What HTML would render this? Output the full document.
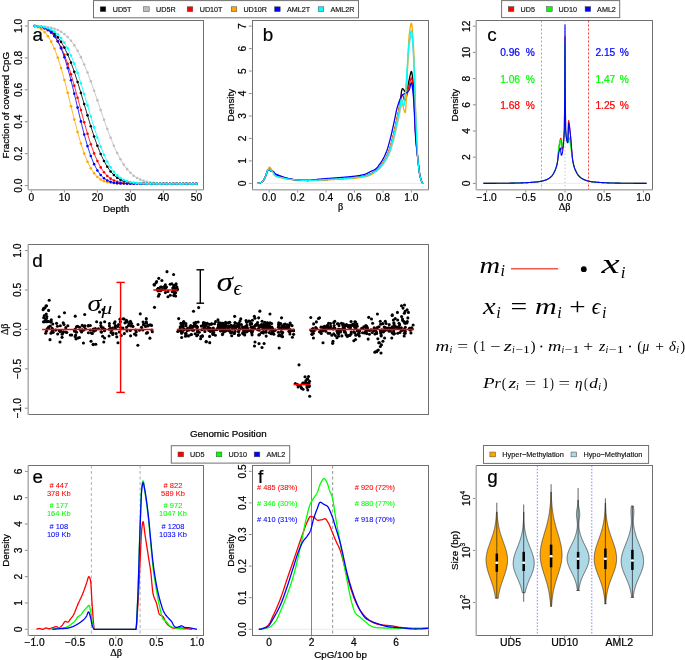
<!DOCTYPE html>
<html><head><meta charset="utf-8"><style>
html,body{margin:0;padding:0;background:#fff;width:685px;height:660px;overflow:hidden}
svg{display:block;will-change:transform}

</style></head><body>
<svg width="685" height="660" viewBox="0 0 685 660">
<rect width="685" height="660" fill="#fff"/>
<rect x="93.5" y="0.6" width="265" height="17.2" fill="#fff" stroke="#707070" stroke-width="1"/>
<rect x="100.2" y="6.8" width="5.6" height="4.8" fill="#000000" stroke="#444" stroke-width="0.5"/>
<text x="112.7" y="11.9" font-size="7.2" text-anchor="start" fill="#111" stroke="#111" stroke-width="0.16" font-family='"Liberation Sans", sans-serif'>UD5T</text>
<rect x="143.6" y="6.8" width="5.6" height="4.8" fill="#bebebe" stroke="#444" stroke-width="0.5"/>
<text x="156" y="11.9" font-size="7.2" text-anchor="start" fill="#111" stroke="#111" stroke-width="0.16" font-family='"Liberation Sans", sans-serif'>UD5R</text>
<rect x="187.2" y="6.8" width="5.6" height="4.8" fill="#ff0000" stroke="#444" stroke-width="0.5"/>
<text x="199.7" y="11.9" font-size="7.2" text-anchor="start" fill="#111" stroke="#111" stroke-width="0.16" font-family='"Liberation Sans", sans-serif'>UD10T</text>
<rect x="231.2" y="6.8" width="5.6" height="4.8" fill="#ffa500" stroke="#444" stroke-width="0.5"/>
<text x="243.4" y="11.9" font-size="7.2" text-anchor="start" fill="#111" stroke="#111" stroke-width="0.16" font-family='"Liberation Sans", sans-serif'>UD10R</text>
<rect x="274.6" y="6.8" width="5.6" height="4.8" fill="#0000ff" stroke="#444" stroke-width="0.5"/>
<text x="287" y="11.9" font-size="7.2" text-anchor="start" fill="#111" stroke="#111" stroke-width="0.16" font-family='"Liberation Sans", sans-serif'>AML2T</text>
<rect x="318.2" y="6.8" width="5.6" height="4.8" fill="#00ffff" stroke="#444" stroke-width="0.5"/>
<text x="330.5" y="11.9" font-size="7.2" text-anchor="start" fill="#111" stroke="#111" stroke-width="0.16" font-family='"Liberation Sans", sans-serif'>AML2R</text>
<rect x="28.5" y="20.5" width="175" height="169" fill="none" stroke="#707070" stroke-width="1"/>
<line x1="28" y1="190" x2="203.5" y2="190" stroke="#c4c4c4" stroke-width="1.5"/>
<line x1="31.4" y1="190.5" x2="31.4" y2="192.5" stroke="#707070" stroke-width="0.8"/>
<line x1="64.4" y1="190.5" x2="64.4" y2="192.5" stroke="#707070" stroke-width="0.8"/>
<line x1="97.4" y1="190.5" x2="97.4" y2="192.5" stroke="#707070" stroke-width="0.8"/>
<line x1="130.4" y1="190.5" x2="130.4" y2="192.5" stroke="#707070" stroke-width="0.8"/>
<line x1="163.4" y1="190.5" x2="163.4" y2="192.5" stroke="#707070" stroke-width="0.8"/>
<line x1="196.4" y1="190.5" x2="196.4" y2="192.5" stroke="#707070" stroke-width="0.8"/>
<text x="31.4" y="200.5" font-size="10.2" text-anchor="middle" fill="#000" stroke="#000" stroke-width="0.22" font-family='"Liberation Sans", sans-serif'>0</text>
<text x="64.4" y="200.5" font-size="10.2" text-anchor="middle" fill="#000" stroke="#000" stroke-width="0.22" font-family='"Liberation Sans", sans-serif'>10</text>
<text x="97.4" y="200.5" font-size="10.2" text-anchor="middle" fill="#000" stroke="#000" stroke-width="0.22" font-family='"Liberation Sans", sans-serif'>20</text>
<text x="130.4" y="200.5" font-size="10.2" text-anchor="middle" fill="#000" stroke="#000" stroke-width="0.22" font-family='"Liberation Sans", sans-serif'>30</text>
<text x="163.4" y="200.5" font-size="10.2" text-anchor="middle" fill="#000" stroke="#000" stroke-width="0.22" font-family='"Liberation Sans", sans-serif'>40</text>
<text x="196.4" y="200.5" font-size="10.2" text-anchor="middle" fill="#000" stroke="#000" stroke-width="0.22" font-family='"Liberation Sans", sans-serif'>50</text>
<line x1="28" y1="20.5" x2="28" y2="190" stroke="#c4c4c4" stroke-width="1.5"/>
<line x1="24.9" y1="185.6" x2="27.7" y2="185.6" stroke="#707070" stroke-width="0.8"/>
<line x1="24.9" y1="153.68" x2="27.7" y2="153.68" stroke="#707070" stroke-width="0.8"/>
<line x1="24.9" y1="121.76" x2="27.7" y2="121.76" stroke="#707070" stroke-width="0.8"/>
<line x1="24.9" y1="89.84" x2="27.7" y2="89.84" stroke="#707070" stroke-width="0.8"/>
<line x1="24.9" y1="57.92" x2="27.7" y2="57.92" stroke="#707070" stroke-width="0.8"/>
<line x1="24.9" y1="26" x2="27.7" y2="26" stroke="#707070" stroke-width="0.8"/>
<text x="21.7" y="185.6" font-size="10.2" text-anchor="middle" fill="#000" stroke="#000" stroke-width="0.22" font-family='"Liberation Sans", sans-serif' transform="rotate(-90 21.7 185.6)">0.0</text>
<text x="21.7" y="153.68" font-size="10.2" text-anchor="middle" fill="#000" stroke="#000" stroke-width="0.22" font-family='"Liberation Sans", sans-serif' transform="rotate(-90 21.7 153.68)">0.2</text>
<text x="21.7" y="121.76" font-size="10.2" text-anchor="middle" fill="#000" stroke="#000" stroke-width="0.22" font-family='"Liberation Sans", sans-serif' transform="rotate(-90 21.7 121.76)">0.4</text>
<text x="21.7" y="89.84" font-size="10.2" text-anchor="middle" fill="#000" stroke="#000" stroke-width="0.22" font-family='"Liberation Sans", sans-serif' transform="rotate(-90 21.7 89.84)">0.6</text>
<text x="21.7" y="57.92" font-size="10.2" text-anchor="middle" fill="#000" stroke="#000" stroke-width="0.22" font-family='"Liberation Sans", sans-serif' transform="rotate(-90 21.7 57.92)">0.8</text>
<text x="21.7" y="26" font-size="10.2" text-anchor="middle" fill="#000" stroke="#000" stroke-width="0.22" font-family='"Liberation Sans", sans-serif' transform="rotate(-90 21.7 26)">1.0</text>
<text x="116.1" y="212.4" font-size="9.8" text-anchor="middle" fill="#000" stroke="#000" stroke-width="0.22" font-family='"Liberation Sans", sans-serif'>Depth</text>
<text x="9" y="105.2" font-size="9.8" text-anchor="middle" fill="#000" stroke="#000" stroke-width="0.22" font-family='"Liberation Sans", sans-serif' transform="rotate(-90 9 105.2)">Fraction of covered CpG</text>
<text x="32.6" y="40.8" font-size="18.8" text-anchor="start" fill="#000" stroke="#000" stroke-width="0.22" font-family='"Liberation Sans", sans-serif'>a</text>
<path d="M34.7,26 L38,26.39 L41.3,26.99 L44.6,27.91 L47.9,29.26 L51.2,31.17 L54.5,33.81 L57.8,37.33 L61.1,41.88 L64.4,47.58 L67.7,54.5 L71,62.61 L74.3,71.85 L77.6,82.02 L80.9,92.88 L84.2,104.11 L87.5,115.35 L90.8,126.25 L94.1,136.49 L97.4,145.81 L100.7,154.02 L104,161.03 L107.3,166.82 L110.6,171.46 L113.9,175.06 L117.2,177.77 L120.5,179.73 L123.8,181.12 L127.1,182.07 L130.4,182.69 L133.7,183.1 L137,183.34 L140.3,183.49 L143.6,183.58 L146.9,183.63 L150.2,183.66 L153.5,183.67 L156.8,183.68 L160.1,183.68 L163.4,183.68 L166.7,183.68 L170,183.68 L173.3,183.68 L176.6,183.68 L179.9,183.68 L183.2,183.68 L186.5,183.68 L189.8,183.68 L193.1,183.68 L196.4,183.68" fill="none" stroke="#000000" stroke-width="0.8"/>
<g fill="#000000"><circle cx="34.7" cy="26" r="1.3"/><circle cx="38" cy="26.39" r="1.3"/><circle cx="41.3" cy="26.99" r="1.3"/><circle cx="44.6" cy="27.91" r="1.3"/><circle cx="47.9" cy="29.26" r="1.3"/><circle cx="51.2" cy="31.17" r="1.3"/><circle cx="54.5" cy="33.81" r="1.3"/><circle cx="57.8" cy="37.33" r="1.3"/><circle cx="61.1" cy="41.88" r="1.3"/><circle cx="64.4" cy="47.58" r="1.3"/><circle cx="67.7" cy="54.5" r="1.3"/><circle cx="71" cy="62.61" r="1.3"/><circle cx="74.3" cy="71.85" r="1.3"/><circle cx="77.6" cy="82.02" r="1.3"/><circle cx="80.9" cy="92.88" r="1.3"/><circle cx="84.2" cy="104.11" r="1.3"/><circle cx="87.5" cy="115.35" r="1.3"/><circle cx="90.8" cy="126.25" r="1.3"/><circle cx="94.1" cy="136.49" r="1.3"/><circle cx="97.4" cy="145.81" r="1.3"/><circle cx="100.7" cy="154.02" r="1.3"/><circle cx="104" cy="161.03" r="1.3"/><circle cx="107.3" cy="166.82" r="1.3"/><circle cx="110.6" cy="171.46" r="1.3"/><circle cx="113.9" cy="175.06" r="1.3"/><circle cx="117.2" cy="177.77" r="1.3"/><circle cx="120.5" cy="179.73" r="1.3"/><circle cx="123.8" cy="181.12" r="1.3"/><circle cx="127.1" cy="182.07" r="1.3"/><circle cx="130.4" cy="182.69" r="1.3"/><circle cx="133.7" cy="183.1" r="1.3"/><circle cx="137" cy="183.34" r="1.3"/><circle cx="140.3" cy="183.49" r="1.3"/><circle cx="143.6" cy="183.58" r="1.3"/><circle cx="146.9" cy="183.63" r="1.3"/><circle cx="150.2" cy="183.66" r="1.3"/><circle cx="153.5" cy="183.67" r="1.3"/><circle cx="156.8" cy="183.68" r="1.3"/><circle cx="160.1" cy="183.68" r="1.3"/><circle cx="163.4" cy="183.68" r="1.3"/><circle cx="166.7" cy="183.68" r="1.3"/><circle cx="170" cy="183.68" r="1.3"/><circle cx="173.3" cy="183.68" r="1.3"/><circle cx="176.6" cy="183.68" r="1.3"/><circle cx="179.9" cy="183.68" r="1.3"/><circle cx="183.2" cy="183.68" r="1.3"/><circle cx="186.5" cy="183.68" r="1.3"/><circle cx="189.8" cy="183.68" r="1.3"/><circle cx="193.1" cy="183.68" r="1.3"/><circle cx="196.4" cy="183.68" r="1.3"/></g>
<path d="M34.7,26 L38,26.13 L41.3,26.33 L44.6,26.64 L47.9,27.1 L51.2,27.76 L54.5,28.7 L57.8,30 L61.1,31.75 L64.4,34.06 L67.7,37.03 L71,40.76 L74.3,45.33 L77.6,50.79 L80.9,57.17 L84.2,64.45 L87.5,72.55 L90.8,81.35 L94.1,90.68 L97.4,100.35 L100.7,110.12 L104,119.76 L107.3,129.05 L110.6,137.78 L113.9,145.8 L117.2,152.99 L120.5,159.28 L123.8,164.66 L127.1,169.14 L130.4,172.78 L133.7,175.68 L137,177.93 L140.3,179.63 L143.6,180.89 L146.9,181.8 L150.2,182.44 L153.5,182.88 L156.8,183.18 L160.1,183.37 L163.4,183.5 L166.7,183.57 L170,183.62 L173.3,183.65 L176.6,183.66 L179.9,183.67 L183.2,183.68 L186.5,183.68 L189.8,183.68 L193.1,183.68 L196.4,183.68" fill="none" stroke="#bebebe" stroke-width="0.8"/>
<g fill="#bebebe"><circle cx="34.7" cy="26" r="1.3"/><circle cx="38" cy="26.13" r="1.3"/><circle cx="41.3" cy="26.33" r="1.3"/><circle cx="44.6" cy="26.64" r="1.3"/><circle cx="47.9" cy="27.1" r="1.3"/><circle cx="51.2" cy="27.76" r="1.3"/><circle cx="54.5" cy="28.7" r="1.3"/><circle cx="57.8" cy="30" r="1.3"/><circle cx="61.1" cy="31.75" r="1.3"/><circle cx="64.4" cy="34.06" r="1.3"/><circle cx="67.7" cy="37.03" r="1.3"/><circle cx="71" cy="40.76" r="1.3"/><circle cx="74.3" cy="45.33" r="1.3"/><circle cx="77.6" cy="50.79" r="1.3"/><circle cx="80.9" cy="57.17" r="1.3"/><circle cx="84.2" cy="64.45" r="1.3"/><circle cx="87.5" cy="72.55" r="1.3"/><circle cx="90.8" cy="81.35" r="1.3"/><circle cx="94.1" cy="90.68" r="1.3"/><circle cx="97.4" cy="100.35" r="1.3"/><circle cx="100.7" cy="110.12" r="1.3"/><circle cx="104" cy="119.76" r="1.3"/><circle cx="107.3" cy="129.05" r="1.3"/><circle cx="110.6" cy="137.78" r="1.3"/><circle cx="113.9" cy="145.8" r="1.3"/><circle cx="117.2" cy="152.99" r="1.3"/><circle cx="120.5" cy="159.28" r="1.3"/><circle cx="123.8" cy="164.66" r="1.3"/><circle cx="127.1" cy="169.14" r="1.3"/><circle cx="130.4" cy="172.78" r="1.3"/><circle cx="133.7" cy="175.68" r="1.3"/><circle cx="137" cy="177.93" r="1.3"/><circle cx="140.3" cy="179.63" r="1.3"/><circle cx="143.6" cy="180.89" r="1.3"/><circle cx="146.9" cy="181.8" r="1.3"/><circle cx="150.2" cy="182.44" r="1.3"/><circle cx="153.5" cy="182.88" r="1.3"/><circle cx="156.8" cy="183.18" r="1.3"/><circle cx="160.1" cy="183.37" r="1.3"/><circle cx="163.4" cy="183.5" r="1.3"/><circle cx="166.7" cy="183.57" r="1.3"/><circle cx="170" cy="183.62" r="1.3"/><circle cx="173.3" cy="183.65" r="1.3"/><circle cx="176.6" cy="183.66" r="1.3"/><circle cx="179.9" cy="183.67" r="1.3"/><circle cx="183.2" cy="183.68" r="1.3"/><circle cx="186.5" cy="183.68" r="1.3"/><circle cx="189.8" cy="183.68" r="1.3"/><circle cx="193.1" cy="183.68" r="1.3"/><circle cx="196.4" cy="183.68" r="1.3"/></g>
<path d="M34.7,26 L38,26.47 L41.3,27.24 L44.6,28.43 L47.9,30.21 L51.2,32.79 L54.5,36.36 L57.8,41.13 L61.1,47.26 L64.4,54.85 L67.7,63.87 L71,74.22 L74.3,85.63 L77.6,97.73 L80.9,110.1 L84.2,122.25 L87.5,133.74 L90.8,144.21 L94.1,153.38 L97.4,161.11 L100.7,167.38 L104,172.28 L107.3,175.96 L110.6,178.63 L113.9,180.48 L117.2,181.72 L120.5,182.53 L123.8,183.02 L127.1,183.32 L130.4,183.49 L133.7,183.59 L137,183.64 L140.3,183.66 L143.6,183.67 L146.9,183.68 L150.2,183.68 L153.5,183.68 L156.8,183.68 L160.1,183.68 L163.4,183.68 L166.7,183.68 L170,183.68 L173.3,183.68 L176.6,183.68 L179.9,183.68 L183.2,183.68 L186.5,183.68 L189.8,183.68 L193.1,183.68 L196.4,183.68" fill="none" stroke="#ff0000" stroke-width="0.8"/>
<g fill="#ff0000"><circle cx="34.7" cy="26" r="1.3"/><circle cx="38" cy="26.47" r="1.3"/><circle cx="41.3" cy="27.24" r="1.3"/><circle cx="44.6" cy="28.43" r="1.3"/><circle cx="47.9" cy="30.21" r="1.3"/><circle cx="51.2" cy="32.79" r="1.3"/><circle cx="54.5" cy="36.36" r="1.3"/><circle cx="57.8" cy="41.13" r="1.3"/><circle cx="61.1" cy="47.26" r="1.3"/><circle cx="64.4" cy="54.85" r="1.3"/><circle cx="67.7" cy="63.87" r="1.3"/><circle cx="71" cy="74.22" r="1.3"/><circle cx="74.3" cy="85.63" r="1.3"/><circle cx="77.6" cy="97.73" r="1.3"/><circle cx="80.9" cy="110.1" r="1.3"/><circle cx="84.2" cy="122.25" r="1.3"/><circle cx="87.5" cy="133.74" r="1.3"/><circle cx="90.8" cy="144.21" r="1.3"/><circle cx="94.1" cy="153.38" r="1.3"/><circle cx="97.4" cy="161.11" r="1.3"/><circle cx="100.7" cy="167.38" r="1.3"/><circle cx="104" cy="172.28" r="1.3"/><circle cx="107.3" cy="175.96" r="1.3"/><circle cx="110.6" cy="178.63" r="1.3"/><circle cx="113.9" cy="180.48" r="1.3"/><circle cx="117.2" cy="181.72" r="1.3"/><circle cx="120.5" cy="182.53" r="1.3"/><circle cx="123.8" cy="183.02" r="1.3"/><circle cx="127.1" cy="183.32" r="1.3"/><circle cx="130.4" cy="183.49" r="1.3"/><circle cx="133.7" cy="183.59" r="1.3"/><circle cx="137" cy="183.64" r="1.3"/><circle cx="140.3" cy="183.66" r="1.3"/><circle cx="143.6" cy="183.67" r="1.3"/><circle cx="146.9" cy="183.68" r="1.3"/><circle cx="150.2" cy="183.68" r="1.3"/><circle cx="153.5" cy="183.68" r="1.3"/><circle cx="156.8" cy="183.68" r="1.3"/><circle cx="160.1" cy="183.68" r="1.3"/><circle cx="163.4" cy="183.68" r="1.3"/><circle cx="166.7" cy="183.68" r="1.3"/><circle cx="170" cy="183.68" r="1.3"/><circle cx="173.3" cy="183.68" r="1.3"/><circle cx="176.6" cy="183.68" r="1.3"/><circle cx="179.9" cy="183.68" r="1.3"/><circle cx="183.2" cy="183.68" r="1.3"/><circle cx="186.5" cy="183.68" r="1.3"/><circle cx="189.8" cy="183.68" r="1.3"/><circle cx="193.1" cy="183.68" r="1.3"/><circle cx="196.4" cy="183.68" r="1.3"/></g>
<path d="M34.7,26 L38,27.26 L41.3,29.2 L44.6,32.08 L47.9,36.15 L51.2,41.66 L54.5,48.79 L57.8,57.63 L61.1,68.11 L64.4,79.99 L67.7,92.87 L71,106.23 L74.3,119.5 L77.6,132.09 L80.9,143.53 L84.2,153.47 L87.5,161.73 L90.8,168.29 L94.1,173.29 L97.4,176.93 L100.7,179.46 L104,181.14 L107.3,182.21 L110.6,182.87 L113.9,183.25 L117.2,183.46 L120.5,183.58 L123.8,183.63 L127.1,183.66 L130.4,183.67 L133.7,183.68 L137,183.68 L140.3,183.68 L143.6,183.68 L146.9,183.68 L150.2,183.68 L153.5,183.68 L156.8,183.68 L160.1,183.68 L163.4,183.68 L166.7,183.68 L170,183.68 L173.3,183.68 L176.6,183.68 L179.9,183.68 L183.2,183.68 L186.5,183.68 L189.8,183.68 L193.1,183.68 L196.4,183.68" fill="none" stroke="#ffa500" stroke-width="0.8"/>
<g fill="#ffa500"><circle cx="34.7" cy="26" r="1.3"/><circle cx="38" cy="27.26" r="1.3"/><circle cx="41.3" cy="29.2" r="1.3"/><circle cx="44.6" cy="32.08" r="1.3"/><circle cx="47.9" cy="36.15" r="1.3"/><circle cx="51.2" cy="41.66" r="1.3"/><circle cx="54.5" cy="48.79" r="1.3"/><circle cx="57.8" cy="57.63" r="1.3"/><circle cx="61.1" cy="68.11" r="1.3"/><circle cx="64.4" cy="79.99" r="1.3"/><circle cx="67.7" cy="92.87" r="1.3"/><circle cx="71" cy="106.23" r="1.3"/><circle cx="74.3" cy="119.5" r="1.3"/><circle cx="77.6" cy="132.09" r="1.3"/><circle cx="80.9" cy="143.53" r="1.3"/><circle cx="84.2" cy="153.47" r="1.3"/><circle cx="87.5" cy="161.73" r="1.3"/><circle cx="90.8" cy="168.29" r="1.3"/><circle cx="94.1" cy="173.29" r="1.3"/><circle cx="97.4" cy="176.93" r="1.3"/><circle cx="100.7" cy="179.46" r="1.3"/><circle cx="104" cy="181.14" r="1.3"/><circle cx="107.3" cy="182.21" r="1.3"/><circle cx="110.6" cy="182.87" r="1.3"/><circle cx="113.9" cy="183.25" r="1.3"/><circle cx="117.2" cy="183.46" r="1.3"/><circle cx="120.5" cy="183.58" r="1.3"/><circle cx="123.8" cy="183.63" r="1.3"/><circle cx="127.1" cy="183.66" r="1.3"/><circle cx="130.4" cy="183.67" r="1.3"/><circle cx="133.7" cy="183.68" r="1.3"/><circle cx="137" cy="183.68" r="1.3"/><circle cx="140.3" cy="183.68" r="1.3"/><circle cx="143.6" cy="183.68" r="1.3"/><circle cx="146.9" cy="183.68" r="1.3"/><circle cx="150.2" cy="183.68" r="1.3"/><circle cx="153.5" cy="183.68" r="1.3"/><circle cx="156.8" cy="183.68" r="1.3"/><circle cx="160.1" cy="183.68" r="1.3"/><circle cx="163.4" cy="183.68" r="1.3"/><circle cx="166.7" cy="183.68" r="1.3"/><circle cx="170" cy="183.68" r="1.3"/><circle cx="173.3" cy="183.68" r="1.3"/><circle cx="176.6" cy="183.68" r="1.3"/><circle cx="179.9" cy="183.68" r="1.3"/><circle cx="183.2" cy="183.68" r="1.3"/><circle cx="186.5" cy="183.68" r="1.3"/><circle cx="189.8" cy="183.68" r="1.3"/><circle cx="193.1" cy="183.68" r="1.3"/><circle cx="196.4" cy="183.68" r="1.3"/></g>
<path d="M34.7,26 L38,26.34 L41.3,26.95 L44.6,27.98 L47.9,29.66 L51.2,32.24 L54.5,36.02 L57.8,41.31 L61.1,48.33 L64.4,57.23 L67.7,67.94 L71,80.23 L74.3,93.65 L77.6,107.61 L80.9,121.42 L84.2,134.43 L87.5,146.1 L90.8,156.07 L94.1,164.17 L97.4,170.44 L100.7,175.06 L104,178.3 L107.3,180.47 L110.6,181.85 L113.9,182.68 L117.2,183.16 L120.5,183.42 L123.8,183.56 L127.1,183.63 L130.4,183.66 L133.7,183.67 L137,183.68 L140.3,183.68 L143.6,183.68 L146.9,183.68 L150.2,183.68 L153.5,183.68 L156.8,183.68 L160.1,183.68 L163.4,183.68 L166.7,183.68 L170,183.68 L173.3,183.68 L176.6,183.68 L179.9,183.68 L183.2,183.68 L186.5,183.68 L189.8,183.68 L193.1,183.68 L196.4,183.68" fill="none" stroke="#0000ff" stroke-width="0.8"/>
<g fill="#0000ff"><circle cx="34.7" cy="26" r="1.3"/><circle cx="38" cy="26.34" r="1.3"/><circle cx="41.3" cy="26.95" r="1.3"/><circle cx="44.6" cy="27.98" r="1.3"/><circle cx="47.9" cy="29.66" r="1.3"/><circle cx="51.2" cy="32.24" r="1.3"/><circle cx="54.5" cy="36.02" r="1.3"/><circle cx="57.8" cy="41.31" r="1.3"/><circle cx="61.1" cy="48.33" r="1.3"/><circle cx="64.4" cy="57.23" r="1.3"/><circle cx="67.7" cy="67.94" r="1.3"/><circle cx="71" cy="80.23" r="1.3"/><circle cx="74.3" cy="93.65" r="1.3"/><circle cx="77.6" cy="107.61" r="1.3"/><circle cx="80.9" cy="121.42" r="1.3"/><circle cx="84.2" cy="134.43" r="1.3"/><circle cx="87.5" cy="146.1" r="1.3"/><circle cx="90.8" cy="156.07" r="1.3"/><circle cx="94.1" cy="164.17" r="1.3"/><circle cx="97.4" cy="170.44" r="1.3"/><circle cx="100.7" cy="175.06" r="1.3"/><circle cx="104" cy="178.3" r="1.3"/><circle cx="107.3" cy="180.47" r="1.3"/><circle cx="110.6" cy="181.85" r="1.3"/><circle cx="113.9" cy="182.68" r="1.3"/><circle cx="117.2" cy="183.16" r="1.3"/><circle cx="120.5" cy="183.42" r="1.3"/><circle cx="123.8" cy="183.56" r="1.3"/><circle cx="127.1" cy="183.63" r="1.3"/><circle cx="130.4" cy="183.66" r="1.3"/><circle cx="133.7" cy="183.67" r="1.3"/><circle cx="137" cy="183.68" r="1.3"/><circle cx="140.3" cy="183.68" r="1.3"/><circle cx="143.6" cy="183.68" r="1.3"/><circle cx="146.9" cy="183.68" r="1.3"/><circle cx="150.2" cy="183.68" r="1.3"/><circle cx="153.5" cy="183.68" r="1.3"/><circle cx="156.8" cy="183.68" r="1.3"/><circle cx="160.1" cy="183.68" r="1.3"/><circle cx="163.4" cy="183.68" r="1.3"/><circle cx="166.7" cy="183.68" r="1.3"/><circle cx="170" cy="183.68" r="1.3"/><circle cx="173.3" cy="183.68" r="1.3"/><circle cx="176.6" cy="183.68" r="1.3"/><circle cx="179.9" cy="183.68" r="1.3"/><circle cx="183.2" cy="183.68" r="1.3"/><circle cx="186.5" cy="183.68" r="1.3"/><circle cx="189.8" cy="183.68" r="1.3"/><circle cx="193.1" cy="183.68" r="1.3"/><circle cx="196.4" cy="183.68" r="1.3"/></g>
<path d="M34.7,26 L38,26.25 L41.3,26.65 L44.6,27.29 L47.9,28.24 L51.2,29.63 L54.5,31.61 L57.8,34.33 L61.1,37.94 L64.4,42.6 L67.7,48.41 L71,55.43 L74.3,63.66 L77.6,72.98 L80.9,83.22 L84.2,94.12 L87.5,105.35 L90.8,116.55 L94.1,127.39 L97.4,137.53 L100.7,146.73 L104,154.82 L107.3,161.69 L110.6,167.36 L113.9,171.88 L117.2,175.38 L120.5,178 L123.8,179.9 L127.1,181.24 L130.4,182.15 L133.7,182.74 L137,183.13 L140.3,183.36 L143.6,183.51 L146.9,183.59 L150.2,183.63 L153.5,183.66 L156.8,183.67 L160.1,183.68 L163.4,183.68 L166.7,183.68 L170,183.68 L173.3,183.68 L176.6,183.68 L179.9,183.68 L183.2,183.68 L186.5,183.68 L189.8,183.68 L193.1,183.68 L196.4,183.68" fill="none" stroke="#00ffff" stroke-width="0.8"/>
<g fill="#00ffff"><circle cx="34.7" cy="26" r="1.3"/><circle cx="38" cy="26.25" r="1.3"/><circle cx="41.3" cy="26.65" r="1.3"/><circle cx="44.6" cy="27.29" r="1.3"/><circle cx="47.9" cy="28.24" r="1.3"/><circle cx="51.2" cy="29.63" r="1.3"/><circle cx="54.5" cy="31.61" r="1.3"/><circle cx="57.8" cy="34.33" r="1.3"/><circle cx="61.1" cy="37.94" r="1.3"/><circle cx="64.4" cy="42.6" r="1.3"/><circle cx="67.7" cy="48.41" r="1.3"/><circle cx="71" cy="55.43" r="1.3"/><circle cx="74.3" cy="63.66" r="1.3"/><circle cx="77.6" cy="72.98" r="1.3"/><circle cx="80.9" cy="83.22" r="1.3"/><circle cx="84.2" cy="94.12" r="1.3"/><circle cx="87.5" cy="105.35" r="1.3"/><circle cx="90.8" cy="116.55" r="1.3"/><circle cx="94.1" cy="127.39" r="1.3"/><circle cx="97.4" cy="137.53" r="1.3"/><circle cx="100.7" cy="146.73" r="1.3"/><circle cx="104" cy="154.82" r="1.3"/><circle cx="107.3" cy="161.69" r="1.3"/><circle cx="110.6" cy="167.36" r="1.3"/><circle cx="113.9" cy="171.88" r="1.3"/><circle cx="117.2" cy="175.38" r="1.3"/><circle cx="120.5" cy="178" r="1.3"/><circle cx="123.8" cy="179.9" r="1.3"/><circle cx="127.1" cy="181.24" r="1.3"/><circle cx="130.4" cy="182.15" r="1.3"/><circle cx="133.7" cy="182.74" r="1.3"/><circle cx="137" cy="183.13" r="1.3"/><circle cx="140.3" cy="183.36" r="1.3"/><circle cx="143.6" cy="183.51" r="1.3"/><circle cx="146.9" cy="183.59" r="1.3"/><circle cx="150.2" cy="183.63" r="1.3"/><circle cx="153.5" cy="183.66" r="1.3"/><circle cx="156.8" cy="183.67" r="1.3"/><circle cx="160.1" cy="183.68" r="1.3"/><circle cx="163.4" cy="183.68" r="1.3"/><circle cx="166.7" cy="183.68" r="1.3"/><circle cx="170" cy="183.68" r="1.3"/><circle cx="173.3" cy="183.68" r="1.3"/><circle cx="176.6" cy="183.68" r="1.3"/><circle cx="179.9" cy="183.68" r="1.3"/><circle cx="183.2" cy="183.68" r="1.3"/><circle cx="186.5" cy="183.68" r="1.3"/><circle cx="189.8" cy="183.68" r="1.3"/><circle cx="193.1" cy="183.68" r="1.3"/><circle cx="196.4" cy="183.68" r="1.3"/></g>
<rect x="252.5" y="20.5" width="176" height="169" fill="none" stroke="#707070" stroke-width="1"/>
<line x1="252" y1="190" x2="428.5" y2="190" stroke="#c4c4c4" stroke-width="1.5"/>
<line x1="269.2" y1="190.5" x2="269.2" y2="192.5" stroke="#707070" stroke-width="0.8"/>
<line x1="297.64" y1="190.5" x2="297.64" y2="192.5" stroke="#707070" stroke-width="0.8"/>
<line x1="326.08" y1="190.5" x2="326.08" y2="192.5" stroke="#707070" stroke-width="0.8"/>
<line x1="354.52" y1="190.5" x2="354.52" y2="192.5" stroke="#707070" stroke-width="0.8"/>
<line x1="382.96" y1="190.5" x2="382.96" y2="192.5" stroke="#707070" stroke-width="0.8"/>
<line x1="411.4" y1="190.5" x2="411.4" y2="192.5" stroke="#707070" stroke-width="0.8"/>
<text x="269.2" y="200.5" font-size="10.2" text-anchor="middle" fill="#000" stroke="#000" stroke-width="0.22" font-family='"Liberation Sans", sans-serif'>0.0</text>
<text x="297.64" y="200.5" font-size="10.2" text-anchor="middle" fill="#000" stroke="#000" stroke-width="0.22" font-family='"Liberation Sans", sans-serif'>0.2</text>
<text x="326.08" y="200.5" font-size="10.2" text-anchor="middle" fill="#000" stroke="#000" stroke-width="0.22" font-family='"Liberation Sans", sans-serif'>0.4</text>
<text x="354.52" y="200.5" font-size="10.2" text-anchor="middle" fill="#000" stroke="#000" stroke-width="0.22" font-family='"Liberation Sans", sans-serif'>0.6</text>
<text x="382.96" y="200.5" font-size="10.2" text-anchor="middle" fill="#000" stroke="#000" stroke-width="0.22" font-family='"Liberation Sans", sans-serif'>0.8</text>
<text x="411.4" y="200.5" font-size="10.2" text-anchor="middle" fill="#000" stroke="#000" stroke-width="0.22" font-family='"Liberation Sans", sans-serif'>1.0</text>
<line x1="248.9" y1="183.4" x2="251.7" y2="183.4" stroke="#707070" stroke-width="0.8"/>
<line x1="248.9" y1="160.93" x2="251.7" y2="160.93" stroke="#707070" stroke-width="0.8"/>
<line x1="248.9" y1="138.46" x2="251.7" y2="138.46" stroke="#707070" stroke-width="0.8"/>
<line x1="248.9" y1="115.99" x2="251.7" y2="115.99" stroke="#707070" stroke-width="0.8"/>
<line x1="248.9" y1="93.52" x2="251.7" y2="93.52" stroke="#707070" stroke-width="0.8"/>
<line x1="248.9" y1="71.05" x2="251.7" y2="71.05" stroke="#707070" stroke-width="0.8"/>
<line x1="248.9" y1="48.58" x2="251.7" y2="48.58" stroke="#707070" stroke-width="0.8"/>
<line x1="248.9" y1="26.11" x2="251.7" y2="26.11" stroke="#707070" stroke-width="0.8"/>
<text x="245.7" y="183.4" font-size="10.2" text-anchor="middle" fill="#000" stroke="#000" stroke-width="0.22" font-family='"Liberation Sans", sans-serif' transform="rotate(-90 245.7 183.4)">0</text>
<text x="245.7" y="160.93" font-size="10.2" text-anchor="middle" fill="#000" stroke="#000" stroke-width="0.22" font-family='"Liberation Sans", sans-serif' transform="rotate(-90 245.7 160.93)">1</text>
<text x="245.7" y="138.46" font-size="10.2" text-anchor="middle" fill="#000" stroke="#000" stroke-width="0.22" font-family='"Liberation Sans", sans-serif' transform="rotate(-90 245.7 138.46)">2</text>
<text x="245.7" y="115.99" font-size="10.2" text-anchor="middle" fill="#000" stroke="#000" stroke-width="0.22" font-family='"Liberation Sans", sans-serif' transform="rotate(-90 245.7 115.99)">3</text>
<text x="245.7" y="93.52" font-size="10.2" text-anchor="middle" fill="#000" stroke="#000" stroke-width="0.22" font-family='"Liberation Sans", sans-serif' transform="rotate(-90 245.7 93.52)">4</text>
<text x="245.7" y="71.05" font-size="10.2" text-anchor="middle" fill="#000" stroke="#000" stroke-width="0.22" font-family='"Liberation Sans", sans-serif' transform="rotate(-90 245.7 71.05)">5</text>
<text x="245.7" y="48.58" font-size="10.2" text-anchor="middle" fill="#000" stroke="#000" stroke-width="0.22" font-family='"Liberation Sans", sans-serif' transform="rotate(-90 245.7 48.58)">6</text>
<text x="245.7" y="26.11" font-size="10.2" text-anchor="middle" fill="#000" stroke="#000" stroke-width="0.22" font-family='"Liberation Sans", sans-serif' transform="rotate(-90 245.7 26.11)">7</text>
<text x="340.6" y="210.2" font-size="10.3" text-anchor="middle" fill="#000" stroke="#000" stroke-width="0.22" font-family='"Liberation Serif", serif'>β</text>
<text x="234" y="105.2" font-size="9.8" text-anchor="middle" fill="#000" stroke="#000" stroke-width="0.22" font-family='"Liberation Sans", sans-serif' transform="rotate(-90 234 105.2)">Density</text>
<text x="262.8" y="40.9" font-size="18.8" text-anchor="start" fill="#000" stroke="#000" stroke-width="0.22" font-family='"Liberation Sans", sans-serif'>b</text>
<line x1="256.4" y1="183.4" x2="424.2" y2="183.4" stroke="#e6e6e6" stroke-width="0.8"/>
<path d="M256.97,183.4 L257.3,183.39 L257.64,183.37 L257.97,183.33 L258.3,183.28 L258.64,183.22 L258.97,183.15 L259.3,183.08 L259.63,183 L259.81,182.95 L259.97,182.91 L260.3,182.8 L260.63,182.66 L260.96,182.5 L261.3,182.3 L261.63,182.09 L261.96,181.85 L262.3,181.59 L262.63,181.31 L262.8,181.15 L262.96,180.99 L263.29,180.59 L263.63,180.09 L263.96,179.51 L264.29,178.88 L264.63,178.2 L264.96,177.48 L265.29,176.76 L265.62,176.03 L265.64,175.98 L265.96,175.2 L266.29,174.19 L266.62,173.11 L266.96,172.07 L267.29,171.18 L267.62,170.55 L267.78,170.37 L267.95,170.22 L268.29,169.96 L268.62,169.74 L268.95,169.58 L269.29,169.48 L269.48,169.47 L269.62,169.49 L269.95,169.71 L270.28,170.09 L270.62,170.52 L270.95,170.92 L271.19,171.14 L271.28,171.2 L271.62,171.4 L271.95,171.56 L272.28,171.71 L272.61,171.88 L272.95,172.09 L273.04,172.17 L273.28,172.41 L273.61,172.89 L273.95,173.47 L274.28,174.08 L274.61,174.65 L274.94,175.1 L275.17,175.31 L275.28,175.38 L275.61,175.58 L275.94,175.76 L276.28,175.91 L276.61,176.05 L276.94,176.17 L277.27,176.28 L277.61,176.39 L277.73,176.43 L277.94,176.5 L278.27,176.61 L278.61,176.71 L278.94,176.8 L279.27,176.89 L279.6,176.98 L279.94,177.06 L280.27,177.15 L280.6,177.23 L280.94,177.31 L281.27,177.38 L281.6,177.46 L281.93,177.54 L282,177.56 L282.27,177.62 L282.6,177.71 L282.93,177.79 L283.27,177.87 L283.6,177.95 L283.93,178.04 L284.26,178.12 L284.6,178.2 L284.93,178.28 L285.26,178.36 L285.6,178.44 L285.93,178.52 L286.26,178.59 L286.59,178.67 L286.93,178.74 L287.26,178.81 L287.59,178.87 L287.93,178.94 L288.26,179 L288.59,179.05 L288.92,179.1 L289.11,179.13 L289.26,179.15 L289.59,179.2 L289.92,179.25 L290.26,179.29 L290.59,179.33 L290.92,179.38 L291.25,179.42 L291.59,179.46 L291.92,179.5 L292.25,179.54 L292.59,179.58 L292.92,179.62 L293.25,179.65 L293.58,179.69 L293.92,179.72 L294.25,179.76 L294.58,179.79 L294.92,179.82 L295.25,179.85 L295.58,179.88 L295.91,179.9 L296.25,179.93 L296.58,179.96 L296.91,179.98 L297.25,180 L297.58,180.03 L297.64,180.03 L297.91,180.05 L298.24,180.07 L298.58,180.09 L298.91,180.11 L299.24,180.13 L299.57,180.15 L299.91,180.18 L300.24,180.2 L300.57,180.22 L300.91,180.24 L301.24,180.26 L301.57,180.28 L301.9,180.3 L302.24,180.31 L302.57,180.33 L302.9,180.35 L303.24,180.36 L303.57,180.38 L303.9,180.39 L304.23,180.41 L304.57,180.42 L304.9,180.43 L305.23,180.44 L305.57,180.45 L305.9,180.46 L306.23,180.47 L306.56,180.47 L306.9,180.48 L307.23,180.48 L307.56,180.48 L307.59,180.48 L307.9,180.48 L308.23,180.48 L308.56,180.47 L308.89,180.47 L309.23,180.46 L309.56,180.46 L309.89,180.45 L310.23,180.44 L310.56,180.43 L310.89,180.42 L311.22,180.41 L311.56,180.4 L311.89,180.38 L312.22,180.37 L312.56,180.36 L312.89,180.34 L313.22,180.33 L313.55,180.31 L313.89,180.29 L314.22,180.28 L314.55,180.26 L314.89,180.24 L315.22,180.23 L315.55,180.21 L315.88,180.19 L316.22,180.17 L316.55,180.15 L316.88,180.14 L317.22,180.12 L317.55,180.1 L317.88,180.08 L318.21,180.07 L318.55,180.05 L318.88,180.03 L318.97,180.03 L319.21,180.02 L319.55,180 L319.88,179.98 L320.21,179.97 L320.54,179.95 L320.88,179.93 L321.21,179.91 L321.54,179.89 L321.88,179.87 L322.21,179.85 L322.54,179.83 L322.87,179.81 L323.21,179.79 L323.54,179.77 L323.87,179.75 L324.21,179.73 L324.54,179.71 L324.87,179.69 L325.2,179.66 L325.54,179.64 L325.87,179.62 L326.2,179.6 L326.54,179.58 L326.87,179.55 L327.2,179.53 L327.53,179.51 L327.87,179.49 L328.2,179.46 L328.53,179.44 L328.87,179.42 L329.2,179.4 L329.53,179.37 L329.86,179.35 L330.2,179.33 L330.53,179.3 L330.86,179.28 L331.2,179.26 L331.53,179.24 L331.86,179.22 L332.19,179.19 L332.53,179.17 L332.86,179.15 L333.19,179.13 L333.19,179.13 L333.53,179.11 L333.86,179.09 L334.19,179.07 L334.52,179.05 L334.86,179.03 L335.19,179.01 L335.52,178.99 L335.86,178.97 L336.19,178.95 L336.52,178.93 L336.85,178.91 L337.19,178.89 L337.52,178.87 L337.85,178.85 L338.18,178.83 L338.52,178.81 L338.85,178.79 L339.18,178.77 L339.52,178.75 L339.85,178.73 L340.18,178.71 L340.51,178.69 L340.85,178.67 L341.18,178.65 L341.51,178.63 L341.85,178.61 L342.18,178.59 L342.51,178.57 L342.84,178.55 L343.18,178.52 L343.51,178.5 L343.84,178.48 L344.18,178.46 L344.51,178.44 L344.84,178.41 L345.17,178.39 L345.51,178.37 L345.84,178.35 L346.17,178.32 L346.51,178.3 L346.84,178.27 L347.17,178.25 L347.41,178.23 L347.5,178.22 L347.84,178.2 L348.17,178.17 L348.5,178.15 L348.84,178.12 L349.17,178.1 L349.5,178.07 L349.83,178.05 L350.17,178.02 L350.5,177.99 L350.83,177.97 L351.17,177.94 L351.5,177.91 L351.83,177.88 L352.16,177.85 L352.5,177.82 L352.83,177.8 L353.16,177.77 L353.5,177.73 L353.83,177.7 L354.16,177.67 L354.49,177.64 L354.83,177.61 L355.16,177.57 L355.49,177.54 L355.83,177.5 L356.16,177.47 L356.49,177.43 L356.82,177.39 L357.16,177.36 L357.36,177.33 L357.49,177.32 L357.82,177.28 L358.16,177.24 L358.49,177.2 L358.82,177.16 L359.15,177.11 L359.49,177.07 L359.82,177.02 L360.15,176.98 L360.49,176.93 L360.82,176.88 L361.15,176.83 L361.48,176.78 L361.82,176.72 L362.15,176.67 L362.48,176.61 L362.82,176.55 L363.15,176.48 L363.48,176.42 L363.81,176.35 L364.15,176.28 L364.47,176.21 L364.48,176.21 L364.81,176.13 L365.15,176.05 L365.48,175.95 L365.81,175.86 L366.14,175.75 L366.48,175.64 L366.81,175.53 L367.14,175.41 L367.48,175.28 L367.81,175.15 L368.14,175.02 L368.47,174.89 L368.81,174.75 L369.14,174.61 L369.47,174.46 L369.81,174.32 L370.14,174.17 L370.47,174.02 L370.8,173.87 L371.14,173.72 L371.47,173.57 L371.58,173.51 L371.8,173.41 L372.14,173.26 L372.47,173.11 L372.8,172.95 L373.13,172.79 L373.47,172.64 L373.8,172.47 L374.13,172.31 L374.47,172.14 L374.8,171.96 L375.13,171.78 L375.46,171.6 L375.8,171.41 L376.13,171.21 L376.46,171.01 L376.79,170.81 L377.13,170.59 L377.46,170.37 L377.79,170.14 L378.13,169.9 L378.46,169.65 L378.69,169.47 L378.79,169.39 L379.12,169.12 L379.46,168.82 L379.79,168.51 L380.12,168.17 L380.46,167.82 L380.79,167.46 L381.12,167.08 L381.45,166.68 L381.79,166.27 L382.12,165.85 L382.45,165.42 L382.79,164.98 L383.12,164.52 L383.45,164.06 L383.78,163.59 L384.12,163.11 L384.38,162.73 L384.45,162.63 L384.78,162.13 L385.12,161.63 L385.45,161.11 L385.78,160.57 L386.11,160.02 L386.45,159.45 L386.78,158.87 L387.11,158.27 L387.45,157.64 L387.78,157 L388.11,156.34 L388.44,155.65 L388.78,154.94 L389.11,154.2 L389.44,153.44 L389.78,152.66 L390.07,151.94 L390.11,151.85 L390.44,150.98 L390.77,150.04 L391.11,149.04 L391.44,147.99 L391.77,146.88 L392.11,145.73 L392.44,144.54 L392.77,143.32 L393.1,142.08 L393.44,140.81 L393.77,139.53 L394.1,138.24 L394.34,137.34 L394.44,136.95 L394.77,135.61 L395.1,134.23 L395.43,132.81 L395.77,131.35 L396.1,129.86 L396.43,128.35 L396.77,126.81 L397.1,125.26 L397.43,123.71 L397.76,122.14 L398.1,120.59 L398.43,119.03 L398.6,118.24 L398.76,117.49 L399.1,115.89 L399.43,114.27 L399.76,112.64 L400.09,111.04 L400.43,109.49 L400.74,108.13 L400.76,108.02 L401.09,106.59 L401.43,105.18 L401.76,103.87 L402.09,102.71 L402.16,102.51 L402.42,101.76 L402.76,100.97 L403.09,100.3 L403.42,99.68 L403.76,99.07 L404.09,98.39 L404.42,97.6 L404.75,96.63 L405,95.77 L405.09,95.41 L405.42,93.37 L405.75,90.43 L406.09,86.75 L406.42,82.49 L406.75,77.81 L407.08,72.88 L407.42,67.84 L407.75,62.88 L408.08,58.13 L408.42,53.77 L408.75,49.96 L409.08,46.85 L409.27,45.48 L409.41,44.5 L409.75,42.24 L410.08,40.06 L410.41,38.1 L410.75,36.52 L411.08,35.46 L411.4,35.1 L411.41,35.1 L411.74,35.94 L412.08,38.17 L412.41,41.51 L412.74,45.69 L413.08,50.42 L413.41,55.44 L413.53,57.34 L413.74,61.07 L414.07,69.05 L414.41,78.79 L414.74,89.42 L415.07,100.11 L415.4,110 L415.67,116.66 L415.74,118.32 L416.07,126.05 L416.4,133.66 L416.74,140.9 L417.07,147.52 L417.4,153.28 L417.73,157.93 L417.8,158.68 L418.07,161.6 L418.4,164.9 L418.73,167.84 L419.07,170.44 L419.4,172.68 L419.73,174.57 L419.93,175.54 L420.06,176.13 L420.4,177.52 L420.73,178.78 L421.06,179.9 L421.4,180.86 L421.73,181.65 L422.06,182.27 L422.06,182.28 L422.39,182.76 L422.73,183.15 L423.06,183.4" fill="none" stroke="#bebebe" stroke-width="1.3" stroke-linejoin="round"/>
<path d="M256.97,183.4 L257.3,183.39 L257.64,183.37 L257.97,183.33 L258.3,183.28 L258.64,183.22 L258.97,183.15 L259.3,183.08 L259.63,183 L259.81,182.95 L259.97,182.91 L260.3,182.8 L260.63,182.66 L260.96,182.5 L261.3,182.3 L261.63,182.09 L261.96,181.85 L262.3,181.59 L262.63,181.31 L262.8,181.15 L262.96,180.99 L263.29,180.59 L263.63,180.09 L263.96,179.51 L264.29,178.88 L264.63,178.2 L264.96,177.48 L265.29,176.76 L265.62,176.03 L265.64,175.98 L265.96,175.22 L266.29,174.27 L266.62,173.26 L266.96,172.26 L267.29,171.36 L267.62,170.63 L267.78,170.37 L267.95,170.1 L268.29,169.61 L268.62,169.17 L268.95,168.82 L269.29,168.61 L269.48,168.57 L269.62,168.59 L269.95,168.82 L270.28,169.21 L270.62,169.67 L270.95,170.11 L271.19,170.35 L271.28,170.42 L271.62,170.66 L271.95,170.87 L272.28,171.07 L272.61,171.28 L272.95,171.53 L273.04,171.6 L273.28,171.84 L273.61,172.25 L273.95,172.72 L274.28,173.2 L274.61,173.64 L274.94,174 L275.17,174.19 L275.28,174.25 L275.61,174.45 L275.94,174.61 L276.28,174.76 L276.61,174.89 L276.94,175.01 L277.27,175.14 L277.61,175.26 L277.73,175.31 L277.94,175.39 L278.27,175.53 L278.61,175.66 L278.94,175.79 L279.27,175.92 L279.6,176.05 L279.94,176.17 L280.27,176.29 L280.6,176.41 L280.94,176.53 L281.27,176.65 L281.6,176.76 L281.93,176.86 L282,176.88 L282.27,176.97 L282.6,177.07 L282.93,177.18 L283.27,177.28 L283.6,177.38 L283.93,177.48 L284.26,177.58 L284.6,177.68 L284.93,177.77 L285.26,177.87 L285.6,177.96 L285.93,178.05 L286.26,178.14 L286.59,178.23 L286.93,178.31 L287.26,178.39 L287.59,178.47 L287.93,178.55 L288.26,178.62 L288.59,178.69 L288.92,178.76 L289.11,178.79 L289.26,178.82 L289.59,178.88 L289.92,178.95 L290.26,179.01 L290.59,179.07 L290.92,179.13 L291.25,179.19 L291.59,179.25 L291.92,179.3 L292.25,179.36 L292.59,179.42 L292.92,179.47 L293.25,179.52 L293.58,179.57 L293.92,179.62 L294.25,179.67 L294.58,179.71 L294.92,179.76 L295.25,179.8 L295.58,179.84 L295.91,179.87 L296.25,179.91 L296.58,179.94 L296.91,179.97 L297.25,180 L297.58,180.03 L297.64,180.03 L297.91,180.05 L298.24,180.07 L298.58,180.09 L298.91,180.12 L299.24,180.14 L299.57,180.16 L299.91,180.18 L300.24,180.2 L300.57,180.23 L300.91,180.25 L301.24,180.27 L301.57,180.28 L301.9,180.3 L302.24,180.32 L302.57,180.34 L302.9,180.36 L303.24,180.37 L303.57,180.39 L303.9,180.4 L304.23,180.41 L304.57,180.42 L304.9,180.44 L305.23,180.44 L305.57,180.45 L305.9,180.46 L306.23,180.47 L306.56,180.47 L306.9,180.48 L307.23,180.48 L307.56,180.48 L307.59,180.48 L307.9,180.48 L308.23,180.48 L308.56,180.47 L308.89,180.47 L309.23,180.46 L309.56,180.46 L309.89,180.45 L310.23,180.44 L310.56,180.43 L310.89,180.42 L311.22,180.41 L311.56,180.4 L311.89,180.38 L312.22,180.37 L312.56,180.36 L312.89,180.34 L313.22,180.33 L313.55,180.31 L313.89,180.29 L314.22,180.28 L314.55,180.26 L314.89,180.24 L315.22,180.23 L315.55,180.21 L315.88,180.19 L316.22,180.17 L316.55,180.15 L316.88,180.14 L317.22,180.12 L317.55,180.1 L317.88,180.08 L318.21,180.07 L318.55,180.05 L318.88,180.03 L318.97,180.03 L319.21,180.02 L319.55,180 L319.88,179.98 L320.21,179.97 L320.54,179.95 L320.88,179.93 L321.21,179.91 L321.54,179.89 L321.88,179.87 L322.21,179.85 L322.54,179.83 L322.87,179.81 L323.21,179.79 L323.54,179.77 L323.87,179.75 L324.21,179.73 L324.54,179.71 L324.87,179.69 L325.2,179.66 L325.54,179.64 L325.87,179.62 L326.2,179.6 L326.54,179.58 L326.87,179.55 L327.2,179.53 L327.53,179.51 L327.87,179.49 L328.2,179.46 L328.53,179.44 L328.87,179.42 L329.2,179.4 L329.53,179.37 L329.86,179.35 L330.2,179.33 L330.53,179.3 L330.86,179.28 L331.2,179.26 L331.53,179.24 L331.86,179.22 L332.19,179.19 L332.53,179.17 L332.86,179.15 L333.19,179.13 L333.19,179.13 L333.53,179.11 L333.86,179.09 L334.19,179.07 L334.52,179.05 L334.86,179.03 L335.19,179.01 L335.52,178.99 L335.86,178.97 L336.19,178.95 L336.52,178.93 L336.85,178.91 L337.19,178.89 L337.52,178.87 L337.85,178.85 L338.18,178.83 L338.52,178.81 L338.85,178.79 L339.18,178.77 L339.52,178.75 L339.85,178.73 L340.18,178.71 L340.51,178.69 L340.85,178.67 L341.18,178.65 L341.51,178.63 L341.85,178.61 L342.18,178.59 L342.51,178.57 L342.84,178.55 L343.18,178.52 L343.51,178.5 L343.84,178.48 L344.18,178.46 L344.51,178.44 L344.84,178.41 L345.17,178.39 L345.51,178.37 L345.84,178.35 L346.17,178.32 L346.51,178.3 L346.84,178.27 L347.17,178.25 L347.41,178.23 L347.5,178.22 L347.84,178.2 L348.17,178.17 L348.5,178.15 L348.84,178.12 L349.17,178.1 L349.5,178.07 L349.83,178.05 L350.17,178.02 L350.5,177.99 L350.83,177.97 L351.17,177.94 L351.5,177.91 L351.83,177.88 L352.16,177.85 L352.5,177.82 L352.83,177.8 L353.16,177.77 L353.5,177.73 L353.83,177.7 L354.16,177.67 L354.49,177.64 L354.83,177.61 L355.16,177.57 L355.49,177.54 L355.83,177.5 L356.16,177.47 L356.49,177.43 L356.82,177.39 L357.16,177.36 L357.36,177.33 L357.49,177.32 L357.82,177.28 L358.16,177.24 L358.49,177.2 L358.82,177.16 L359.15,177.11 L359.49,177.07 L359.82,177.02 L360.15,176.98 L360.49,176.93 L360.82,176.88 L361.15,176.83 L361.48,176.78 L361.82,176.72 L362.15,176.67 L362.48,176.61 L362.82,176.55 L363.15,176.48 L363.48,176.42 L363.81,176.35 L364.15,176.28 L364.47,176.21 L364.48,176.21 L364.81,176.13 L365.15,176.05 L365.48,175.96 L365.81,175.86 L366.14,175.77 L366.48,175.66 L366.81,175.55 L367.14,175.44 L367.48,175.32 L367.81,175.19 L368.14,175.06 L368.47,174.93 L368.81,174.79 L369.14,174.65 L369.47,174.51 L369.81,174.36 L370.14,174.21 L370.47,174.05 L370.8,173.9 L371.14,173.73 L371.47,173.57 L371.58,173.51 L371.8,173.4 L372.14,173.22 L372.47,173.04 L372.8,172.84 L373.13,172.64 L373.47,172.43 L373.8,172.21 L374.13,171.98 L374.47,171.74 L374.8,171.5 L375.13,171.25 L375.46,170.99 L375.8,170.72 L376.13,170.45 L376.46,170.17 L376.79,169.89 L377.13,169.6 L377.27,169.47 L377.46,169.3 L377.79,168.99 L378.13,168.67 L378.46,168.34 L378.79,167.99 L379.12,167.63 L379.46,167.27 L379.79,166.89 L380.12,166.49 L380.46,166.09 L380.79,165.68 L381.12,165.26 L381.45,164.82 L381.79,164.38 L382.12,163.92 L382.45,163.46 L382.79,162.98 L382.96,162.73 L383.12,162.49 L383.45,162 L383.78,161.49 L384.12,160.96 L384.45,160.42 L384.78,159.87 L385.12,159.3 L385.45,158.71 L385.78,158.1 L386.11,157.47 L386.45,156.82 L386.78,156.15 L387.11,155.46 L387.45,154.74 L387.78,154 L388.11,153.23 L388.44,152.44 L388.65,151.94 L388.78,151.62 L389.11,150.73 L389.44,149.77 L389.78,148.76 L390.11,147.69 L390.44,146.57 L390.77,145.41 L391.11,144.21 L391.44,142.99 L391.77,141.73 L392.11,140.46 L392.44,139.18 L392.77,137.89 L392.91,137.34 L393.1,136.59 L393.44,135.24 L393.77,133.85 L394.1,132.42 L394.44,130.95 L394.77,129.45 L395.1,127.93 L395.43,126.39 L395.77,124.84 L396.1,123.28 L396.43,121.72 L396.77,120.16 L397.1,118.61 L397.18,118.24 L397.43,117.08 L397.76,115.58 L398.1,114.06 L398.43,112.52 L398.76,110.93 L399.1,109.26 L399.31,108.13 L399.43,107.48 L399.76,105.28 L400.09,102.73 L400.43,99.99 L400.76,97.22 L401.09,94.58 L401.43,92.23 L401.76,90.34 L402.09,89.07 L402.42,88.58 L402.44,88.58 L402.76,88.66 L403.09,88.91 L403.42,89.29 L403.76,89.76 L404.09,90.28 L404.42,90.81 L404.75,91.32 L405.09,91.77 L405.42,92.13 L405.75,92.35 L406,92.4 L406.09,92.38 L406.42,91.98 L406.75,91.14 L407.08,89.95 L407.42,88.48 L407.75,86.82 L408.08,85.07 L408.42,83.31 L408.75,81.62 L409.08,80.09 L409.27,79.33 L409.41,78.74 L409.75,77.22 L410.08,75.6 L410.41,74.05 L410.75,72.73 L411.08,71.82 L411.4,71.5 L411.41,71.5 L411.74,72.13 L412.08,73.82 L412.41,76.34 L412.74,79.49 L413.08,83.06 L413.41,86.85 L413.53,88.28 L413.74,91.13 L414.07,97.34 L414.41,104.91 L414.74,113.12 L415.07,121.21 L415.4,128.45 L415.67,133.04 L415.74,134.13 L416.07,138.93 L416.4,143.35 L416.74,147.44 L417.07,151.23 L417.4,154.76 L417.73,158.07 L417.8,158.68 L418.07,161.24 L418.4,164.35 L418.73,167.33 L419.07,170.07 L419.4,172.5 L419.73,174.54 L419.93,175.54 L420.06,176.13 L420.4,177.52 L420.73,178.78 L421.06,179.9 L421.4,180.86 L421.73,181.65 L422.06,182.27 L422.06,182.28 L422.39,182.76 L422.73,183.15 L423.06,183.4" fill="none" stroke="#000000" stroke-width="1.3" stroke-linejoin="round"/>
<path d="M256.97,183.4 L257.3,183.39 L257.64,183.37 L257.97,183.33 L258.3,183.28 L258.64,183.22 L258.97,183.15 L259.3,183.08 L259.63,183 L259.81,182.95 L259.97,182.91 L260.3,182.8 L260.63,182.66 L260.96,182.5 L261.3,182.3 L261.63,182.09 L261.96,181.85 L262.3,181.59 L262.63,181.31 L262.8,181.15 L262.96,180.99 L263.29,180.59 L263.63,180.09 L263.96,179.51 L264.29,178.88 L264.63,178.2 L264.96,177.48 L265.29,176.76 L265.62,176.03 L265.64,175.98 L265.96,175.23 L266.29,174.29 L266.62,173.29 L266.96,172.3 L267.29,171.4 L267.62,170.65 L267.78,170.37 L267.95,170.08 L268.29,169.53 L268.62,169.03 L268.95,168.63 L269.29,168.39 L269.48,168.35 L269.62,168.37 L269.95,168.58 L270.28,168.96 L270.62,169.42 L270.95,169.87 L271.19,170.15 L271.28,170.24 L271.62,170.56 L271.95,170.87 L272.28,171.17 L272.61,171.49 L272.95,171.84 L273.04,171.94 L273.28,172.24 L273.61,172.73 L273.95,173.26 L274.28,173.79 L274.61,174.28 L274.94,174.67 L275.17,174.86 L275.28,174.93 L275.61,175.13 L275.94,175.3 L276.28,175.45 L276.61,175.58 L276.94,175.71 L277.27,175.82 L277.61,175.94 L277.73,175.98 L277.94,176.06 L278.27,176.18 L278.61,176.29 L278.94,176.4 L279.27,176.51 L279.6,176.61 L279.94,176.71 L280.27,176.81 L280.6,176.9 L280.94,177 L281.27,177.09 L281.6,177.18 L281.93,177.27 L282,177.29 L282.27,177.36 L282.6,177.45 L282.93,177.54 L283.27,177.63 L283.6,177.72 L283.93,177.81 L284.26,177.9 L284.6,177.99 L284.93,178.08 L285.26,178.17 L285.6,178.25 L285.93,178.33 L286.26,178.41 L286.59,178.49 L286.93,178.57 L287.26,178.64 L287.59,178.71 L287.93,178.78 L288.26,178.85 L288.59,178.91 L288.92,178.97 L289.11,179 L289.26,179.02 L289.59,179.07 L289.92,179.13 L290.26,179.18 L290.59,179.23 L290.92,179.28 L291.25,179.33 L291.59,179.38 L291.92,179.42 L292.25,179.47 L292.59,179.51 L292.92,179.56 L293.25,179.6 L293.58,179.64 L293.92,179.68 L294.25,179.72 L294.58,179.76 L294.92,179.79 L295.25,179.83 L295.58,179.86 L295.91,179.89 L296.25,179.92 L296.58,179.95 L296.91,179.98 L297.25,180 L297.58,180.03 L297.64,180.03 L297.91,180.05 L298.24,180.07 L298.58,180.09 L298.91,180.11 L299.24,180.14 L299.57,180.16 L299.91,180.18 L300.24,180.2 L300.57,180.22 L300.91,180.24 L301.24,180.26 L301.57,180.28 L301.9,180.3 L302.24,180.32 L302.57,180.33 L302.9,180.35 L303.24,180.37 L303.57,180.38 L303.9,180.4 L304.23,180.41 L304.57,180.42 L304.9,180.43 L305.23,180.44 L305.57,180.45 L305.9,180.46 L306.23,180.47 L306.56,180.47 L306.9,180.48 L307.23,180.48 L307.56,180.48 L307.59,180.48 L307.9,180.48 L308.23,180.48 L308.56,180.47 L308.89,180.47 L309.23,180.46 L309.56,180.46 L309.89,180.45 L310.23,180.44 L310.56,180.43 L310.89,180.42 L311.22,180.41 L311.56,180.4 L311.89,180.38 L312.22,180.37 L312.56,180.36 L312.89,180.34 L313.22,180.33 L313.55,180.31 L313.89,180.29 L314.22,180.28 L314.55,180.26 L314.89,180.24 L315.22,180.23 L315.55,180.21 L315.88,180.19 L316.22,180.17 L316.55,180.15 L316.88,180.14 L317.22,180.12 L317.55,180.1 L317.88,180.08 L318.21,180.07 L318.55,180.05 L318.88,180.03 L318.97,180.03 L319.21,180.02 L319.55,180 L319.88,179.98 L320.21,179.97 L320.54,179.95 L320.88,179.93 L321.21,179.91 L321.54,179.89 L321.88,179.87 L322.21,179.85 L322.54,179.83 L322.87,179.81 L323.21,179.79 L323.54,179.77 L323.87,179.75 L324.21,179.73 L324.54,179.71 L324.87,179.69 L325.2,179.66 L325.54,179.64 L325.87,179.62 L326.2,179.6 L326.54,179.58 L326.87,179.55 L327.2,179.53 L327.53,179.51 L327.87,179.49 L328.2,179.46 L328.53,179.44 L328.87,179.42 L329.2,179.4 L329.53,179.37 L329.86,179.35 L330.2,179.33 L330.53,179.3 L330.86,179.28 L331.2,179.26 L331.53,179.24 L331.86,179.22 L332.19,179.19 L332.53,179.17 L332.86,179.15 L333.19,179.13 L333.19,179.13 L333.53,179.11 L333.86,179.09 L334.19,179.07 L334.52,179.05 L334.86,179.03 L335.19,179.01 L335.52,178.99 L335.86,178.97 L336.19,178.95 L336.52,178.93 L336.85,178.91 L337.19,178.89 L337.52,178.87 L337.85,178.85 L338.18,178.83 L338.52,178.81 L338.85,178.79 L339.18,178.77 L339.52,178.75 L339.85,178.73 L340.18,178.71 L340.51,178.69 L340.85,178.67 L341.18,178.65 L341.51,178.63 L341.85,178.61 L342.18,178.59 L342.51,178.57 L342.84,178.55 L343.18,178.52 L343.51,178.5 L343.84,178.48 L344.18,178.46 L344.51,178.44 L344.84,178.41 L345.17,178.39 L345.51,178.37 L345.84,178.35 L346.17,178.32 L346.51,178.3 L346.84,178.27 L347.17,178.25 L347.41,178.23 L347.5,178.22 L347.84,178.2 L348.17,178.17 L348.5,178.15 L348.84,178.12 L349.17,178.1 L349.5,178.07 L349.83,178.05 L350.17,178.02 L350.5,177.99 L350.83,177.97 L351.17,177.94 L351.5,177.91 L351.83,177.88 L352.16,177.85 L352.5,177.82 L352.83,177.8 L353.16,177.77 L353.5,177.73 L353.83,177.7 L354.16,177.67 L354.49,177.64 L354.83,177.61 L355.16,177.57 L355.49,177.54 L355.83,177.5 L356.16,177.47 L356.49,177.43 L356.82,177.39 L357.16,177.36 L357.36,177.33 L357.49,177.32 L357.82,177.28 L358.16,177.24 L358.49,177.2 L358.82,177.16 L359.15,177.11 L359.49,177.07 L359.82,177.02 L360.15,176.98 L360.49,176.93 L360.82,176.88 L361.15,176.83 L361.48,176.78 L361.82,176.72 L362.15,176.67 L362.48,176.61 L362.82,176.55 L363.15,176.48 L363.48,176.42 L363.81,176.35 L364.15,176.28 L364.47,176.21 L364.48,176.21 L364.81,176.13 L365.15,176.05 L365.48,175.96 L365.81,175.86 L366.14,175.77 L366.48,175.66 L366.81,175.55 L367.14,175.44 L367.48,175.32 L367.81,175.19 L368.14,175.06 L368.47,174.93 L368.81,174.79 L369.14,174.65 L369.47,174.51 L369.81,174.36 L370.14,174.21 L370.47,174.05 L370.8,173.9 L371.14,173.73 L371.47,173.57 L371.58,173.51 L371.8,173.4 L372.14,173.22 L372.47,173.04 L372.8,172.84 L373.13,172.64 L373.47,172.43 L373.8,172.21 L374.13,171.98 L374.47,171.74 L374.8,171.5 L375.13,171.25 L375.46,170.99 L375.8,170.72 L376.13,170.45 L376.46,170.17 L376.79,169.89 L377.13,169.6 L377.27,169.47 L377.46,169.3 L377.79,168.99 L378.13,168.67 L378.46,168.34 L378.79,167.99 L379.12,167.63 L379.46,167.27 L379.79,166.89 L380.12,166.49 L380.46,166.09 L380.79,165.68 L381.12,165.26 L381.45,164.82 L381.79,164.38 L382.12,163.92 L382.45,163.46 L382.79,162.98 L382.96,162.73 L383.12,162.49 L383.45,162 L383.78,161.49 L384.12,160.96 L384.45,160.42 L384.78,159.87 L385.12,159.3 L385.45,158.71 L385.78,158.1 L386.11,157.47 L386.45,156.82 L386.78,156.15 L387.11,155.46 L387.45,154.74 L387.78,154 L388.11,153.23 L388.44,152.44 L388.65,151.94 L388.78,151.62 L389.11,150.73 L389.44,149.77 L389.78,148.76 L390.11,147.69 L390.44,146.57 L390.77,145.41 L391.11,144.21 L391.44,142.99 L391.77,141.73 L392.11,140.46 L392.44,139.18 L392.77,137.89 L392.91,137.34 L393.1,136.59 L393.44,135.24 L393.77,133.85 L394.1,132.42 L394.44,130.95 L394.77,129.45 L395.1,127.93 L395.43,126.39 L395.77,124.84 L396.1,123.28 L396.43,121.72 L396.77,120.16 L397.1,118.61 L397.18,118.24 L397.43,117.07 L397.76,115.5 L398.1,113.93 L398.43,112.34 L398.76,110.75 L399.1,109.16 L399.31,108.13 L399.43,107.56 L399.76,105.72 L400.09,103.69 L400.43,101.59 L400.76,99.55 L401.09,97.71 L401.43,96.2 L401.76,95.14 L402.09,94.66 L402.16,94.64 L402.42,94.78 L402.76,95.29 L403.09,96.06 L403.42,96.99 L403.76,97.97 L404.09,98.9 L404.42,99.66 L404.75,100.14 L405,100.26 L405.09,100.25 L405.42,99.98 L405.75,99.4 L406.09,98.55 L406.42,97.47 L406.75,96.21 L407.08,94.81 L407.42,93.31 L407.75,91.75 L408.08,90.19 L408.42,88.65 L408.75,87.2 L409.08,85.86 L409.27,85.18 L409.41,84.64 L409.75,83.22 L410.08,81.69 L410.41,80.22 L410.75,78.97 L411.08,78.1 L411.4,77.79 L411.41,77.79 L411.74,78.39 L412.08,79.98 L412.41,82.36 L412.74,85.33 L413.08,88.7 L413.41,92.28 L413.53,93.63 L413.74,96.33 L414.07,102.23 L414.41,109.44 L414.74,117.23 L415.07,124.87 L415.4,131.64 L415.67,135.88 L415.74,136.86 L416.07,141.15 L416.4,145.04 L416.74,148.6 L417.07,151.91 L417.4,155.05 L417.73,158.1 L417.8,158.68 L418.07,161.15 L418.4,164.22 L418.73,167.19 L419.07,169.98 L419.4,172.46 L419.73,174.53 L419.93,175.54 L420.06,176.13 L420.4,177.52 L420.73,178.78 L421.06,179.9 L421.4,180.86 L421.73,181.65 L422.06,182.27 L422.06,182.28 L422.39,182.76 L422.73,183.15 L423.06,183.4" fill="none" stroke="#ff0000" stroke-width="1.3" stroke-linejoin="round"/>
<path d="M256.97,183.4 L257.3,183.39 L257.64,183.37 L257.97,183.33 L258.3,183.28 L258.64,183.22 L258.97,183.15 L259.3,183.08 L259.63,183 L259.81,182.95 L259.97,182.91 L260.3,182.8 L260.63,182.66 L260.96,182.5 L261.3,182.3 L261.63,182.09 L261.96,181.85 L262.3,181.59 L262.63,181.31 L262.8,181.15 L262.96,180.99 L263.29,180.59 L263.63,180.09 L263.96,179.51 L264.29,178.88 L264.63,178.2 L264.96,177.48 L265.29,176.76 L265.62,176.03 L265.64,175.98 L265.96,175.25 L266.29,174.38 L266.62,173.45 L266.96,172.5 L267.29,171.58 L267.62,170.73 L267.78,170.37 L267.95,169.95 L268.29,169.08 L268.62,168.23 L268.95,167.52 L269.29,167.08 L269.48,167 L269.62,167.02 L269.95,167.23 L270.28,167.6 L270.62,168.09 L270.95,168.6 L271.19,168.97 L271.28,169.1 L271.62,169.67 L271.95,170.32 L272.28,171 L272.61,171.69 L272.95,172.34 L273.04,172.5 L273.28,172.94 L273.61,173.58 L273.95,174.23 L274.28,174.83 L274.61,175.37 L274.94,175.78 L275.17,175.98 L275.28,176.06 L275.61,176.27 L275.94,176.45 L276.28,176.61 L276.61,176.74 L276.94,176.86 L277.27,176.97 L277.61,177.07 L277.73,177.11 L277.94,177.17 L278.27,177.25 L278.61,177.33 L278.94,177.4 L279.27,177.47 L279.6,177.53 L279.94,177.59 L280.27,177.65 L280.6,177.71 L280.94,177.77 L281.27,177.83 L281.6,177.89 L281.93,177.95 L282,177.96 L282.27,178.02 L282.6,178.08 L282.93,178.15 L283.27,178.22 L283.6,178.3 L283.93,178.37 L284.26,178.44 L284.6,178.51 L284.93,178.59 L285.26,178.66 L285.6,178.73 L285.93,178.8 L286.26,178.87 L286.59,178.93 L286.93,178.99 L287.26,179.06 L287.59,179.11 L287.93,179.17 L288.26,179.22 L288.59,179.27 L288.92,179.31 L289.11,179.33 L289.26,179.35 L289.59,179.39 L289.92,179.42 L290.26,179.46 L290.59,179.49 L290.92,179.53 L291.25,179.56 L291.59,179.59 L291.92,179.62 L292.25,179.65 L292.59,179.68 L292.92,179.71 L293.25,179.73 L293.58,179.76 L293.92,179.78 L294.25,179.81 L294.58,179.83 L294.92,179.86 L295.25,179.88 L295.58,179.9 L295.91,179.92 L296.25,179.94 L296.58,179.97 L296.91,179.99 L297.25,180.01 L297.58,180.03 L297.64,180.03 L297.91,180.05 L298.24,180.07 L298.58,180.09 L298.91,180.11 L299.24,180.13 L299.57,180.15 L299.91,180.17 L300.24,180.19 L300.57,180.21 L300.91,180.23 L301.24,180.25 L301.57,180.27 L301.9,180.29 L302.24,180.31 L302.57,180.32 L302.9,180.34 L303.24,180.36 L303.57,180.37 L303.9,180.39 L304.23,180.4 L304.57,180.42 L304.9,180.43 L305.23,180.44 L305.57,180.45 L305.9,180.46 L306.23,180.47 L306.56,180.47 L306.9,180.48 L307.23,180.48 L307.56,180.48 L307.59,180.48 L307.9,180.48 L308.23,180.48 L308.56,180.48 L308.89,180.48 L309.23,180.48 L309.56,180.47 L309.89,180.47 L310.23,180.47 L310.56,180.47 L310.89,180.47 L311.22,180.46 L311.56,180.46 L311.89,180.46 L312.22,180.46 L312.56,180.45 L312.89,180.45 L313.22,180.45 L313.55,180.44 L313.89,180.44 L314.22,180.44 L314.55,180.43 L314.89,180.43 L315.22,180.42 L315.55,180.42 L315.88,180.41 L316.22,180.41 L316.55,180.4 L316.88,180.4 L317.22,180.39 L317.55,180.39 L317.88,180.38 L318.21,180.38 L318.55,180.37 L318.88,180.37 L318.97,180.37 L319.21,180.36 L319.55,180.36 L319.88,180.35 L320.21,180.34 L320.54,180.33 L320.88,180.32 L321.21,180.3 L321.54,180.29 L321.88,180.28 L322.21,180.26 L322.54,180.24 L322.87,180.23 L323.21,180.21 L323.54,180.19 L323.87,180.17 L324.21,180.15 L324.54,180.13 L324.87,180.11 L325.2,180.09 L325.54,180.07 L325.87,180.05 L326.2,180.03 L326.54,180 L326.87,179.98 L327.2,179.96 L327.53,179.93 L327.87,179.91 L328.2,179.89 L328.53,179.86 L328.87,179.84 L329.2,179.82 L329.53,179.79 L329.86,179.77 L330.2,179.75 L330.53,179.73 L330.86,179.7 L331.2,179.68 L331.53,179.66 L331.86,179.64 L332.19,179.62 L332.53,179.6 L332.86,179.58 L333.19,179.56 L333.19,179.56 L333.53,179.54 L333.86,179.52 L334.19,179.5 L334.52,179.48 L334.86,179.46 L335.19,179.45 L335.52,179.43 L335.86,179.41 L336.19,179.39 L336.52,179.37 L336.85,179.36 L337.19,179.34 L337.52,179.32 L337.85,179.3 L338.18,179.29 L338.52,179.27 L338.85,179.25 L339.18,179.23 L339.52,179.21 L339.85,179.2 L340.18,179.18 L340.51,179.16 L340.85,179.14 L341.18,179.12 L341.51,179.11 L341.85,179.09 L342.18,179.07 L342.51,179.05 L342.84,179.03 L343.18,179.01 L343.51,178.99 L343.84,178.97 L344.18,178.95 L344.51,178.93 L344.84,178.91 L345.17,178.89 L345.51,178.87 L345.84,178.85 L346.17,178.83 L346.51,178.81 L346.84,178.79 L347.17,178.76 L347.41,178.75 L347.5,178.74 L347.84,178.72 L348.17,178.7 L348.5,178.67 L348.84,178.65 L349.17,178.63 L349.5,178.6 L349.83,178.58 L350.17,178.56 L350.5,178.53 L350.83,178.51 L351.17,178.48 L351.5,178.46 L351.83,178.43 L352.16,178.41 L352.5,178.38 L352.83,178.36 L353.16,178.33 L353.5,178.3 L353.83,178.27 L354.16,178.24 L354.49,178.22 L354.83,178.19 L355.16,178.16 L355.49,178.13 L355.83,178.09 L356.16,178.06 L356.49,178.03 L356.82,178 L357.16,177.96 L357.36,177.94 L357.49,177.93 L357.82,177.89 L358.16,177.86 L358.49,177.82 L358.82,177.78 L359.15,177.74 L359.49,177.7 L359.82,177.66 L360.15,177.62 L360.49,177.58 L360.82,177.53 L361.15,177.49 L361.48,177.44 L361.82,177.39 L362.15,177.34 L362.48,177.29 L362.82,177.23 L363.15,177.18 L363.48,177.12 L363.81,177.06 L364.15,176.99 L364.47,176.93 L364.48,176.93 L364.81,176.86 L365.15,176.79 L365.48,176.71 L365.81,176.63 L366.14,176.54 L366.48,176.45 L366.81,176.36 L367.14,176.26 L367.48,176.16 L367.81,176.06 L368.14,175.94 L368.47,175.83 L368.81,175.71 L369.14,175.58 L369.47,175.45 L369.81,175.32 L370.14,175.17 L370.47,175.03 L370.8,174.88 L371.14,174.72 L371.47,174.56 L371.58,174.5 L371.8,174.39 L372.14,174.19 L372.47,173.98 L372.8,173.74 L373.13,173.49 L373.47,173.21 L373.8,172.93 L374.13,172.63 L374.47,172.31 L374.8,171.99 L375.13,171.66 L375.46,171.33 L375.8,170.99 L376.13,170.64 L376.46,170.3 L376.79,169.96 L377.13,169.62 L377.27,169.47 L377.46,169.28 L377.79,168.94 L378.13,168.59 L378.46,168.24 L378.79,167.89 L379.12,167.53 L379.46,167.16 L379.79,166.79 L380.12,166.41 L380.46,166.02 L380.79,165.62 L381.12,165.21 L381.45,164.78 L381.79,164.35 L382.12,163.91 L382.45,163.45 L382.79,162.98 L382.96,162.73 L383.12,162.49 L383.45,162 L383.78,161.49 L384.12,160.96 L384.45,160.42 L384.78,159.87 L385.12,159.3 L385.45,158.71 L385.78,158.1 L386.11,157.47 L386.45,156.82 L386.78,156.15 L387.11,155.46 L387.45,154.74 L387.78,154 L388.11,153.23 L388.44,152.44 L388.65,151.94 L388.78,151.62 L389.11,150.73 L389.44,149.77 L389.78,148.76 L390.11,147.69 L390.44,146.57 L390.77,145.41 L391.11,144.21 L391.44,142.99 L391.77,141.73 L392.11,140.46 L392.44,139.18 L392.77,137.89 L392.91,137.34 L393.1,136.59 L393.44,135.24 L393.77,133.85 L394.1,132.42 L394.44,130.95 L394.77,129.45 L395.1,127.93 L395.43,126.39 L395.77,124.84 L396.1,123.28 L396.43,121.72 L396.77,120.16 L397.1,118.61 L397.18,118.24 L397.43,117.09 L397.76,115.61 L398.1,114.13 L398.43,112.61 L398.76,111.02 L399.1,109.32 L399.31,108.13 L399.43,107.39 L399.76,104.66 L400.09,101.69 L400.43,99.33 L400.74,98.46 L400.76,98.46 L401.09,98.73 L401.43,99.4 L401.76,100.4 L402.09,101.66 L402.42,103.11 L402.76,104.67 L403.09,106.27 L403.42,107.83 L403.76,109.29 L404.09,110.58 L404.42,111.6 L404.75,112.31 L405.09,112.61 L405.14,112.62 L405.42,111.75 L405.75,108.6 L406.09,103.53 L406.42,96.93 L406.75,89.19 L407.08,80.71 L407.42,71.88 L407.75,63.09 L408.08,54.73 L408.42,47.2 L408.75,40.89 L409.08,36.18 L409.27,34.4 L409.41,33.26 L409.75,30.72 L410.08,28.34 L410.41,26.27 L410.75,24.63 L411.08,23.56 L411.4,23.19 L411.41,23.19 L411.74,24.1 L412.08,26.51 L412.41,30.12 L412.74,34.63 L413.08,39.74 L413.41,45.17 L413.53,47.22 L413.74,51.23 L414.07,59.81 L414.41,70.25 L414.74,81.69 L415.07,93.23 L415.4,103.98 L415.67,111.31 L415.74,113.15 L416.07,121.83 L416.4,130.5 L416.74,138.79 L417.07,146.35 L417.4,152.84 L417.73,157.9 L417.8,158.68 L418.07,161.68 L418.4,165.01 L418.73,167.95 L419.07,170.51 L419.4,172.72 L419.73,174.58 L419.93,175.54 L420.06,176.13 L420.4,177.52 L420.73,178.78 L421.06,179.9 L421.4,180.86 L421.73,181.65 L422.06,182.27 L422.06,182.28 L422.39,182.76 L422.73,183.15 L423.06,183.4" fill="none" stroke="#ffa500" stroke-width="1.3" stroke-linejoin="round"/>
<path d="M256.97,183.4 L257.3,183.39 L257.64,183.37 L257.97,183.33 L258.3,183.28 L258.64,183.22 L258.97,183.15 L259.3,183.08 L259.63,183 L259.81,182.95 L259.97,182.91 L260.3,182.8 L260.63,182.66 L260.96,182.5 L261.3,182.3 L261.63,182.09 L261.96,181.85 L262.3,181.59 L262.63,181.31 L262.8,181.15 L262.96,180.99 L263.29,180.59 L263.63,180.09 L263.96,179.51 L264.29,178.88 L264.63,178.2 L264.96,177.48 L265.29,176.76 L265.62,176.03 L265.64,175.98 L265.96,175.19 L266.29,174.16 L266.62,173.06 L266.96,172.01 L267.29,171.12 L267.62,170.52 L267.78,170.37 L267.95,170.25 L268.29,170.06 L268.62,169.89 L268.95,169.77 L269.29,169.7 L269.48,169.69 L269.62,169.72 L269.95,169.99 L270.28,170.43 L270.62,170.89 L270.95,171.24 L271.19,171.34 L271.28,171.34 L271.62,171.35 L271.95,171.36 L272.28,171.36 L272.61,171.37 L272.95,171.37 L273.04,171.38 L273.28,171.45 L273.61,171.74 L273.95,172.17 L274.28,172.66 L274.61,173.14 L274.94,173.55 L275.17,173.74 L275.28,173.8 L275.61,173.99 L275.94,174.15 L276.28,174.3 L276.61,174.43 L276.94,174.55 L277.27,174.68 L277.61,174.81 L277.73,174.86 L277.94,174.95 L278.27,175.09 L278.61,175.24 L278.94,175.38 L279.27,175.53 L279.6,175.67 L279.94,175.81 L280.27,175.95 L280.6,176.09 L280.94,176.22 L281.27,176.35 L281.6,176.47 L281.93,176.59 L282,176.61 L282.27,176.71 L282.6,176.82 L282.93,176.93 L283.27,177.04 L283.6,177.15 L283.93,177.26 L284.26,177.36 L284.6,177.47 L284.93,177.57 L285.26,177.67 L285.6,177.77 L285.93,177.87 L286.26,177.96 L286.59,178.05 L286.93,178.14 L287.26,178.23 L287.59,178.31 L287.93,178.39 L288.26,178.47 L288.59,178.55 L288.92,178.62 L289.11,178.66 L289.26,178.69 L289.59,178.76 L289.92,178.83 L290.26,178.9 L290.59,178.96 L290.92,179.03 L291.25,179.1 L291.59,179.16 L291.92,179.23 L292.25,179.29 L292.59,179.35 L292.92,179.41 L293.25,179.47 L293.58,179.53 L293.92,179.58 L294.25,179.63 L294.58,179.68 L294.92,179.73 L295.25,179.78 L295.58,179.82 L295.91,179.86 L296.25,179.9 L296.58,179.94 L296.91,179.97 L297.25,180 L297.58,180.02 L297.64,180.03 L297.91,180.05 L298.24,180.07 L298.58,180.1 L298.91,180.12 L299.24,180.14 L299.57,180.16 L299.91,180.19 L300.24,180.21 L300.57,180.23 L300.91,180.25 L301.24,180.27 L301.57,180.29 L301.9,180.31 L302.24,180.32 L302.57,180.34 L302.9,180.36 L303.24,180.37 L303.57,180.39 L303.9,180.4 L304.23,180.41 L304.57,180.43 L304.9,180.44 L305.23,180.45 L305.57,180.45 L305.9,180.46 L306.23,180.47 L306.56,180.47 L306.9,180.48 L307.23,180.48 L307.56,180.48 L307.59,180.48 L307.9,180.48 L308.23,180.47 L308.56,180.46 L308.89,180.44 L309.23,180.43 L309.56,180.4 L309.89,180.38 L310.23,180.35 L310.56,180.31 L310.89,180.28 L311.22,180.24 L311.56,180.2 L311.89,180.16 L312.22,180.12 L312.56,180.07 L312.89,180.02 L313.22,179.98 L313.55,179.93 L313.89,179.88 L314.22,179.83 L314.55,179.78 L314.89,179.72 L315.22,179.67 L315.55,179.62 L315.88,179.57 L316.22,179.53 L316.55,179.48 L316.88,179.43 L317.22,179.39 L317.55,179.34 L317.88,179.3 L318.21,179.27 L318.55,179.23 L318.88,179.2 L318.97,179.19 L319.21,179.16 L319.55,179.13 L319.88,179.1 L320.21,179.07 L320.54,179.04 L320.88,179.02 L321.21,178.99 L321.54,178.96 L321.88,178.93 L322.21,178.9 L322.54,178.88 L322.87,178.85 L323.21,178.82 L323.54,178.79 L323.87,178.77 L324.21,178.74 L324.54,178.72 L324.87,178.69 L325.2,178.67 L325.54,178.64 L325.87,178.61 L326.2,178.59 L326.54,178.56 L326.87,178.54 L327.2,178.51 L327.53,178.49 L327.87,178.47 L328.2,178.44 L328.53,178.42 L328.87,178.39 L329.2,178.37 L329.53,178.34 L329.86,178.32 L330.2,178.29 L330.53,178.27 L330.86,178.24 L331.2,178.22 L331.53,178.19 L331.86,178.17 L332.19,178.14 L332.53,178.12 L332.86,178.09 L333.19,178.06 L333.19,178.06 L333.53,178.04 L333.86,178.01 L334.19,177.99 L334.52,177.96 L334.86,177.93 L335.19,177.91 L335.52,177.88 L335.86,177.86 L336.19,177.83 L336.52,177.81 L336.85,177.78 L337.19,177.76 L337.52,177.74 L337.85,177.71 L338.18,177.69 L338.52,177.66 L338.85,177.64 L339.18,177.61 L339.52,177.59 L339.85,177.56 L340.18,177.54 L340.51,177.51 L340.85,177.49 L341.18,177.46 L341.51,177.44 L341.85,177.41 L342.18,177.38 L342.51,177.36 L342.84,177.33 L343.18,177.31 L343.51,177.28 L343.84,177.25 L344.18,177.22 L344.51,177.2 L344.84,177.17 L345.17,177.14 L345.51,177.11 L345.84,177.08 L346.17,177.05 L346.51,177.02 L346.84,176.99 L347.17,176.96 L347.41,176.94 L347.5,176.93 L347.84,176.9 L348.17,176.87 L348.5,176.84 L348.84,176.8 L349.17,176.77 L349.5,176.74 L349.83,176.71 L350.17,176.67 L350.5,176.64 L350.83,176.61 L351.17,176.57 L351.5,176.54 L351.83,176.5 L352.16,176.47 L352.5,176.43 L352.83,176.39 L353.16,176.36 L353.5,176.32 L353.83,176.28 L354.16,176.24 L354.49,176.2 L354.83,176.16 L355.16,176.12 L355.49,176.07 L355.83,176.03 L356.16,175.99 L356.49,175.94 L356.82,175.89 L357.16,175.85 L357.36,175.82 L357.49,175.8 L357.82,175.75 L358.16,175.7 L358.49,175.65 L358.82,175.6 L359.15,175.54 L359.49,175.49 L359.82,175.43 L360.15,175.37 L360.49,175.31 L360.82,175.25 L361.15,175.19 L361.48,175.12 L361.82,175.05 L362.15,174.98 L362.48,174.91 L362.82,174.83 L363.15,174.76 L363.48,174.67 L363.81,174.59 L364.15,174.5 L364.47,174.41 L364.48,174.41 L364.81,174.31 L365.15,174.2 L365.48,174.08 L365.81,173.95 L366.14,173.81 L366.48,173.66 L366.81,173.51 L367.14,173.35 L367.48,173.18 L367.81,173.01 L368.14,172.83 L368.47,172.66 L368.81,172.48 L369.14,172.3 L369.47,172.12 L369.81,171.94 L370.14,171.77 L370.47,171.59 L370.8,171.42 L371.14,171.26 L371.47,171.1 L371.58,171.04 L371.8,170.94 L372.14,170.8 L372.47,170.66 L372.8,170.53 L373.13,170.39 L373.47,170.26 L373.8,170.11 L374.13,169.95 L374.47,169.78 L374.8,169.59 L375,169.47 L375.13,169.38 L375.46,169.14 L375.8,168.87 L376.13,168.57 L376.46,168.25 L376.79,167.9 L377.13,167.53 L377.46,167.15 L377.79,166.74 L378.13,166.32 L378.46,165.88 L378.79,165.43 L379.12,164.97 L379.46,164.5 L379.79,164.03 L380.12,163.54 L380.46,163.06 L380.68,162.73 L380.79,162.57 L381.12,162.08 L381.45,161.57 L381.79,161.05 L382.12,160.51 L382.45,159.96 L382.79,159.39 L383.12,158.81 L383.45,158.2 L383.78,157.57 L384.12,156.93 L384.45,156.26 L384.78,155.57 L385.12,154.86 L385.45,154.12 L385.78,153.36 L386.11,152.57 L386.37,151.94 L386.45,151.76 L386.78,150.88 L387.11,149.94 L387.45,148.93 L387.78,147.87 L388.11,146.76 L388.44,145.61 L388.78,144.41 L389.11,143.19 L389.44,141.94 L389.78,140.67 L390.11,139.39 L390.44,138.1 L390.64,137.34 L390.77,136.81 L391.11,135.47 L391.44,134.08 L391.77,132.66 L392.11,131.19 L392.44,129.7 L392.77,128.18 L393.1,126.65 L393.44,125.1 L393.77,123.54 L394.1,121.98 L394.44,120.42 L394.77,118.87 L394.9,118.24 L395.1,117.3 L395.43,115.62 L395.77,113.88 L396.1,112.17 L396.43,110.56 L396.77,109.12 L397.04,108.13 L397.1,107.93 L397.43,106.85 L397.76,105.78 L398.1,104.75 L398.43,103.73 L398.76,102.75 L399.1,101.81 L399.43,100.9 L399.76,100.04 L400.09,99.21 L400.43,98.44 L400.76,97.73 L401.09,97.06 L401.43,96.46 L401.76,95.93 L402.09,95.46 L402.42,95.06 L402.76,94.73 L402.87,94.64 L403.09,94.48 L403.42,94.28 L403.76,94.1 L404.09,93.95 L404.42,93.82 L404.75,93.69 L405.09,93.55 L405.42,93.4 L405.75,93.22 L406,93.07 L406.09,93.01 L406.42,92.78 L406.75,92.54 L407.08,92.28 L407.42,92 L407.75,91.69 L408.08,91.35 L408.42,90.97 L408.75,90.55 L409.08,90.07 L409.27,89.78 L409.41,89.48 L409.75,88.41 L410.08,86.99 L410.41,85.47 L410.75,84.1 L411.08,83.1 L411.4,82.73 L411.41,82.74 L411.74,83.31 L412.08,84.82 L412.41,87.09 L412.74,89.92 L413.08,93.14 L413.41,96.54 L413.53,97.83 L413.74,100.42 L414.07,106.08 L414.41,113 L414.74,120.46 L415.07,127.75 L415.4,134.16 L415.67,138.1 L415.74,139.01 L416.07,142.89 L416.4,146.36 L416.74,149.52 L417.07,152.46 L417.4,155.29 L417.73,158.13 L417.8,158.68 L418.07,161.07 L418.4,164.09 L418.73,167.08 L419.07,169.89 L419.4,172.42 L419.73,174.52 L419.93,175.54 L420.06,176.13 L420.4,177.52 L420.73,178.78 L421.06,179.9 L421.4,180.86 L421.73,181.65 L422.06,182.27 L422.06,182.28 L422.39,182.76 L422.73,183.15 L423.06,183.4" fill="none" stroke="#0000ff" stroke-width="1.3" stroke-linejoin="round"/>
<path d="M256.97,183.4 L257.3,183.39 L257.64,183.37 L257.97,183.33 L258.3,183.28 L258.64,183.22 L258.97,183.15 L259.3,183.08 L259.63,183 L259.81,182.95 L259.97,182.91 L260.3,182.8 L260.63,182.66 L260.96,182.5 L261.3,182.3 L261.63,182.09 L261.96,181.85 L262.3,181.59 L262.63,181.31 L262.8,181.15 L262.96,180.99 L263.29,180.59 L263.63,180.09 L263.96,179.51 L264.29,178.88 L264.63,178.2 L264.96,177.48 L265.29,176.76 L265.62,176.03 L265.64,175.98 L265.96,175.21 L266.29,174.23 L266.62,173.19 L266.96,172.17 L267.29,171.28 L267.62,170.59 L267.78,170.37 L267.95,170.16 L268.29,169.78 L268.62,169.45 L268.95,169.19 L269.29,169.05 L269.48,169.02 L269.62,169.04 L269.95,169.25 L270.28,169.62 L270.62,170.06 L270.95,170.49 L271.19,170.74 L271.28,170.83 L271.62,171.1 L271.95,171.35 L272.28,171.6 L272.61,171.87 L272.95,172.18 L273.04,172.28 L273.28,172.58 L273.61,173.11 L273.95,173.71 L274.28,174.32 L274.61,174.88 L274.94,175.33 L275.17,175.54 L275.28,175.61 L275.61,175.81 L275.94,175.99 L276.28,176.14 L276.61,176.28 L276.94,176.4 L277.27,176.51 L277.61,176.62 L277.73,176.66 L277.94,176.72 L278.27,176.82 L278.61,176.92 L278.94,177 L279.27,177.09 L279.6,177.17 L279.94,177.24 L280.27,177.32 L280.6,177.39 L280.94,177.46 L281.27,177.53 L281.6,177.6 L281.93,177.68 L282,177.69 L282.27,177.75 L282.6,177.83 L282.93,177.91 L283.27,177.99 L283.6,178.07 L283.93,178.15 L284.26,178.23 L284.6,178.31 L284.93,178.38 L285.26,178.46 L285.6,178.54 L285.93,178.61 L286.26,178.68 L286.59,178.76 L286.93,178.82 L287.26,178.89 L287.59,178.95 L287.93,179.01 L288.26,179.07 L288.59,179.12 L288.92,179.17 L289.11,179.2 L289.26,179.22 L289.59,179.26 L289.92,179.3 L290.26,179.35 L290.59,179.39 L290.92,179.43 L291.25,179.47 L291.59,179.5 L291.92,179.54 L292.25,179.58 L292.59,179.61 L292.92,179.65 L293.25,179.68 L293.58,179.71 L293.92,179.74 L294.25,179.77 L294.58,179.8 L294.92,179.83 L295.25,179.86 L295.58,179.88 L295.91,179.91 L296.25,179.94 L296.58,179.96 L296.91,179.98 L297.25,180 L297.58,180.03 L297.64,180.03 L297.91,180.05 L298.24,180.07 L298.58,180.09 L298.91,180.11 L299.24,180.13 L299.57,180.15 L299.91,180.17 L300.24,180.19 L300.57,180.21 L300.91,180.23 L301.24,180.25 L301.57,180.27 L301.9,180.29 L302.24,180.31 L302.57,180.33 L302.9,180.35 L303.24,180.36 L303.57,180.38 L303.9,180.39 L304.23,180.41 L304.57,180.42 L304.9,180.43 L305.23,180.44 L305.57,180.45 L305.9,180.46 L306.23,180.47 L306.56,180.47 L306.9,180.48 L307.23,180.48 L307.56,180.48 L307.59,180.48 L307.9,180.48 L308.23,180.48 L308.56,180.47 L308.89,180.47 L309.23,180.46 L309.56,180.46 L309.89,180.45 L310.23,180.44 L310.56,180.43 L310.89,180.42 L311.22,180.41 L311.56,180.4 L311.89,180.38 L312.22,180.37 L312.56,180.36 L312.89,180.34 L313.22,180.33 L313.55,180.31 L313.89,180.29 L314.22,180.28 L314.55,180.26 L314.89,180.24 L315.22,180.23 L315.55,180.21 L315.88,180.19 L316.22,180.17 L316.55,180.15 L316.88,180.14 L317.22,180.12 L317.55,180.1 L317.88,180.08 L318.21,180.07 L318.55,180.05 L318.88,180.03 L318.97,180.03 L319.21,180.02 L319.55,180 L319.88,179.98 L320.21,179.97 L320.54,179.95 L320.88,179.93 L321.21,179.91 L321.54,179.89 L321.88,179.87 L322.21,179.85 L322.54,179.83 L322.87,179.81 L323.21,179.79 L323.54,179.77 L323.87,179.75 L324.21,179.73 L324.54,179.71 L324.87,179.69 L325.2,179.66 L325.54,179.64 L325.87,179.62 L326.2,179.6 L326.54,179.58 L326.87,179.55 L327.2,179.53 L327.53,179.51 L327.87,179.49 L328.2,179.46 L328.53,179.44 L328.87,179.42 L329.2,179.4 L329.53,179.37 L329.86,179.35 L330.2,179.33 L330.53,179.3 L330.86,179.28 L331.2,179.26 L331.53,179.24 L331.86,179.22 L332.19,179.19 L332.53,179.17 L332.86,179.15 L333.19,179.13 L333.19,179.13 L333.53,179.11 L333.86,179.09 L334.19,179.07 L334.52,179.05 L334.86,179.03 L335.19,179.01 L335.52,178.99 L335.86,178.97 L336.19,178.95 L336.52,178.93 L336.85,178.91 L337.19,178.89 L337.52,178.87 L337.85,178.85 L338.18,178.83 L338.52,178.81 L338.85,178.79 L339.18,178.77 L339.52,178.75 L339.85,178.73 L340.18,178.71 L340.51,178.69 L340.85,178.67 L341.18,178.65 L341.51,178.63 L341.85,178.61 L342.18,178.59 L342.51,178.57 L342.84,178.55 L343.18,178.52 L343.51,178.5 L343.84,178.48 L344.18,178.46 L344.51,178.44 L344.84,178.41 L345.17,178.39 L345.51,178.37 L345.84,178.35 L346.17,178.32 L346.51,178.3 L346.84,178.27 L347.17,178.25 L347.41,178.23 L347.5,178.22 L347.84,178.2 L348.17,178.17 L348.5,178.15 L348.84,178.12 L349.17,178.1 L349.5,178.07 L349.83,178.05 L350.17,178.02 L350.5,177.99 L350.83,177.97 L351.17,177.94 L351.5,177.91 L351.83,177.88 L352.16,177.85 L352.5,177.82 L352.83,177.8 L353.16,177.77 L353.5,177.73 L353.83,177.7 L354.16,177.67 L354.49,177.64 L354.83,177.61 L355.16,177.57 L355.49,177.54 L355.83,177.5 L356.16,177.47 L356.49,177.43 L356.82,177.39 L357.16,177.36 L357.36,177.33 L357.49,177.32 L357.82,177.28 L358.16,177.24 L358.49,177.2 L358.82,177.16 L359.15,177.11 L359.49,177.07 L359.82,177.02 L360.15,176.98 L360.49,176.93 L360.82,176.88 L361.15,176.83 L361.48,176.78 L361.82,176.72 L362.15,176.67 L362.48,176.61 L362.82,176.55 L363.15,176.48 L363.48,176.42 L363.81,176.35 L364.15,176.28 L364.47,176.21 L364.48,176.21 L364.81,176.13 L365.15,176.05 L365.48,175.96 L365.81,175.86 L366.14,175.76 L366.48,175.65 L366.81,175.54 L367.14,175.42 L367.48,175.3 L367.81,175.18 L368.14,175.05 L368.47,174.91 L368.81,174.77 L369.14,174.63 L369.47,174.49 L369.81,174.34 L370.14,174.19 L370.47,174.04 L370.8,173.88 L371.14,173.73 L371.47,173.57 L371.58,173.51 L371.8,173.41 L372.14,173.24 L372.47,173.07 L372.8,172.89 L373.13,172.71 L373.47,172.53 L373.8,172.33 L374.13,172.13 L374.47,171.93 L374.8,171.72 L375.13,171.5 L375.46,171.28 L375.8,171.04 L376.13,170.81 L376.46,170.56 L376.79,170.31 L377.13,170.05 L377.46,169.78 L377.79,169.51 L377.84,169.47 L378.13,169.22 L378.46,168.92 L378.79,168.6 L379.12,168.27 L379.46,167.93 L379.79,167.57 L380.12,167.2 L380.46,166.81 L380.79,166.41 L381.12,166 L381.45,165.58 L381.79,165.15 L382.12,164.71 L382.45,164.25 L382.79,163.79 L383.12,163.32 L383.45,162.84 L383.53,162.73 L383.78,162.35 L384.12,161.85 L384.45,161.34 L384.78,160.81 L385.12,160.26 L385.45,159.7 L385.78,159.13 L386.11,158.53 L386.45,157.92 L386.78,157.28 L387.11,156.63 L387.45,155.95 L387.78,155.25 L388.11,154.53 L388.44,153.78 L388.78,153.01 L389.11,152.2 L389.22,151.94 L389.44,151.37 L389.78,150.46 L390.11,149.49 L390.44,148.45 L390.77,147.37 L391.11,146.24 L391.44,145.07 L391.77,143.86 L392.11,142.62 L392.44,141.37 L392.77,140.09 L393.1,138.8 L393.44,137.51 L393.48,137.34 L393.77,136.2 L394.1,134.84 L394.44,133.44 L394.77,131.99 L395.1,130.52 L395.43,129.01 L395.77,127.48 L396.1,125.94 L396.43,124.39 L396.77,122.83 L397.1,121.27 L397.43,119.71 L397.75,118.24 L397.76,118.17 L398.1,116.64 L398.43,115.11 L398.76,113.57 L399.1,112.01 L399.43,110.4 L399.76,108.74 L399.88,108.13 L400.09,106.87 L400.43,104.48 L400.76,102.07 L401.09,100.18 L401.43,99.37 L401.45,99.36 L401.76,99.7 L402.09,100.64 L402.42,101.94 L402.76,103.36 L403.09,104.65 L403.42,105.57 L403.72,105.88 L403.76,105.87 L404.09,105.22 L404.42,103.56 L404.75,101.03 L405.09,97.74 L405.42,93.81 L405.75,89.36 L406.09,84.51 L406.42,79.38 L406.75,74.09 L407.08,68.76 L407.42,63.51 L407.75,58.46 L408.08,53.73 L408.42,49.44 L408.75,45.71 L409.08,42.66 L409.27,41.3 L409.41,40.31 L409.75,38.01 L410.08,35.77 L410.41,33.73 L410.75,32.09 L411.08,30.99 L411.4,30.6 L411.41,30.6 L411.74,31.47 L412.08,33.77 L412.41,37.21 L412.74,41.51 L413.08,46.39 L413.41,51.56 L413.53,53.52 L413.74,57.36 L414.07,65.56 L414.41,75.57 L414.74,86.5 L415.07,97.51 L415.4,107.73 L415.67,114.64 L415.74,116.37 L416.07,124.46 L416.4,132.47 L416.74,140.1 L417.07,147.08 L417.4,153.11 L417.73,157.92 L417.8,158.68 L418.07,161.63 L418.4,164.94 L418.73,167.89 L419.07,170.47 L419.4,172.69 L419.73,174.57 L419.93,175.54 L420.06,176.13 L420.4,177.52 L420.73,178.78 L421.06,179.9 L421.4,180.86 L421.73,181.65 L422.06,182.27 L422.06,182.28 L422.39,182.76 L422.73,183.15 L423.06,183.4" fill="none" stroke="#00ffff" stroke-width="1.3" stroke-linejoin="round"/>
<rect x="501.6" y="0.6" width="118.1" height="17" fill="#fff" stroke="#707070" stroke-width="1"/>
<rect x="508.3" y="6.7" width="5.6" height="4.8" fill="#ff0000" stroke="#444" stroke-width="0.5"/>
<text x="520.6" y="11.8" font-size="7.2" text-anchor="start" fill="#111" stroke="#111" stroke-width="0.16" font-family='"Liberation Sans", sans-serif'>UD5</text>
<rect x="546.6" y="6.7" width="5.6" height="4.8" fill="#00ff00" stroke="#444" stroke-width="0.5"/>
<text x="558.6" y="11.8" font-size="7.2" text-anchor="start" fill="#111" stroke="#111" stroke-width="0.16" font-family='"Liberation Sans", sans-serif'>UD10</text>
<rect x="585.1" y="6.7" width="5.6" height="4.8" fill="#0000ff" stroke="#444" stroke-width="0.5"/>
<text x="597.1" y="11.8" font-size="7.2" text-anchor="start" fill="#111" stroke="#111" stroke-width="0.16" font-family='"Liberation Sans", sans-serif'>AML2</text>
<rect x="476.5" y="20.5" width="176" height="169" fill="none" stroke="#707070" stroke-width="1"/>
<line x1="476" y1="190" x2="652.5" y2="190" stroke="#c4c4c4" stroke-width="1.5"/>
<line x1="486.6" y1="190.5" x2="486.6" y2="192.5" stroke="#707070" stroke-width="0.8"/>
<line x1="525.8" y1="190.5" x2="525.8" y2="192.5" stroke="#707070" stroke-width="0.8"/>
<line x1="565" y1="190.5" x2="565" y2="192.5" stroke="#707070" stroke-width="0.8"/>
<line x1="604.2" y1="190.5" x2="604.2" y2="192.5" stroke="#707070" stroke-width="0.8"/>
<line x1="643.4" y1="190.5" x2="643.4" y2="192.5" stroke="#707070" stroke-width="0.8"/>
<text x="486.6" y="200.5" font-size="10.2" text-anchor="middle" fill="#000" stroke="#000" stroke-width="0.22" font-family='"Liberation Sans", sans-serif'>−1.0</text>
<text x="525.8" y="200.5" font-size="10.2" text-anchor="middle" fill="#000" stroke="#000" stroke-width="0.22" font-family='"Liberation Sans", sans-serif'>−0.5</text>
<text x="565" y="200.5" font-size="10.2" text-anchor="middle" fill="#000" stroke="#000" stroke-width="0.22" font-family='"Liberation Sans", sans-serif'>0.0</text>
<text x="604.2" y="200.5" font-size="10.2" text-anchor="middle" fill="#000" stroke="#000" stroke-width="0.22" font-family='"Liberation Sans", sans-serif'>0.5</text>
<text x="643.4" y="200.5" font-size="10.2" text-anchor="middle" fill="#000" stroke="#000" stroke-width="0.22" font-family='"Liberation Sans", sans-serif'>1.0</text>
<line x1="476" y1="20.5" x2="476" y2="190" stroke="#c4c4c4" stroke-width="1.5"/>
<line x1="472.9" y1="183.4" x2="475.7" y2="183.4" stroke="#707070" stroke-width="0.8"/>
<line x1="472.9" y1="157.2" x2="475.7" y2="157.2" stroke="#707070" stroke-width="0.8"/>
<line x1="472.9" y1="131" x2="475.7" y2="131" stroke="#707070" stroke-width="0.8"/>
<line x1="472.9" y1="104.8" x2="475.7" y2="104.8" stroke="#707070" stroke-width="0.8"/>
<line x1="472.9" y1="78.6" x2="475.7" y2="78.6" stroke="#707070" stroke-width="0.8"/>
<line x1="472.9" y1="52.4" x2="475.7" y2="52.4" stroke="#707070" stroke-width="0.8"/>
<line x1="472.9" y1="26.2" x2="475.7" y2="26.2" stroke="#707070" stroke-width="0.8"/>
<text x="469.7" y="183.4" font-size="10.2" text-anchor="middle" fill="#000" stroke="#000" stroke-width="0.22" font-family='"Liberation Sans", sans-serif' transform="rotate(-90 469.7 183.4)">0</text>
<text x="469.7" y="157.2" font-size="10.2" text-anchor="middle" fill="#000" stroke="#000" stroke-width="0.22" font-family='"Liberation Sans", sans-serif' transform="rotate(-90 469.7 157.2)">2</text>
<text x="469.7" y="131" font-size="10.2" text-anchor="middle" fill="#000" stroke="#000" stroke-width="0.22" font-family='"Liberation Sans", sans-serif' transform="rotate(-90 469.7 131)">4</text>
<text x="469.7" y="104.8" font-size="10.2" text-anchor="middle" fill="#000" stroke="#000" stroke-width="0.22" font-family='"Liberation Sans", sans-serif' transform="rotate(-90 469.7 104.8)">6</text>
<text x="469.7" y="78.6" font-size="10.2" text-anchor="middle" fill="#000" stroke="#000" stroke-width="0.22" font-family='"Liberation Sans", sans-serif' transform="rotate(-90 469.7 78.6)">8</text>
<text x="469.7" y="52.4" font-size="10.2" text-anchor="middle" fill="#000" stroke="#000" stroke-width="0.22" font-family='"Liberation Sans", sans-serif' transform="rotate(-90 469.7 52.4)">10</text>
<text x="469.7" y="26.2" font-size="10.2" text-anchor="middle" fill="#000" stroke="#000" stroke-width="0.22" font-family='"Liberation Sans", sans-serif' transform="rotate(-90 469.7 26.2)">12</text>
<text x="564.7" y="210.2" font-size="10.3" text-anchor="middle" fill="#000" stroke="#000" stroke-width="0.22" font-family='"Liberation Serif", serif'>Δβ</text>
<text x="458.3" y="105.2" font-size="9.8" text-anchor="middle" fill="#000" stroke="#000" stroke-width="0.22" font-family='"Liberation Sans", sans-serif' transform="rotate(-90 458.3 105.2)">Density</text>
<text x="487.3" y="41.3" font-size="18.8" text-anchor="start" fill="#000" stroke="#000" stroke-width="0.22" font-family='"Liberation Sans", sans-serif'>c</text>
<line x1="482.68" y1="183.4" x2="647.32" y2="183.4" stroke="#e6e6e6" stroke-width="0.8"/>
<line x1="565" y1="20.5" x2="565" y2="189.5" stroke="#bbbbbb" stroke-width="0.8" stroke-dasharray="1.5,2"/>
<line x1="541.48" y1="20.5" x2="541.48" y2="189.5" stroke="#00ff00" stroke-width="0.8" stroke-dasharray="2,2"/>
<line x1="588.52" y1="20.5" x2="588.52" y2="189.5" stroke="#ff0000" stroke-width="0.8" stroke-dasharray="2,2"/>
<text x="500.2" y="56.4" font-size="10.2" text-anchor="start" fill="#0000ff" stroke="#0000ff" stroke-width="0.22" font-family='"Liberation Sans", sans-serif'>0.96</text>
<text x="525.8" y="56.4" font-size="10.2" text-anchor="start" fill="#0000ff" stroke="#0000ff" stroke-width="0.22" font-family='"Liberation Sans", sans-serif'>%</text>
<text x="595.4" y="56.4" font-size="10.2" text-anchor="start" fill="#0000ff" stroke="#0000ff" stroke-width="0.22" font-family='"Liberation Sans", sans-serif'>2.15</text>
<text x="619.8" y="56.4" font-size="10.2" text-anchor="start" fill="#0000ff" stroke="#0000ff" stroke-width="0.22" font-family='"Liberation Sans", sans-serif'>%</text>
<text x="500.2" y="82.6" font-size="10.2" text-anchor="start" fill="#00ff00" stroke="#00ff00" stroke-width="0.22" font-family='"Liberation Sans", sans-serif'>1.06</text>
<text x="525.8" y="82.6" font-size="10.2" text-anchor="start" fill="#00ff00" stroke="#00ff00" stroke-width="0.22" font-family='"Liberation Sans", sans-serif'>%</text>
<text x="595.4" y="82.6" font-size="10.2" text-anchor="start" fill="#00ff00" stroke="#00ff00" stroke-width="0.22" font-family='"Liberation Sans", sans-serif'>1.47</text>
<text x="619.8" y="82.6" font-size="10.2" text-anchor="start" fill="#00ff00" stroke="#00ff00" stroke-width="0.22" font-family='"Liberation Sans", sans-serif'>%</text>
<text x="500.2" y="108.8" font-size="10.2" text-anchor="start" fill="#ff0000" stroke="#ff0000" stroke-width="0.22" font-family='"Liberation Sans", sans-serif'>1.68</text>
<text x="525.8" y="108.8" font-size="10.2" text-anchor="start" fill="#ff0000" stroke="#ff0000" stroke-width="0.22" font-family='"Liberation Sans", sans-serif'>%</text>
<text x="595.4" y="108.8" font-size="10.2" text-anchor="start" fill="#ff0000" stroke="#ff0000" stroke-width="0.22" font-family='"Liberation Sans", sans-serif'>1.25</text>
<text x="619.8" y="108.8" font-size="10.2" text-anchor="start" fill="#ff0000" stroke="#ff0000" stroke-width="0.22" font-family='"Liberation Sans", sans-serif'>%</text>
<path d="M483.46,183.4 L483.65,183.4 L483.83,183.4 L484.01,183.4 L484.19,183.4 L484.37,183.4 L484.55,183.4 L484.73,183.4 L484.92,183.4 L485.1,183.4 L485.28,183.4 L485.46,183.4 L485.64,183.39 L485.82,183.39 L486,183.39 L486.18,183.39 L486.37,183.39 L486.55,183.39 L486.73,183.39 L486.91,183.39 L487.09,183.39 L487.27,183.39 L487.45,183.39 L487.64,183.39 L487.82,183.39 L488,183.38 L488.18,183.38 L488.36,183.38 L488.54,183.38 L488.72,183.38 L488.91,183.38 L489.09,183.38 L489.27,183.38 L489.45,183.38 L489.63,183.38 L489.81,183.37 L489.99,183.37 L490.18,183.37 L490.36,183.37 L490.54,183.37 L490.72,183.37 L490.9,183.37 L491.08,183.37 L491.26,183.37 L491.45,183.36 L491.63,183.36 L491.81,183.36 L491.99,183.36 L492.17,183.36 L492.35,183.36 L492.53,183.36 L492.72,183.36 L492.9,183.35 L493.08,183.35 L493.26,183.35 L493.44,183.35 L493.62,183.35 L493.8,183.35 L493.98,183.35 L494.17,183.34 L494.35,183.34 L494.53,183.34 L494.71,183.34 L494.89,183.34 L495.07,183.34 L495.25,183.33 L495.44,183.33 L495.62,183.33 L495.8,183.33 L495.98,183.33 L496.16,183.33 L496.34,183.33 L496.52,183.32 L496.71,183.32 L496.89,183.32 L497.07,183.32 L497.25,183.32 L497.43,183.32 L497.61,183.31 L497.79,183.31 L497.98,183.31 L498.16,183.31 L498.34,183.31 L498.52,183.31 L498.7,183.3 L498.88,183.3 L499.06,183.3 L499.25,183.3 L499.43,183.3 L499.61,183.3 L499.79,183.29 L499.97,183.29 L500.15,183.29 L500.33,183.29 L500.51,183.29 L500.7,183.28 L500.88,183.28 L501.06,183.28 L501.24,183.28 L501.42,183.28 L501.6,183.28 L501.78,183.27 L501.97,183.27 L502.15,183.27 L502.28,183.27 L502.33,183.27 L502.51,183.27 L502.69,183.26 L502.87,183.26 L503.05,183.26 L503.24,183.26 L503.42,183.26 L503.6,183.26 L503.78,183.25 L503.96,183.25 L504.14,183.25 L504.32,183.25 L504.51,183.25 L504.69,183.24 L504.87,183.24 L505.05,183.24 L505.23,183.24 L505.41,183.23 L505.59,183.23 L505.78,183.23 L505.96,183.23 L506.14,183.23 L506.32,183.22 L506.5,183.22 L506.68,183.22 L506.86,183.22 L507.05,183.21 L507.23,183.21 L507.41,183.21 L507.59,183.21 L507.77,183.2 L507.95,183.2 L508.13,183.2 L508.31,183.2 L508.5,183.19 L508.68,183.19 L508.86,183.19 L509.04,183.18 L509.22,183.18 L509.4,183.18 L509.58,183.18 L509.77,183.17 L509.95,183.17 L510.13,183.17 L510.31,183.16 L510.49,183.16 L510.67,183.16 L510.85,183.15 L511.04,183.15 L511.22,183.15 L511.4,183.15 L511.58,183.14 L511.76,183.14 L511.94,183.14 L512.12,183.13 L512.31,183.13 L512.49,183.13 L512.67,183.12 L512.85,183.12 L513.03,183.12 L513.21,183.11 L513.39,183.11 L513.58,183.1 L513.76,183.1 L513.94,183.1 L514.12,183.09 L514.3,183.09 L514.48,183.09 L514.66,183.08 L514.84,183.08 L515.03,183.07 L515.21,183.07 L515.39,183.07 L515.57,183.06 L515.75,183.06 L515.93,183.05 L516.11,183.05 L516.3,183.05 L516.48,183.04 L516.66,183.04 L516.84,183.03 L517.02,183.03 L517.2,183.03 L517.38,183.02 L517.57,183.02 L517.75,183.01 L517.93,183.01 L517.96,183.01 L518.11,183 L518.29,183 L518.47,182.99 L518.65,182.99 L518.84,182.98 L519.02,182.98 L519.2,182.97 L519.38,182.97 L519.56,182.96 L519.74,182.96 L519.92,182.95 L520.11,182.94 L520.29,182.94 L520.47,182.93 L520.65,182.93 L520.83,182.92 L521.01,182.91 L521.19,182.91 L521.38,182.9 L521.56,182.89 L521.74,182.89 L521.92,182.88 L522.1,182.87 L522.28,182.86 L522.46,182.86 L522.64,182.85 L522.83,182.84 L523.01,182.83 L523.19,182.82 L523.37,182.82 L523.55,182.81 L523.73,182.8 L523.91,182.79 L524.1,182.78 L524.28,182.78 L524.46,182.77 L524.64,182.76 L524.82,182.75 L525,182.74 L525.18,182.73 L525.37,182.72 L525.55,182.71 L525.73,182.7 L525.91,182.69 L526.09,182.69 L526.27,182.68 L526.45,182.67 L526.64,182.66 L526.82,182.65 L527,182.64 L527.18,182.63 L527.36,182.62 L527.54,182.61 L527.72,182.6 L527.91,182.59 L528.09,182.58 L528.27,182.57 L528.45,182.56 L528.63,182.55 L528.81,182.54 L528.99,182.53 L529.17,182.52 L529.36,182.5 L529.54,182.49 L529.72,182.48 L529.72,182.48 L529.9,182.47 L530.08,182.46 L530.26,182.45 L530.44,182.44 L530.63,182.43 L530.81,182.42 L530.99,182.4 L531.17,182.39 L531.35,182.38 L531.53,182.37 L531.71,182.36 L531.9,182.34 L532.08,182.33 L532.26,182.32 L532.44,182.31 L532.62,182.29 L532.8,182.28 L532.98,182.27 L533.17,182.25 L533.35,182.24 L533.53,182.22 L533.71,182.21 L533.89,182.2 L534.07,182.18 L534.25,182.16 L534.44,182.15 L534.62,182.13 L534.8,182.12 L534.98,182.1 L535.16,182.08 L535.34,182.07 L535.52,182.05 L535.71,182.03 L535.89,182.01 L536.07,181.99 L536.25,181.98 L536.43,181.96 L536.61,181.94 L536.79,181.92 L536.97,181.9 L537.16,181.88 L537.34,181.85 L537.52,181.83 L537.56,181.83 L537.7,181.81 L537.88,181.79 L538.06,181.76 L538.24,181.74 L538.43,181.72 L538.61,181.69 L538.79,181.66 L538.97,181.64 L539.15,181.61 L539.33,181.58 L539.51,181.55 L539.7,181.52 L539.88,181.49 L540.06,181.46 L540.24,181.42 L540.42,181.39 L540.6,181.36 L540.78,181.32 L540.97,181.29 L541.15,181.25 L541.33,181.21 L541.51,181.17 L541.69,181.13 L541.87,181.09 L542.05,181.05 L542.24,181.01 L542.42,180.97 L542.6,180.92 L542.78,180.88 L542.96,180.83 L543.14,180.79 L543.32,180.74 L543.5,180.69 L543.69,180.64 L543.87,180.59 L544.05,180.54 L544.23,180.49 L544.41,180.43 L544.59,180.38 L544.77,180.32 L544.96,180.27 L545.14,180.21 L545.32,180.15 L545.4,180.12 L545.5,180.09 L545.68,180.03 L545.86,179.96 L546.04,179.89 L546.23,179.82 L546.41,179.75 L546.59,179.67 L546.77,179.59 L546.95,179.5 L547.13,179.41 L547.31,179.32 L547.5,179.23 L547.68,179.13 L547.86,179.03 L548.04,178.92 L548.22,178.82 L548.4,178.71 L548.58,178.59 L548.77,178.47 L548.95,178.35 L549.13,178.23 L549.31,178.1 L549.49,177.97 L549.67,177.84 L549.85,177.7 L550.04,177.56 L550.22,177.41 L550.4,177.27 L550.58,177.12 L550.76,176.96 L550.89,176.85 L550.94,176.8 L551.12,176.63 L551.3,176.46 L551.49,176.26 L551.67,176.06 L551.85,175.85 L552.03,175.63 L552.21,175.39 L552.39,175.15 L552.57,174.89 L552.76,174.63 L552.94,174.35 L553.12,174.07 L553.3,173.77 L553.48,173.47 L553.66,173.15 L553.84,172.83 L554.03,172.5 L554.21,172.15 L554.39,171.8 L554.57,171.44 L554.75,171.07 L554.81,170.96 L554.93,170.69 L555.11,170.3 L555.3,169.88 L555.48,169.44 L555.66,168.98 L555.84,168.49 L556.02,167.97 L556.2,167.41 L556.38,166.81 L556.57,166.17 L556.75,165.49 L556.93,164.76 L557.11,163.98 L557.16,163.75 L557.29,163.07 L557.47,161.89 L557.65,160.47 L557.83,158.86 L558.02,157.11 L558.2,155.28 L558.38,153.42 L558.56,151.57 L558.74,149.8 L558.92,148.14 L559.1,146.66 L559.29,145.39 L559.36,144.98 L559.47,144.34 L559.65,143.27 L559.83,142.19 L560.01,141.16 L560.19,140.22 L560.37,139.41 L560.56,138.78 L560.74,138.36 L560.92,138.21 L560.92,138.21 L561.1,139.09 L561.28,141.37 L561.46,144.26 L561.64,147.04 L561.83,148.93 L561.94,149.34 L562.01,149.33 L562.19,149.2 L562.37,148.89 L562.55,148.4 L562.73,147.7 L562.91,146.78 L563.1,145.63 L563.28,144.23 L563.46,142.57 L563.64,140.62 L563.82,138.38 L564,135.82 L564.18,132.93 L564.29,131 L564.37,128.33 L564.55,111.83 L564.69,94.32 L564.73,88.18 L564.88,58.69 L564.91,52.8 L565,36.68 L565.09,52.8 L565.12,58.69 L565.27,88.18 L565.31,94.32 L565.45,112.04 L565.63,128.64 L565.71,131 L565.82,132.22 L566,134 L566.18,135.51 L566.36,136.77 L566.54,137.8 L566.72,138.62 L566.9,139.25 L567.09,139.69 L567.27,139.99 L567.45,140.14 L567.59,140.17 L567.63,140.05 L567.81,137.35 L567.99,132.36 L568.17,126.76 L568.36,122.25 L568.53,120.52 L568.54,120.52 L568.72,120.81 L568.9,121.56 L569.08,122.68 L569.26,124.1 L569.44,125.71 L569.63,127.44 L569.81,129.2 L569.99,130.89 L570.1,131.84 L570.17,132.48 L570.35,134.21 L570.53,136.13 L570.71,138.19 L570.9,140.36 L571.08,142.61 L571.26,144.9 L571.44,147.2 L571.62,149.46 L571.8,151.65 L571.98,153.74 L572.17,155.7 L572.35,157.47 L572.53,159.04 L572.71,160.35 L572.84,161.13 L572.89,161.4 L573.07,162.32 L573.25,163.18 L573.43,164 L573.62,164.76 L573.8,165.47 L573.98,166.13 L574.16,166.76 L574.34,167.34 L574.52,167.89 L574.7,168.4 L574.89,168.89 L575.07,169.35 L575.19,169.65 L575.25,169.78 L575.43,170.2 L575.61,170.6 L575.79,171 L575.97,171.38 L576.16,171.76 L576.34,172.12 L576.52,172.47 L576.7,172.8 L576.88,173.13 L577.06,173.45 L577.24,173.75 L577.43,174.04 L577.61,174.32 L577.79,174.59 L577.97,174.85 L578.15,175.09 L578.33,175.32 L578.51,175.55 L578.7,175.76 L578.88,175.95 L579.06,176.14 L579.11,176.19 L579.24,176.32 L579.42,176.49 L579.6,176.66 L579.78,176.83 L579.96,176.99 L580.15,177.14 L580.33,177.3 L580.51,177.45 L580.69,177.59 L580.87,177.74 L581.05,177.87 L581.23,178.01 L581.42,178.14 L581.6,178.27 L581.78,178.39 L581.96,178.51 L582.14,178.63 L582.32,178.74 L582.5,178.85 L582.69,178.96 L582.87,179.06 L583.05,179.16 L583.23,179.25 L583.41,179.35 L583.59,179.43 L583.77,179.52 L583.96,179.6 L584.14,179.68 L584.32,179.75 L584.5,179.82 L584.6,179.86 L584.68,179.89 L584.86,179.96 L585.04,180.03 L585.23,180.09 L585.41,180.15 L585.59,180.22 L585.77,180.28 L585.95,180.34 L586.13,180.4 L586.31,180.46 L586.5,180.52 L586.68,180.57 L586.86,180.63 L587.04,180.68 L587.22,180.74 L587.4,180.79 L587.58,180.84 L587.76,180.89 L587.95,180.94 L588.13,180.99 L588.31,181.04 L588.49,181.08 L588.67,181.13 L588.85,181.17 L589.03,181.21 L589.22,181.26 L589.4,181.3 L589.58,181.34 L589.76,181.38 L589.94,181.41 L590.12,181.45 L590.3,181.49 L590.49,181.52 L590.67,181.56 L590.85,181.59 L591.03,181.62 L591.21,181.65 L591.39,181.68 L591.57,181.71 L591.76,181.73 L591.94,181.76 L592.12,181.79 L592.3,181.81 L592.44,181.83 L592.48,181.83 L592.66,181.86 L592.84,181.88 L593.03,181.9 L593.21,181.92 L593.39,181.94 L593.57,181.96 L593.75,181.98 L593.93,182 L594.11,182.02 L594.29,182.04 L594.48,182.05 L594.66,182.07 L594.84,182.09 L595.02,182.11 L595.2,182.12 L595.38,182.14 L595.56,182.15 L595.75,182.17 L595.93,182.19 L596.11,182.2 L596.29,182.21 L596.47,182.23 L596.65,182.24 L596.83,182.26 L597.02,182.27 L597.2,182.28 L597.38,182.3 L597.56,182.31 L597.74,182.32 L597.92,182.33 L598.1,182.35 L598.29,182.36 L598.47,182.37 L598.65,182.38 L598.83,182.39 L599.01,182.41 L599.19,182.42 L599.37,182.43 L599.56,182.44 L599.74,182.45 L599.92,182.46 L600.1,182.47 L600.28,182.48 L600.28,182.48 L600.46,182.49 L600.64,182.5 L600.83,182.52 L601.01,182.53 L601.19,182.54 L601.37,182.55 L601.55,182.56 L601.73,182.57 L601.91,182.58 L602.09,182.59 L602.28,182.6 L602.46,182.61 L602.64,182.62 L602.82,182.63 L603,182.64 L603.18,182.65 L603.36,182.66 L603.55,182.67 L603.73,182.68 L603.91,182.69 L604.09,182.69 L604.27,182.7 L604.45,182.71 L604.63,182.72 L604.82,182.73 L605,182.74 L605.18,182.75 L605.36,182.76 L605.54,182.77 L605.72,182.78 L605.9,182.78 L606.09,182.79 L606.27,182.8 L606.45,182.81 L606.63,182.82 L606.81,182.82 L606.99,182.83 L607.17,182.84 L607.36,182.85 L607.54,182.86 L607.72,182.86 L607.9,182.87 L608.08,182.88 L608.26,182.89 L608.44,182.89 L608.62,182.9 L608.81,182.91 L608.99,182.91 L609.17,182.92 L609.35,182.93 L609.53,182.93 L609.71,182.94 L609.89,182.94 L610.08,182.95 L610.26,182.96 L610.44,182.96 L610.62,182.97 L610.8,182.97 L610.98,182.98 L611.16,182.98 L611.35,182.99 L611.53,182.99 L611.71,183 L611.89,183 L612.04,183.01 L612.07,183.01 L612.25,183.01 L612.43,183.02 L612.62,183.02 L612.8,183.03 L612.98,183.03 L613.16,183.03 L613.34,183.04 L613.52,183.04 L613.7,183.05 L613.89,183.05 L614.07,183.05 L614.25,183.06 L614.43,183.06 L614.61,183.07 L614.79,183.07 L614.97,183.07 L615.16,183.08 L615.34,183.08 L615.52,183.09 L615.7,183.09 L615.88,183.09 L616.06,183.1 L616.24,183.1 L616.42,183.1 L616.61,183.11 L616.79,183.11 L616.97,183.12 L617.15,183.12 L617.33,183.12 L617.51,183.13 L617.69,183.13 L617.88,183.13 L618.06,183.14 L618.24,183.14 L618.42,183.14 L618.6,183.15 L618.78,183.15 L618.96,183.15 L619.15,183.15 L619.33,183.16 L619.51,183.16 L619.69,183.16 L619.87,183.17 L620.05,183.17 L620.23,183.17 L620.42,183.18 L620.6,183.18 L620.78,183.18 L620.96,183.18 L621.14,183.19 L621.32,183.19 L621.5,183.19 L621.69,183.2 L621.87,183.2 L622.05,183.2 L622.23,183.2 L622.41,183.21 L622.59,183.21 L622.77,183.21 L622.95,183.21 L623.14,183.22 L623.32,183.22 L623.5,183.22 L623.68,183.22 L623.86,183.23 L624.04,183.23 L624.22,183.23 L624.41,183.23 L624.59,183.23 L624.77,183.24 L624.95,183.24 L625.13,183.24 L625.31,183.24 L625.49,183.25 L625.68,183.25 L625.86,183.25 L626.04,183.25 L626.22,183.25 L626.4,183.26 L626.58,183.26 L626.76,183.26 L626.95,183.26 L627.13,183.26 L627.31,183.26 L627.49,183.27 L627.67,183.27 L627.72,183.27 L627.85,183.27 L628.03,183.27 L628.22,183.27 L628.4,183.28 L628.58,183.28 L628.76,183.28 L628.94,183.28 L629.12,183.28 L629.3,183.28 L629.49,183.29 L629.67,183.29 L629.85,183.29 L630.03,183.29 L630.21,183.29 L630.39,183.3 L630.57,183.3 L630.75,183.3 L630.94,183.3 L631.12,183.3 L631.3,183.3 L631.48,183.31 L631.66,183.31 L631.84,183.31 L632.02,183.31 L632.21,183.31 L632.39,183.31 L632.57,183.32 L632.75,183.32 L632.93,183.32 L633.11,183.32 L633.29,183.32 L633.48,183.32 L633.66,183.33 L633.84,183.33 L634.02,183.33 L634.2,183.33 L634.38,183.33 L634.56,183.33 L634.75,183.33 L634.93,183.34 L635.11,183.34 L635.29,183.34 L635.47,183.34 L635.65,183.34 L635.83,183.34 L636.02,183.35 L636.2,183.35 L636.38,183.35 L636.56,183.35 L636.74,183.35 L636.92,183.35 L637.1,183.35 L637.28,183.36 L637.47,183.36 L637.65,183.36 L637.83,183.36 L638.01,183.36 L638.19,183.36 L638.37,183.36 L638.55,183.36 L638.74,183.37 L638.92,183.37 L639.1,183.37 L639.28,183.37 L639.46,183.37 L639.64,183.37 L639.82,183.37 L640.01,183.37 L640.19,183.37 L640.37,183.38 L640.55,183.38 L640.73,183.38 L640.91,183.38 L641.09,183.38 L641.28,183.38 L641.46,183.38 L641.64,183.38 L641.82,183.38 L642,183.38 L642.18,183.39 L642.36,183.39 L642.55,183.39 L642.73,183.39 L642.91,183.39 L643.09,183.39 L643.27,183.39 L643.45,183.39 L643.63,183.39 L643.82,183.39 L644,183.39 L644.18,183.39 L644.36,183.39 L644.54,183.4 L644.72,183.4 L644.9,183.4 L645.08,183.4 L645.27,183.4 L645.45,183.4 L645.63,183.4 L645.81,183.4 L645.99,183.4 L646.17,183.4 L646.35,183.4 L646.54,183.4" fill="none" stroke="#ff0000" stroke-width="1.1" stroke-linejoin="round"/>
<path d="M483.46,183.4 L483.65,183.4 L483.83,183.4 L484.01,183.4 L484.19,183.4 L484.37,183.4 L484.55,183.4 L484.73,183.4 L484.92,183.4 L485.1,183.4 L485.28,183.4 L485.46,183.4 L485.64,183.39 L485.82,183.39 L486,183.39 L486.18,183.39 L486.37,183.39 L486.55,183.39 L486.73,183.39 L486.91,183.39 L487.09,183.39 L487.27,183.39 L487.45,183.39 L487.64,183.39 L487.82,183.39 L488,183.38 L488.18,183.38 L488.36,183.38 L488.54,183.38 L488.72,183.38 L488.91,183.38 L489.09,183.38 L489.27,183.38 L489.45,183.38 L489.63,183.38 L489.81,183.37 L489.99,183.37 L490.18,183.37 L490.36,183.37 L490.54,183.37 L490.72,183.37 L490.9,183.37 L491.08,183.37 L491.26,183.37 L491.45,183.36 L491.63,183.36 L491.81,183.36 L491.99,183.36 L492.17,183.36 L492.35,183.36 L492.53,183.36 L492.72,183.36 L492.9,183.35 L493.08,183.35 L493.26,183.35 L493.44,183.35 L493.62,183.35 L493.8,183.35 L493.98,183.35 L494.17,183.34 L494.35,183.34 L494.53,183.34 L494.71,183.34 L494.89,183.34 L495.07,183.34 L495.25,183.33 L495.44,183.33 L495.62,183.33 L495.8,183.33 L495.98,183.33 L496.16,183.33 L496.34,183.33 L496.52,183.32 L496.71,183.32 L496.89,183.32 L497.07,183.32 L497.25,183.32 L497.43,183.32 L497.61,183.31 L497.79,183.31 L497.98,183.31 L498.16,183.31 L498.34,183.31 L498.52,183.31 L498.7,183.3 L498.88,183.3 L499.06,183.3 L499.25,183.3 L499.43,183.3 L499.61,183.3 L499.79,183.29 L499.97,183.29 L500.15,183.29 L500.33,183.29 L500.51,183.29 L500.7,183.28 L500.88,183.28 L501.06,183.28 L501.24,183.28 L501.42,183.28 L501.6,183.28 L501.78,183.27 L501.97,183.27 L502.15,183.27 L502.28,183.27 L502.33,183.27 L502.51,183.27 L502.69,183.26 L502.87,183.26 L503.05,183.26 L503.24,183.26 L503.42,183.26 L503.6,183.26 L503.78,183.25 L503.96,183.25 L504.14,183.25 L504.32,183.25 L504.51,183.25 L504.69,183.24 L504.87,183.24 L505.05,183.24 L505.23,183.24 L505.41,183.23 L505.59,183.23 L505.78,183.23 L505.96,183.23 L506.14,183.23 L506.32,183.22 L506.5,183.22 L506.68,183.22 L506.86,183.22 L507.05,183.21 L507.23,183.21 L507.41,183.21 L507.59,183.21 L507.77,183.2 L507.95,183.2 L508.13,183.2 L508.31,183.2 L508.5,183.19 L508.68,183.19 L508.86,183.19 L509.04,183.18 L509.22,183.18 L509.4,183.18 L509.58,183.18 L509.77,183.17 L509.95,183.17 L510.13,183.17 L510.31,183.16 L510.49,183.16 L510.67,183.16 L510.85,183.15 L511.04,183.15 L511.22,183.15 L511.4,183.15 L511.58,183.14 L511.76,183.14 L511.94,183.14 L512.12,183.13 L512.31,183.13 L512.49,183.13 L512.67,183.12 L512.85,183.12 L513.03,183.12 L513.21,183.11 L513.39,183.11 L513.58,183.1 L513.76,183.1 L513.94,183.1 L514.12,183.09 L514.3,183.09 L514.48,183.09 L514.66,183.08 L514.84,183.08 L515.03,183.07 L515.21,183.07 L515.39,183.07 L515.57,183.06 L515.75,183.06 L515.93,183.05 L516.11,183.05 L516.3,183.05 L516.48,183.04 L516.66,183.04 L516.84,183.03 L517.02,183.03 L517.2,183.03 L517.38,183.02 L517.57,183.02 L517.75,183.01 L517.93,183.01 L517.96,183.01 L518.11,183 L518.29,183 L518.47,182.99 L518.65,182.99 L518.84,182.98 L519.02,182.98 L519.2,182.97 L519.38,182.97 L519.56,182.96 L519.74,182.96 L519.92,182.95 L520.11,182.94 L520.29,182.94 L520.47,182.93 L520.65,182.93 L520.83,182.92 L521.01,182.91 L521.19,182.91 L521.38,182.9 L521.56,182.89 L521.74,182.89 L521.92,182.88 L522.1,182.87 L522.28,182.86 L522.46,182.86 L522.64,182.85 L522.83,182.84 L523.01,182.83 L523.19,182.82 L523.37,182.82 L523.55,182.81 L523.73,182.8 L523.91,182.79 L524.1,182.78 L524.28,182.78 L524.46,182.77 L524.64,182.76 L524.82,182.75 L525,182.74 L525.18,182.73 L525.37,182.72 L525.55,182.71 L525.73,182.7 L525.91,182.69 L526.09,182.69 L526.27,182.68 L526.45,182.67 L526.64,182.66 L526.82,182.65 L527,182.64 L527.18,182.63 L527.36,182.62 L527.54,182.61 L527.72,182.6 L527.91,182.59 L528.09,182.58 L528.27,182.57 L528.45,182.56 L528.63,182.55 L528.81,182.54 L528.99,182.53 L529.17,182.52 L529.36,182.5 L529.54,182.49 L529.72,182.48 L529.72,182.48 L529.9,182.47 L530.08,182.46 L530.26,182.45 L530.44,182.44 L530.63,182.43 L530.81,182.42 L530.99,182.4 L531.17,182.39 L531.35,182.38 L531.53,182.37 L531.71,182.36 L531.9,182.34 L532.08,182.33 L532.26,182.32 L532.44,182.31 L532.62,182.29 L532.8,182.28 L532.98,182.27 L533.17,182.25 L533.35,182.24 L533.53,182.22 L533.71,182.21 L533.89,182.2 L534.07,182.18 L534.25,182.16 L534.44,182.15 L534.62,182.13 L534.8,182.12 L534.98,182.1 L535.16,182.08 L535.34,182.07 L535.52,182.05 L535.71,182.03 L535.89,182.01 L536.07,181.99 L536.25,181.98 L536.43,181.96 L536.61,181.94 L536.79,181.92 L536.97,181.9 L537.16,181.88 L537.34,181.85 L537.52,181.83 L537.56,181.83 L537.7,181.81 L537.88,181.79 L538.06,181.76 L538.24,181.74 L538.43,181.72 L538.61,181.69 L538.79,181.66 L538.97,181.64 L539.15,181.61 L539.33,181.58 L539.51,181.55 L539.7,181.52 L539.88,181.49 L540.06,181.46 L540.24,181.42 L540.42,181.39 L540.6,181.36 L540.78,181.32 L540.97,181.29 L541.15,181.25 L541.33,181.21 L541.51,181.17 L541.69,181.13 L541.87,181.09 L542.05,181.05 L542.24,181.01 L542.42,180.97 L542.6,180.92 L542.78,180.88 L542.96,180.83 L543.14,180.79 L543.32,180.74 L543.5,180.69 L543.69,180.64 L543.87,180.59 L544.05,180.54 L544.23,180.49 L544.41,180.43 L544.59,180.38 L544.77,180.32 L544.96,180.27 L545.14,180.21 L545.32,180.15 L545.4,180.12 L545.5,180.09 L545.68,180.03 L545.86,179.96 L546.04,179.89 L546.23,179.82 L546.41,179.75 L546.59,179.67 L546.77,179.59 L546.95,179.5 L547.13,179.41 L547.31,179.32 L547.5,179.23 L547.68,179.13 L547.86,179.03 L548.04,178.92 L548.22,178.82 L548.4,178.71 L548.58,178.59 L548.77,178.47 L548.95,178.35 L549.13,178.23 L549.31,178.1 L549.49,177.97 L549.67,177.84 L549.85,177.7 L550.04,177.56 L550.22,177.41 L550.4,177.27 L550.58,177.12 L550.76,176.96 L550.89,176.85 L550.94,176.8 L551.12,176.63 L551.3,176.46 L551.49,176.26 L551.67,176.06 L551.85,175.85 L552.03,175.63 L552.21,175.39 L552.39,175.15 L552.57,174.89 L552.76,174.63 L552.94,174.35 L553.12,174.07 L553.3,173.77 L553.48,173.47 L553.66,173.15 L553.84,172.83 L554.03,172.5 L554.21,172.15 L554.39,171.8 L554.57,171.44 L554.75,171.07 L554.81,170.96 L554.93,170.69 L555.11,170.31 L555.3,169.91 L555.48,169.49 L555.66,169.04 L555.84,168.57 L556.02,168.06 L556.2,167.51 L556.38,166.91 L556.57,166.27 L556.75,165.57 L556.93,164.81 L557.11,163.99 L557.16,163.75 L557.29,162.98 L557.47,161.5 L557.65,159.66 L557.83,157.57 L558.02,155.33 L558.2,153.08 L558.38,150.91 L558.56,148.95 L558.74,147.31 L558.88,146.32 L558.92,146.09 L559.1,145.02 L559.29,143.95 L559.47,142.93 L559.65,141.99 L559.83,141.18 L560.01,140.52 L560.19,140.05 L560.37,139.8 L560.45,139.78 L560.56,139.98 L560.74,141.1 L560.92,142.8 L561.1,144.62 L561.28,146.08 L561.46,146.72 L561.47,146.72 L561.64,146.69 L561.83,146.57 L562.01,146.35 L562.19,146.03 L562.37,145.6 L562.55,145.03 L562.73,144.33 L562.91,143.48 L563.1,142.47 L563.28,141.29 L563.46,139.93 L563.64,138.38 L563.82,136.62 L564,134.65 L564.18,132.45 L564.29,131 L564.37,128.47 L564.55,111.58 L564.69,94.32 L564.73,88.77 L564.88,63.14 L564.91,57.6 L565,41.92 L565.09,57.6 L565.12,63.14 L565.27,88.77 L565.31,94.32 L565.45,111.62 L565.63,128.53 L565.71,131 L565.82,132.33 L566,134.3 L566.18,136.02 L566.36,137.5 L566.54,138.77 L566.72,139.84 L566.9,140.71 L567.09,141.41 L567.27,141.95 L567.45,142.35 L567.63,142.61 L567.81,142.75 L567.98,142.79 L567.99,142.79 L568.17,142.13 L568.36,140.71 L568.54,139.03 L568.72,137.59 L568.9,136.9 L568.92,136.9 L569.08,137.05 L569.26,137.57 L569.44,138.39 L569.63,139.42 L569.81,140.61 L569.99,141.89 L570.17,143.18 L570.35,144.41 L570.49,145.27 L570.53,145.53 L570.71,146.68 L570.9,147.9 L571.08,149.19 L571.26,150.52 L571.44,151.87 L571.62,153.23 L571.8,154.58 L571.98,155.89 L572.17,157.16 L572.35,158.36 L572.53,159.47 L572.71,160.48 L572.84,161.13 L572.89,161.37 L573.07,162.2 L573.25,163.01 L573.43,163.79 L573.62,164.54 L573.8,165.26 L573.98,165.94 L574.16,166.6 L574.34,167.22 L574.52,167.8 L574.7,168.35 L574.89,168.87 L575.07,169.34 L575.19,169.65 L575.25,169.78 L575.43,170.2 L575.61,170.6 L575.79,171 L575.97,171.38 L576.16,171.76 L576.34,172.12 L576.52,172.47 L576.7,172.8 L576.88,173.13 L577.06,173.45 L577.24,173.75 L577.43,174.04 L577.61,174.32 L577.79,174.59 L577.97,174.85 L578.15,175.09 L578.33,175.32 L578.51,175.55 L578.7,175.76 L578.88,175.95 L579.06,176.14 L579.11,176.19 L579.24,176.32 L579.42,176.49 L579.6,176.66 L579.78,176.83 L579.96,176.99 L580.15,177.14 L580.33,177.3 L580.51,177.45 L580.69,177.59 L580.87,177.74 L581.05,177.87 L581.23,178.01 L581.42,178.14 L581.6,178.27 L581.78,178.39 L581.96,178.51 L582.14,178.63 L582.32,178.74 L582.5,178.85 L582.69,178.96 L582.87,179.06 L583.05,179.16 L583.23,179.25 L583.41,179.35 L583.59,179.43 L583.77,179.52 L583.96,179.6 L584.14,179.68 L584.32,179.75 L584.5,179.82 L584.6,179.86 L584.68,179.89 L584.86,179.96 L585.04,180.03 L585.23,180.09 L585.41,180.15 L585.59,180.22 L585.77,180.28 L585.95,180.34 L586.13,180.4 L586.31,180.46 L586.5,180.52 L586.68,180.57 L586.86,180.63 L587.04,180.68 L587.22,180.74 L587.4,180.79 L587.58,180.84 L587.76,180.89 L587.95,180.94 L588.13,180.99 L588.31,181.04 L588.49,181.08 L588.67,181.13 L588.85,181.17 L589.03,181.21 L589.22,181.26 L589.4,181.3 L589.58,181.34 L589.76,181.38 L589.94,181.41 L590.12,181.45 L590.3,181.49 L590.49,181.52 L590.67,181.56 L590.85,181.59 L591.03,181.62 L591.21,181.65 L591.39,181.68 L591.57,181.71 L591.76,181.73 L591.94,181.76 L592.12,181.79 L592.3,181.81 L592.44,181.83 L592.48,181.83 L592.66,181.86 L592.84,181.88 L593.03,181.9 L593.21,181.92 L593.39,181.94 L593.57,181.96 L593.75,181.98 L593.93,182 L594.11,182.02 L594.29,182.04 L594.48,182.05 L594.66,182.07 L594.84,182.09 L595.02,182.11 L595.2,182.12 L595.38,182.14 L595.56,182.15 L595.75,182.17 L595.93,182.19 L596.11,182.2 L596.29,182.21 L596.47,182.23 L596.65,182.24 L596.83,182.26 L597.02,182.27 L597.2,182.28 L597.38,182.3 L597.56,182.31 L597.74,182.32 L597.92,182.33 L598.1,182.35 L598.29,182.36 L598.47,182.37 L598.65,182.38 L598.83,182.39 L599.01,182.41 L599.19,182.42 L599.37,182.43 L599.56,182.44 L599.74,182.45 L599.92,182.46 L600.1,182.47 L600.28,182.48 L600.28,182.48 L600.46,182.49 L600.64,182.5 L600.83,182.52 L601.01,182.53 L601.19,182.54 L601.37,182.55 L601.55,182.56 L601.73,182.57 L601.91,182.58 L602.09,182.59 L602.28,182.6 L602.46,182.61 L602.64,182.62 L602.82,182.63 L603,182.64 L603.18,182.65 L603.36,182.66 L603.55,182.67 L603.73,182.68 L603.91,182.69 L604.09,182.69 L604.27,182.7 L604.45,182.71 L604.63,182.72 L604.82,182.73 L605,182.74 L605.18,182.75 L605.36,182.76 L605.54,182.77 L605.72,182.78 L605.9,182.78 L606.09,182.79 L606.27,182.8 L606.45,182.81 L606.63,182.82 L606.81,182.82 L606.99,182.83 L607.17,182.84 L607.36,182.85 L607.54,182.86 L607.72,182.86 L607.9,182.87 L608.08,182.88 L608.26,182.89 L608.44,182.89 L608.62,182.9 L608.81,182.91 L608.99,182.91 L609.17,182.92 L609.35,182.93 L609.53,182.93 L609.71,182.94 L609.89,182.94 L610.08,182.95 L610.26,182.96 L610.44,182.96 L610.62,182.97 L610.8,182.97 L610.98,182.98 L611.16,182.98 L611.35,182.99 L611.53,182.99 L611.71,183 L611.89,183 L612.04,183.01 L612.07,183.01 L612.25,183.01 L612.43,183.02 L612.62,183.02 L612.8,183.03 L612.98,183.03 L613.16,183.03 L613.34,183.04 L613.52,183.04 L613.7,183.05 L613.89,183.05 L614.07,183.05 L614.25,183.06 L614.43,183.06 L614.61,183.07 L614.79,183.07 L614.97,183.07 L615.16,183.08 L615.34,183.08 L615.52,183.09 L615.7,183.09 L615.88,183.09 L616.06,183.1 L616.24,183.1 L616.42,183.1 L616.61,183.11 L616.79,183.11 L616.97,183.12 L617.15,183.12 L617.33,183.12 L617.51,183.13 L617.69,183.13 L617.88,183.13 L618.06,183.14 L618.24,183.14 L618.42,183.14 L618.6,183.15 L618.78,183.15 L618.96,183.15 L619.15,183.15 L619.33,183.16 L619.51,183.16 L619.69,183.16 L619.87,183.17 L620.05,183.17 L620.23,183.17 L620.42,183.18 L620.6,183.18 L620.78,183.18 L620.96,183.18 L621.14,183.19 L621.32,183.19 L621.5,183.19 L621.69,183.2 L621.87,183.2 L622.05,183.2 L622.23,183.2 L622.41,183.21 L622.59,183.21 L622.77,183.21 L622.95,183.21 L623.14,183.22 L623.32,183.22 L623.5,183.22 L623.68,183.22 L623.86,183.23 L624.04,183.23 L624.22,183.23 L624.41,183.23 L624.59,183.23 L624.77,183.24 L624.95,183.24 L625.13,183.24 L625.31,183.24 L625.49,183.25 L625.68,183.25 L625.86,183.25 L626.04,183.25 L626.22,183.25 L626.4,183.26 L626.58,183.26 L626.76,183.26 L626.95,183.26 L627.13,183.26 L627.31,183.26 L627.49,183.27 L627.67,183.27 L627.72,183.27 L627.85,183.27 L628.03,183.27 L628.22,183.27 L628.4,183.28 L628.58,183.28 L628.76,183.28 L628.94,183.28 L629.12,183.28 L629.3,183.28 L629.49,183.29 L629.67,183.29 L629.85,183.29 L630.03,183.29 L630.21,183.29 L630.39,183.3 L630.57,183.3 L630.75,183.3 L630.94,183.3 L631.12,183.3 L631.3,183.3 L631.48,183.31 L631.66,183.31 L631.84,183.31 L632.02,183.31 L632.21,183.31 L632.39,183.31 L632.57,183.32 L632.75,183.32 L632.93,183.32 L633.11,183.32 L633.29,183.32 L633.48,183.32 L633.66,183.33 L633.84,183.33 L634.02,183.33 L634.2,183.33 L634.38,183.33 L634.56,183.33 L634.75,183.33 L634.93,183.34 L635.11,183.34 L635.29,183.34 L635.47,183.34 L635.65,183.34 L635.83,183.34 L636.02,183.35 L636.2,183.35 L636.38,183.35 L636.56,183.35 L636.74,183.35 L636.92,183.35 L637.1,183.35 L637.28,183.36 L637.47,183.36 L637.65,183.36 L637.83,183.36 L638.01,183.36 L638.19,183.36 L638.37,183.36 L638.55,183.36 L638.74,183.37 L638.92,183.37 L639.1,183.37 L639.28,183.37 L639.46,183.37 L639.64,183.37 L639.82,183.37 L640.01,183.37 L640.19,183.37 L640.37,183.38 L640.55,183.38 L640.73,183.38 L640.91,183.38 L641.09,183.38 L641.28,183.38 L641.46,183.38 L641.64,183.38 L641.82,183.38 L642,183.38 L642.18,183.39 L642.36,183.39 L642.55,183.39 L642.73,183.39 L642.91,183.39 L643.09,183.39 L643.27,183.39 L643.45,183.39 L643.63,183.39 L643.82,183.39 L644,183.39 L644.18,183.39 L644.36,183.39 L644.54,183.4 L644.72,183.4 L644.9,183.4 L645.08,183.4 L645.27,183.4 L645.45,183.4 L645.63,183.4 L645.81,183.4 L645.99,183.4 L646.17,183.4 L646.35,183.4 L646.54,183.4" fill="none" stroke="#00ff00" stroke-width="1.1" stroke-linejoin="round"/>
<path d="M483.46,183.4 L483.65,183.4 L483.83,183.4 L484.01,183.4 L484.19,183.4 L484.37,183.4 L484.55,183.4 L484.73,183.4 L484.92,183.4 L485.1,183.4 L485.28,183.4 L485.46,183.4 L485.64,183.39 L485.82,183.39 L486,183.39 L486.18,183.39 L486.37,183.39 L486.55,183.39 L486.73,183.39 L486.91,183.39 L487.09,183.39 L487.27,183.39 L487.45,183.39 L487.64,183.39 L487.82,183.39 L488,183.38 L488.18,183.38 L488.36,183.38 L488.54,183.38 L488.72,183.38 L488.91,183.38 L489.09,183.38 L489.27,183.38 L489.45,183.38 L489.63,183.38 L489.81,183.37 L489.99,183.37 L490.18,183.37 L490.36,183.37 L490.54,183.37 L490.72,183.37 L490.9,183.37 L491.08,183.37 L491.26,183.37 L491.45,183.36 L491.63,183.36 L491.81,183.36 L491.99,183.36 L492.17,183.36 L492.35,183.36 L492.53,183.36 L492.72,183.36 L492.9,183.35 L493.08,183.35 L493.26,183.35 L493.44,183.35 L493.62,183.35 L493.8,183.35 L493.98,183.35 L494.17,183.34 L494.35,183.34 L494.53,183.34 L494.71,183.34 L494.89,183.34 L495.07,183.34 L495.25,183.33 L495.44,183.33 L495.62,183.33 L495.8,183.33 L495.98,183.33 L496.16,183.33 L496.34,183.33 L496.52,183.32 L496.71,183.32 L496.89,183.32 L497.07,183.32 L497.25,183.32 L497.43,183.32 L497.61,183.31 L497.79,183.31 L497.98,183.31 L498.16,183.31 L498.34,183.31 L498.52,183.31 L498.7,183.3 L498.88,183.3 L499.06,183.3 L499.25,183.3 L499.43,183.3 L499.61,183.3 L499.79,183.29 L499.97,183.29 L500.15,183.29 L500.33,183.29 L500.51,183.29 L500.7,183.28 L500.88,183.28 L501.06,183.28 L501.24,183.28 L501.42,183.28 L501.6,183.28 L501.78,183.27 L501.97,183.27 L502.15,183.27 L502.28,183.27 L502.33,183.27 L502.51,183.27 L502.69,183.26 L502.87,183.26 L503.05,183.26 L503.24,183.26 L503.42,183.26 L503.6,183.26 L503.78,183.25 L503.96,183.25 L504.14,183.25 L504.32,183.25 L504.51,183.25 L504.69,183.24 L504.87,183.24 L505.05,183.24 L505.23,183.24 L505.41,183.23 L505.59,183.23 L505.78,183.23 L505.96,183.23 L506.14,183.23 L506.32,183.22 L506.5,183.22 L506.68,183.22 L506.86,183.22 L507.05,183.21 L507.23,183.21 L507.41,183.21 L507.59,183.21 L507.77,183.2 L507.95,183.2 L508.13,183.2 L508.31,183.2 L508.5,183.19 L508.68,183.19 L508.86,183.19 L509.04,183.18 L509.22,183.18 L509.4,183.18 L509.58,183.18 L509.77,183.17 L509.95,183.17 L510.13,183.17 L510.31,183.16 L510.49,183.16 L510.67,183.16 L510.85,183.15 L511.04,183.15 L511.22,183.15 L511.4,183.15 L511.58,183.14 L511.76,183.14 L511.94,183.14 L512.12,183.13 L512.31,183.13 L512.49,183.13 L512.67,183.12 L512.85,183.12 L513.03,183.12 L513.21,183.11 L513.39,183.11 L513.58,183.1 L513.76,183.1 L513.94,183.1 L514.12,183.09 L514.3,183.09 L514.48,183.09 L514.66,183.08 L514.84,183.08 L515.03,183.07 L515.21,183.07 L515.39,183.07 L515.57,183.06 L515.75,183.06 L515.93,183.05 L516.11,183.05 L516.3,183.05 L516.48,183.04 L516.66,183.04 L516.84,183.03 L517.02,183.03 L517.2,183.03 L517.38,183.02 L517.57,183.02 L517.75,183.01 L517.93,183.01 L517.96,183.01 L518.11,183 L518.29,183 L518.47,182.99 L518.65,182.99 L518.84,182.98 L519.02,182.98 L519.2,182.97 L519.38,182.97 L519.56,182.96 L519.74,182.96 L519.92,182.95 L520.11,182.94 L520.29,182.94 L520.47,182.93 L520.65,182.93 L520.83,182.92 L521.01,182.91 L521.19,182.91 L521.38,182.9 L521.56,182.89 L521.74,182.89 L521.92,182.88 L522.1,182.87 L522.28,182.86 L522.46,182.86 L522.64,182.85 L522.83,182.84 L523.01,182.83 L523.19,182.82 L523.37,182.82 L523.55,182.81 L523.73,182.8 L523.91,182.79 L524.1,182.78 L524.28,182.78 L524.46,182.77 L524.64,182.76 L524.82,182.75 L525,182.74 L525.18,182.73 L525.37,182.72 L525.55,182.71 L525.73,182.7 L525.91,182.69 L526.09,182.69 L526.27,182.68 L526.45,182.67 L526.64,182.66 L526.82,182.65 L527,182.64 L527.18,182.63 L527.36,182.62 L527.54,182.61 L527.72,182.6 L527.91,182.59 L528.09,182.58 L528.27,182.57 L528.45,182.56 L528.63,182.55 L528.81,182.54 L528.99,182.53 L529.17,182.52 L529.36,182.5 L529.54,182.49 L529.72,182.48 L529.72,182.48 L529.9,182.47 L530.08,182.46 L530.26,182.45 L530.44,182.44 L530.63,182.43 L530.81,182.42 L530.99,182.4 L531.17,182.39 L531.35,182.38 L531.53,182.37 L531.71,182.36 L531.9,182.34 L532.08,182.33 L532.26,182.32 L532.44,182.31 L532.62,182.29 L532.8,182.28 L532.98,182.27 L533.17,182.25 L533.35,182.24 L533.53,182.22 L533.71,182.21 L533.89,182.2 L534.07,182.18 L534.25,182.16 L534.44,182.15 L534.62,182.13 L534.8,182.12 L534.98,182.1 L535.16,182.08 L535.34,182.07 L535.52,182.05 L535.71,182.03 L535.89,182.01 L536.07,181.99 L536.25,181.98 L536.43,181.96 L536.61,181.94 L536.79,181.92 L536.97,181.9 L537.16,181.88 L537.34,181.85 L537.52,181.83 L537.56,181.83 L537.7,181.81 L537.88,181.79 L538.06,181.76 L538.24,181.74 L538.43,181.72 L538.61,181.69 L538.79,181.66 L538.97,181.64 L539.15,181.61 L539.33,181.58 L539.51,181.55 L539.7,181.52 L539.88,181.49 L540.06,181.46 L540.24,181.42 L540.42,181.39 L540.6,181.36 L540.78,181.32 L540.97,181.29 L541.15,181.25 L541.33,181.21 L541.51,181.17 L541.69,181.13 L541.87,181.09 L542.05,181.05 L542.24,181.01 L542.42,180.97 L542.6,180.92 L542.78,180.88 L542.96,180.83 L543.14,180.79 L543.32,180.74 L543.5,180.69 L543.69,180.64 L543.87,180.59 L544.05,180.54 L544.23,180.49 L544.41,180.43 L544.59,180.38 L544.77,180.32 L544.96,180.27 L545.14,180.21 L545.32,180.15 L545.4,180.12 L545.5,180.09 L545.68,180.03 L545.86,179.96 L546.04,179.89 L546.23,179.82 L546.41,179.75 L546.59,179.67 L546.77,179.59 L546.95,179.5 L547.13,179.41 L547.31,179.32 L547.5,179.23 L547.68,179.13 L547.86,179.03 L548.04,178.92 L548.22,178.82 L548.4,178.71 L548.58,178.59 L548.77,178.47 L548.95,178.35 L549.13,178.23 L549.31,178.1 L549.49,177.97 L549.67,177.84 L549.85,177.7 L550.04,177.56 L550.22,177.41 L550.4,177.27 L550.58,177.12 L550.76,176.96 L550.89,176.85 L550.94,176.8 L551.12,176.63 L551.3,176.46 L551.49,176.26 L551.67,176.06 L551.85,175.85 L552.03,175.63 L552.21,175.39 L552.39,175.15 L552.57,174.89 L552.76,174.63 L552.94,174.35 L553.12,174.07 L553.3,173.77 L553.48,173.47 L553.66,173.15 L553.84,172.83 L554.03,172.5 L554.21,172.15 L554.39,171.8 L554.57,171.44 L554.75,171.07 L554.81,170.96 L554.93,170.69 L555.11,170.29 L555.3,169.86 L555.48,169.41 L555.66,168.93 L555.84,168.43 L556.02,167.89 L556.2,167.33 L556.38,166.73 L556.57,166.09 L556.75,165.42 L556.93,164.71 L557.11,163.97 L557.16,163.75 L557.29,163.12 L557.47,162.04 L557.65,160.78 L557.83,159.42 L558.02,158.02 L558.2,156.63 L558.38,155.34 L558.56,154.2 L558.73,153.34 L558.74,153.27 L558.92,152.44 L559.1,151.59 L559.29,150.76 L559.47,149.98 L559.65,149.29 L559.83,148.72 L560.01,148.3 L560.19,148.07 L560.3,148.03 L560.37,148.15 L560.56,149.2 L560.74,150.91 L560.92,152.81 L561.1,154.41 L561.28,155.21 L561.32,155.24 L561.46,155.19 L561.64,155.03 L561.83,154.73 L562.01,154.27 L562.19,153.66 L562.37,152.87 L562.55,151.9 L562.73,150.74 L562.91,149.37 L563.1,147.78 L563.28,145.96 L563.46,143.91 L563.64,141.6 L563.82,139.03 L564,136.18 L564.18,133.05 L564.29,131 L564.37,128.41 L564.55,112.5 L564.69,94.32 L564.73,86.92 L564.88,48.67 L564.91,42.06 L565,24.89 L565.09,42.06 L565.12,48.67 L565.27,86.92 L565.31,94.32 L565.45,112.68 L565.63,128.69 L565.71,131 L565.82,132.41 L566,134.48 L566.18,136.27 L566.36,137.81 L566.54,139.11 L566.72,140.18 L566.9,141.04 L567.09,141.71 L567.27,142.2 L567.45,142.53 L567.63,142.73 L567.81,142.79 L567.82,142.79 L567.99,141.09 L568.17,136.6 L568.36,131 L568.54,126 L568.72,123.27 L568.76,123.14 L568.9,123.28 L569.08,123.87 L569.26,124.84 L569.44,126.11 L569.63,127.6 L569.81,129.23 L569.99,130.92 L570.17,132.59 L570.33,133.99 L570.35,134.15 L570.53,135.82 L570.71,137.7 L570.9,139.77 L571.08,141.97 L571.26,144.26 L571.44,146.59 L571.62,148.92 L571.8,151.2 L571.98,153.39 L572.17,155.45 L572.35,157.32 L572.53,158.96 L572.71,160.34 L572.84,161.13 L572.89,161.4 L573.07,162.33 L573.25,163.2 L573.43,164.01 L573.62,164.78 L573.8,165.49 L573.98,166.15 L574.16,166.77 L574.34,167.35 L574.52,167.9 L574.7,168.41 L574.89,168.89 L575.07,169.35 L575.19,169.65 L575.25,169.78 L575.43,170.2 L575.61,170.6 L575.79,171 L575.97,171.38 L576.16,171.76 L576.34,172.12 L576.52,172.47 L576.7,172.8 L576.88,173.13 L577.06,173.45 L577.24,173.75 L577.43,174.04 L577.61,174.32 L577.79,174.59 L577.97,174.85 L578.15,175.09 L578.33,175.32 L578.51,175.55 L578.7,175.76 L578.88,175.95 L579.06,176.14 L579.11,176.19 L579.24,176.32 L579.42,176.49 L579.6,176.66 L579.78,176.83 L579.96,176.99 L580.15,177.14 L580.33,177.3 L580.51,177.45 L580.69,177.59 L580.87,177.74 L581.05,177.87 L581.23,178.01 L581.42,178.14 L581.6,178.27 L581.78,178.39 L581.96,178.51 L582.14,178.63 L582.32,178.74 L582.5,178.85 L582.69,178.96 L582.87,179.06 L583.05,179.16 L583.23,179.25 L583.41,179.35 L583.59,179.43 L583.77,179.52 L583.96,179.6 L584.14,179.68 L584.32,179.75 L584.5,179.82 L584.6,179.86 L584.68,179.89 L584.86,179.96 L585.04,180.03 L585.23,180.09 L585.41,180.15 L585.59,180.22 L585.77,180.28 L585.95,180.34 L586.13,180.4 L586.31,180.46 L586.5,180.52 L586.68,180.57 L586.86,180.63 L587.04,180.68 L587.22,180.74 L587.4,180.79 L587.58,180.84 L587.76,180.89 L587.95,180.94 L588.13,180.99 L588.31,181.04 L588.49,181.08 L588.67,181.13 L588.85,181.17 L589.03,181.21 L589.22,181.26 L589.4,181.3 L589.58,181.34 L589.76,181.38 L589.94,181.41 L590.12,181.45 L590.3,181.49 L590.49,181.52 L590.67,181.56 L590.85,181.59 L591.03,181.62 L591.21,181.65 L591.39,181.68 L591.57,181.71 L591.76,181.73 L591.94,181.76 L592.12,181.79 L592.3,181.81 L592.44,181.83 L592.48,181.83 L592.66,181.86 L592.84,181.88 L593.03,181.9 L593.21,181.92 L593.39,181.94 L593.57,181.96 L593.75,181.98 L593.93,182 L594.11,182.02 L594.29,182.04 L594.48,182.05 L594.66,182.07 L594.84,182.09 L595.02,182.11 L595.2,182.12 L595.38,182.14 L595.56,182.15 L595.75,182.17 L595.93,182.19 L596.11,182.2 L596.29,182.21 L596.47,182.23 L596.65,182.24 L596.83,182.26 L597.02,182.27 L597.2,182.28 L597.38,182.3 L597.56,182.31 L597.74,182.32 L597.92,182.33 L598.1,182.35 L598.29,182.36 L598.47,182.37 L598.65,182.38 L598.83,182.39 L599.01,182.41 L599.19,182.42 L599.37,182.43 L599.56,182.44 L599.74,182.45 L599.92,182.46 L600.1,182.47 L600.28,182.48 L600.28,182.48 L600.46,182.49 L600.64,182.5 L600.83,182.52 L601.01,182.53 L601.19,182.54 L601.37,182.55 L601.55,182.56 L601.73,182.57 L601.91,182.58 L602.09,182.59 L602.28,182.6 L602.46,182.61 L602.64,182.62 L602.82,182.63 L603,182.64 L603.18,182.65 L603.36,182.66 L603.55,182.67 L603.73,182.68 L603.91,182.69 L604.09,182.69 L604.27,182.7 L604.45,182.71 L604.63,182.72 L604.82,182.73 L605,182.74 L605.18,182.75 L605.36,182.76 L605.54,182.77 L605.72,182.78 L605.9,182.78 L606.09,182.79 L606.27,182.8 L606.45,182.81 L606.63,182.82 L606.81,182.82 L606.99,182.83 L607.17,182.84 L607.36,182.85 L607.54,182.86 L607.72,182.86 L607.9,182.87 L608.08,182.88 L608.26,182.89 L608.44,182.89 L608.62,182.9 L608.81,182.91 L608.99,182.91 L609.17,182.92 L609.35,182.93 L609.53,182.93 L609.71,182.94 L609.89,182.94 L610.08,182.95 L610.26,182.96 L610.44,182.96 L610.62,182.97 L610.8,182.97 L610.98,182.98 L611.16,182.98 L611.35,182.99 L611.53,182.99 L611.71,183 L611.89,183 L612.04,183.01 L612.07,183.01 L612.25,183.01 L612.43,183.02 L612.62,183.02 L612.8,183.03 L612.98,183.03 L613.16,183.03 L613.34,183.04 L613.52,183.04 L613.7,183.05 L613.89,183.05 L614.07,183.05 L614.25,183.06 L614.43,183.06 L614.61,183.07 L614.79,183.07 L614.97,183.07 L615.16,183.08 L615.34,183.08 L615.52,183.09 L615.7,183.09 L615.88,183.09 L616.06,183.1 L616.24,183.1 L616.42,183.1 L616.61,183.11 L616.79,183.11 L616.97,183.12 L617.15,183.12 L617.33,183.12 L617.51,183.13 L617.69,183.13 L617.88,183.13 L618.06,183.14 L618.24,183.14 L618.42,183.14 L618.6,183.15 L618.78,183.15 L618.96,183.15 L619.15,183.15 L619.33,183.16 L619.51,183.16 L619.69,183.16 L619.87,183.17 L620.05,183.17 L620.23,183.17 L620.42,183.18 L620.6,183.18 L620.78,183.18 L620.96,183.18 L621.14,183.19 L621.32,183.19 L621.5,183.19 L621.69,183.2 L621.87,183.2 L622.05,183.2 L622.23,183.2 L622.41,183.21 L622.59,183.21 L622.77,183.21 L622.95,183.21 L623.14,183.22 L623.32,183.22 L623.5,183.22 L623.68,183.22 L623.86,183.23 L624.04,183.23 L624.22,183.23 L624.41,183.23 L624.59,183.23 L624.77,183.24 L624.95,183.24 L625.13,183.24 L625.31,183.24 L625.49,183.25 L625.68,183.25 L625.86,183.25 L626.04,183.25 L626.22,183.25 L626.4,183.26 L626.58,183.26 L626.76,183.26 L626.95,183.26 L627.13,183.26 L627.31,183.26 L627.49,183.27 L627.67,183.27 L627.72,183.27 L627.85,183.27 L628.03,183.27 L628.22,183.27 L628.4,183.28 L628.58,183.28 L628.76,183.28 L628.94,183.28 L629.12,183.28 L629.3,183.28 L629.49,183.29 L629.67,183.29 L629.85,183.29 L630.03,183.29 L630.21,183.29 L630.39,183.3 L630.57,183.3 L630.75,183.3 L630.94,183.3 L631.12,183.3 L631.3,183.3 L631.48,183.31 L631.66,183.31 L631.84,183.31 L632.02,183.31 L632.21,183.31 L632.39,183.31 L632.57,183.32 L632.75,183.32 L632.93,183.32 L633.11,183.32 L633.29,183.32 L633.48,183.32 L633.66,183.33 L633.84,183.33 L634.02,183.33 L634.2,183.33 L634.38,183.33 L634.56,183.33 L634.75,183.33 L634.93,183.34 L635.11,183.34 L635.29,183.34 L635.47,183.34 L635.65,183.34 L635.83,183.34 L636.02,183.35 L636.2,183.35 L636.38,183.35 L636.56,183.35 L636.74,183.35 L636.92,183.35 L637.1,183.35 L637.28,183.36 L637.47,183.36 L637.65,183.36 L637.83,183.36 L638.01,183.36 L638.19,183.36 L638.37,183.36 L638.55,183.36 L638.74,183.37 L638.92,183.37 L639.1,183.37 L639.28,183.37 L639.46,183.37 L639.64,183.37 L639.82,183.37 L640.01,183.37 L640.19,183.37 L640.37,183.38 L640.55,183.38 L640.73,183.38 L640.91,183.38 L641.09,183.38 L641.28,183.38 L641.46,183.38 L641.64,183.38 L641.82,183.38 L642,183.38 L642.18,183.39 L642.36,183.39 L642.55,183.39 L642.73,183.39 L642.91,183.39 L643.09,183.39 L643.27,183.39 L643.45,183.39 L643.63,183.39 L643.82,183.39 L644,183.39 L644.18,183.39 L644.36,183.39 L644.54,183.4 L644.72,183.4 L644.9,183.4 L645.08,183.4 L645.27,183.4 L645.45,183.4 L645.63,183.4 L645.81,183.4 L645.99,183.4 L646.17,183.4 L646.35,183.4 L646.54,183.4" fill="none" stroke="#0000ff" stroke-width="1.1" stroke-linejoin="round"/>
<rect x="28.5" y="244.5" width="400" height="170" fill="none" stroke="#707070" stroke-width="1"/>
<line x1="28" y1="244.5" x2="28" y2="415" stroke="#c4c4c4" stroke-width="1.5"/>
<line x1="24.9" y1="408.2" x2="27.7" y2="408.2" stroke="#707070" stroke-width="0.8"/>
<line x1="24.9" y1="368.8" x2="27.7" y2="368.8" stroke="#707070" stroke-width="0.8"/>
<line x1="24.9" y1="329.4" x2="27.7" y2="329.4" stroke="#707070" stroke-width="0.8"/>
<line x1="24.9" y1="290" x2="27.7" y2="290" stroke="#707070" stroke-width="0.8"/>
<line x1="24.9" y1="250.6" x2="27.7" y2="250.6" stroke="#707070" stroke-width="0.8"/>
<text x="21.2" y="408.2" font-size="10.2" text-anchor="middle" fill="#000" stroke="#000" stroke-width="0.22" font-family='"Liberation Sans", sans-serif' transform="rotate(-90 21.2 408.2)">−1.0</text>
<text x="21.2" y="368.8" font-size="10.2" text-anchor="middle" fill="#000" stroke="#000" stroke-width="0.22" font-family='"Liberation Sans", sans-serif' transform="rotate(-90 21.2 368.8)">−0.5</text>
<text x="21.2" y="329.4" font-size="10.2" text-anchor="middle" fill="#000" stroke="#000" stroke-width="0.22" font-family='"Liberation Sans", sans-serif' transform="rotate(-90 21.2 329.4)">0.0</text>
<text x="21.2" y="290" font-size="10.2" text-anchor="middle" fill="#000" stroke="#000" stroke-width="0.22" font-family='"Liberation Sans", sans-serif' transform="rotate(-90 21.2 290)">0.5</text>
<text x="21.2" y="250.6" font-size="10.2" text-anchor="middle" fill="#000" stroke="#000" stroke-width="0.22" font-family='"Liberation Sans", sans-serif' transform="rotate(-90 21.2 250.6)">1.0</text>
<text x="8.4" y="329.3" font-size="10.100000000000001" text-anchor="middle" fill="#000" stroke="#000" stroke-width="0.22" font-family='"Liberation Serif", serif' transform="rotate(-90 8.4 329.3)">Δβ</text>
<text x="228.3" y="436.8" font-size="9.8" text-anchor="middle" fill="#000" stroke="#000" stroke-width="0.22" font-family='"Liberation Sans", sans-serif'>Genomic Position</text>
<text x="32.3" y="267.3" font-size="18.8" text-anchor="start" fill="#000" stroke="#000" stroke-width="0.22" font-family='"Liberation Sans", sans-serif'>d</text>
<g fill="#000"><circle cx="64.47" cy="312.78" r="1.55"/><circle cx="90.38" cy="330.08" r="1.55"/><circle cx="46.38" cy="331.22" r="1.55"/><circle cx="141.54" cy="327.33" r="1.55"/><circle cx="62.83" cy="332.82" r="1.55"/><circle cx="126.97" cy="330.94" r="1.55"/><circle cx="82.22" cy="325.4" r="1.55"/><circle cx="51.01" cy="321.57" r="1.55"/><circle cx="88.38" cy="325.45" r="1.55"/><circle cx="104.66" cy="321.69" r="1.55"/><circle cx="151.56" cy="325.42" r="1.55"/><circle cx="51.88" cy="331.71" r="1.55"/><circle cx="52.56" cy="329.62" r="1.55"/><circle cx="130.33" cy="330.51" r="1.55"/><circle cx="130.6" cy="335.84" r="1.55"/><circle cx="63.23" cy="322.85" r="1.55"/><circle cx="124.15" cy="319.01" r="1.55"/><circle cx="124.34" cy="333.62" r="1.55"/><circle cx="88.24" cy="326.03" r="1.55"/><circle cx="115.48" cy="325.59" r="1.55"/><circle cx="114.36" cy="323.24" r="1.55"/><circle cx="147.58" cy="332.62" r="1.55"/><circle cx="111.06" cy="332.39" r="1.55"/><circle cx="47.09" cy="329.1" r="1.55"/><circle cx="93.9" cy="331.19" r="1.55"/><circle cx="84.7" cy="314.49" r="1.55"/><circle cx="130.74" cy="326.06" r="1.55"/><circle cx="114.99" cy="327.08" r="1.55"/><circle cx="65.85" cy="332.03" r="1.55"/><circle cx="79.44" cy="337.49" r="1.55"/><circle cx="116.14" cy="333.62" r="1.55"/><circle cx="136.25" cy="331.9" r="1.55"/><circle cx="92.33" cy="333.55" r="1.55"/><circle cx="82.12" cy="329.92" r="1.55"/><circle cx="150.19" cy="324.85" r="1.55"/><circle cx="112.72" cy="334.55" r="1.55"/><circle cx="102.64" cy="336.26" r="1.55"/><circle cx="101.05" cy="331.73" r="1.55"/><circle cx="123.18" cy="318.71" r="1.55"/><circle cx="93.36" cy="328.94" r="1.55"/><circle cx="149.89" cy="338.13" r="1.55"/><circle cx="143.47" cy="324.81" r="1.55"/><circle cx="145.52" cy="326.41" r="1.55"/><circle cx="109.31" cy="329.18" r="1.55"/><circle cx="103.2" cy="327.92" r="1.55"/><circle cx="99.59" cy="312.02" r="1.55"/><circle cx="60.65" cy="330.71" r="1.55"/><circle cx="104.82" cy="329.38" r="1.55"/><circle cx="114.99" cy="321.77" r="1.55"/><circle cx="50.95" cy="333.31" r="1.55"/><circle cx="151.82" cy="329.98" r="1.55"/><circle cx="96.65" cy="321.72" r="1.55"/><circle cx="83.43" cy="342.95" r="1.55"/><circle cx="118.61" cy="324.46" r="1.55"/><circle cx="83.94" cy="326.42" r="1.55"/><circle cx="132.96" cy="326.41" r="1.55"/><circle cx="64" cy="324.48" r="1.55"/><circle cx="63.45" cy="331.85" r="1.55"/><circle cx="117.74" cy="326.44" r="1.55"/><circle cx="79.6" cy="327.22" r="1.55"/><circle cx="48" cy="328.22" r="1.55"/><circle cx="119.3" cy="331.96" r="1.55"/><circle cx="110.2" cy="328.45" r="1.55"/><circle cx="138.03" cy="324.56" r="1.55"/><circle cx="60.19" cy="331.71" r="1.55"/><circle cx="128.43" cy="325.57" r="1.55"/><circle cx="103.79" cy="341.94" r="1.55"/><circle cx="143.11" cy="322.02" r="1.55"/><circle cx="70.3" cy="335.04" r="1.55"/><circle cx="85.43" cy="328.9" r="1.55"/><circle cx="95.82" cy="344.19" r="1.55"/><circle cx="93.34" cy="344.28" r="1.55"/><circle cx="74.59" cy="330.56" r="1.55"/><circle cx="146.25" cy="321.76" r="1.55"/><circle cx="109.07" cy="336.03" r="1.55"/><circle cx="80.69" cy="330.49" r="1.55"/><circle cx="75.67" cy="334.99" r="1.55"/><circle cx="134.48" cy="333.95" r="1.55"/><circle cx="46.98" cy="321.79" r="1.55"/><circle cx="98.41" cy="328.72" r="1.55"/><circle cx="135.64" cy="329.94" r="1.55"/><circle cx="137.87" cy="345.19" r="1.55"/><circle cx="81.58" cy="331.92" r="1.55"/><circle cx="126.57" cy="327.34" r="1.55"/><circle cx="100.85" cy="325.62" r="1.55"/><circle cx="152.33" cy="331.76" r="1.55"/><circle cx="67.84" cy="325.77" r="1.55"/><circle cx="77.66" cy="326.31" r="1.55"/><circle cx="52.84" cy="324" r="1.55"/><circle cx="48.57" cy="327.17" r="1.55"/><circle cx="115.54" cy="328.49" r="1.55"/><circle cx="75.22" cy="329.65" r="1.55"/><circle cx="116.77" cy="336.85" r="1.55"/><circle cx="52.1" cy="328.41" r="1.55"/><circle cx="130.49" cy="321.4" r="1.55"/><circle cx="53.21" cy="332.35" r="1.55"/><circle cx="142.77" cy="330.03" r="1.55"/><circle cx="127.34" cy="321.75" r="1.55"/><circle cx="93.38" cy="329.63" r="1.55"/><circle cx="95.34" cy="328.58" r="1.55"/><circle cx="129.27" cy="323.45" r="1.55"/><circle cx="76.46" cy="326.73" r="1.55"/><circle cx="113.11" cy="333.05" r="1.55"/><circle cx="74.4" cy="331.08" r="1.55"/><circle cx="55.63" cy="330.12" r="1.55"/><circle cx="148.29" cy="325.39" r="1.55"/><circle cx="102.86" cy="328.55" r="1.55"/><circle cx="126.49" cy="320.26" r="1.55"/><circle cx="122.93" cy="327.99" r="1.55"/><circle cx="101.56" cy="332.1" r="1.55"/><circle cx="57.69" cy="334.05" r="1.55"/><circle cx="146.52" cy="333.17" r="1.55"/><circle cx="120.67" cy="327.5" r="1.55"/><circle cx="111.77" cy="329.93" r="1.55"/><circle cx="109.41" cy="323.52" r="1.55"/><circle cx="56.56" cy="323.37" r="1.55"/><circle cx="76.51" cy="332.22" r="1.55"/><circle cx="104.56" cy="337.95" r="1.55"/><circle cx="126.36" cy="321.96" r="1.55"/><circle cx="62.03" cy="337.37" r="1.55"/><circle cx="57.44" cy="326.23" r="1.55"/><circle cx="112.45" cy="328.05" r="1.55"/><circle cx="120.34" cy="321.81" r="1.55"/><circle cx="95.63" cy="330.13" r="1.55"/><circle cx="77.93" cy="338.02" r="1.55"/><circle cx="140.27" cy="313.84" r="1.55"/><circle cx="139.43" cy="330.31" r="1.55"/><circle cx="124.94" cy="322.85" r="1.55"/><circle cx="62.12" cy="334.26" r="1.55"/><circle cx="109.42" cy="326.03" r="1.55"/><circle cx="88.41" cy="332.75" r="1.55"/><circle cx="65.8" cy="327.65" r="1.55"/><circle cx="100.75" cy="322.86" r="1.55"/><circle cx="84.93" cy="325.86" r="1.55"/><circle cx="75.21" cy="316.14" r="1.55"/><circle cx="135.93" cy="335.1" r="1.55"/><circle cx="121.22" cy="335.51" r="1.55"/><circle cx="102.97" cy="309.7" r="1.55"/><circle cx="45.73" cy="333.19" r="1.55"/><circle cx="83.26" cy="330.26" r="1.55"/><circle cx="101.46" cy="327.23" r="1.55"/><circle cx="90.3" cy="325.44" r="1.55"/><circle cx="146.44" cy="323.14" r="1.55"/><circle cx="143.89" cy="324.08" r="1.55"/><circle cx="75.17" cy="336.48" r="1.55"/><circle cx="71.73" cy="335.07" r="1.55"/><circle cx="146.3" cy="318.63" r="1.55"/><circle cx="59.15" cy="330.57" r="1.55"/><circle cx="104.5" cy="330.65" r="1.55"/><circle cx="147.85" cy="325.98" r="1.55"/><circle cx="59.14" cy="316.71" r="1.55"/><circle cx="52.45" cy="329.98" r="1.55"/><circle cx="131.59" cy="323.59" r="1.55"/><circle cx="50.37" cy="326.05" r="1.55"/><circle cx="60.32" cy="325.78" r="1.55"/><circle cx="48.09" cy="328.23" r="1.55"/><circle cx="66.81" cy="332.43" r="1.55"/><circle cx="91.37" cy="332.94" r="1.55"/><circle cx="75.27" cy="329.03" r="1.55"/><circle cx="93.15" cy="344.58" r="1.55"/><circle cx="44.4" cy="315.52" r="1.55"/><circle cx="43.74" cy="308.29" r="1.55"/><circle cx="46.54" cy="305.8" r="1.55"/><circle cx="48.8" cy="321.44" r="1.55"/><circle cx="51.29" cy="319.68" r="1.55"/><circle cx="48.56" cy="310.39" r="1.55"/><circle cx="43.48" cy="321.83" r="1.55"/><circle cx="46.55" cy="318.4" r="1.55"/><circle cx="45.5" cy="320.14" r="1.55"/><circle cx="45.93" cy="306.12" r="1.55"/><circle cx="46.86" cy="316.44" r="1.55"/><circle cx="44.88" cy="321.72" r="1.55"/><circle cx="44.95" cy="308.01" r="1.55"/><circle cx="50.92" cy="322.1" r="1.55"/><circle cx="46.27" cy="314.03" r="1.55"/><circle cx="47.76" cy="321.49" r="1.55"/><circle cx="43.09" cy="309.77" r="1.55"/><circle cx="43.73" cy="317.63" r="1.55"/><circle cx="171.79" cy="283.78" r="1.55"/><circle cx="177.34" cy="289.85" r="1.55"/><circle cx="174.74" cy="290.17" r="1.55"/><circle cx="166.49" cy="287.12" r="1.55"/><circle cx="165.39" cy="284.75" r="1.55"/><circle cx="159.22" cy="294.33" r="1.55"/><circle cx="174.84" cy="293.29" r="1.55"/><circle cx="167.97" cy="291.43" r="1.55"/><circle cx="177.2" cy="288.69" r="1.55"/><circle cx="172.73" cy="288" r="1.55"/><circle cx="158.03" cy="290.84" r="1.55"/><circle cx="156.08" cy="282.63" r="1.55"/><circle cx="165.18" cy="288.21" r="1.55"/><circle cx="160.52" cy="290.74" r="1.55"/><circle cx="157.28" cy="289.63" r="1.55"/><circle cx="173.99" cy="285.44" r="1.55"/><circle cx="174.64" cy="289.24" r="1.55"/><circle cx="157.9" cy="289.96" r="1.55"/><circle cx="170.17" cy="284.22" r="1.55"/><circle cx="176.89" cy="286.99" r="1.55"/><circle cx="158.7" cy="288.93" r="1.55"/><circle cx="162.54" cy="289.61" r="1.55"/><circle cx="154.08" cy="284.65" r="1.55"/><circle cx="174.51" cy="292.91" r="1.55"/><circle cx="173.76" cy="295.61" r="1.55"/><circle cx="158.21" cy="288.33" r="1.55"/><circle cx="167.96" cy="296.69" r="1.55"/><circle cx="154.38" cy="285.06" r="1.55"/><circle cx="174.33" cy="289.32" r="1.55"/><circle cx="158.39" cy="296.3" r="1.55"/><circle cx="160.56" cy="286.95" r="1.55"/><circle cx="175.77" cy="284.98" r="1.55"/><circle cx="158.76" cy="278.34" r="1.55"/><circle cx="174.35" cy="295.46" r="1.55"/><circle cx="159.37" cy="289.33" r="1.55"/><circle cx="158.7" cy="289.02" r="1.55"/><circle cx="173.77" cy="287.42" r="1.55"/><circle cx="158.54" cy="290.38" r="1.55"/><circle cx="172.37" cy="291.73" r="1.55"/><circle cx="156.65" cy="281.48" r="1.55"/><circle cx="173.62" cy="274.55" r="1.55"/><circle cx="165.36" cy="287.63" r="1.55"/><circle cx="165.43" cy="292.62" r="1.55"/><circle cx="161.56" cy="287.08" r="1.55"/><circle cx="164.27" cy="286.6" r="1.55"/><circle cx="170.25" cy="295.23" r="1.55"/><circle cx="176.09" cy="283.77" r="1.55"/><circle cx="175.59" cy="292.45" r="1.55"/><circle cx="166.99" cy="271.67" r="1.55"/><circle cx="173.58" cy="290.38" r="1.55"/><circle cx="164.68" cy="289.3" r="1.55"/><circle cx="174.52" cy="287.7" r="1.55"/><circle cx="174" cy="285.52" r="1.55"/><circle cx="161.89" cy="280.46" r="1.55"/><circle cx="175.62" cy="296.07" r="1.55"/><circle cx="293.43" cy="330.01" r="1.55"/><circle cx="285.15" cy="324.05" r="1.55"/><circle cx="257.7" cy="329.67" r="1.55"/><circle cx="263.19" cy="326.66" r="1.55"/><circle cx="258.65" cy="317.87" r="1.55"/><circle cx="222.31" cy="329.01" r="1.55"/><circle cx="250.46" cy="330.45" r="1.55"/><circle cx="185.93" cy="323.65" r="1.55"/><circle cx="246.06" cy="320.49" r="1.55"/><circle cx="286.19" cy="327.75" r="1.55"/><circle cx="252.4" cy="320.29" r="1.55"/><circle cx="224.28" cy="328.46" r="1.55"/><circle cx="206.18" cy="325.5" r="1.55"/><circle cx="235.93" cy="327.64" r="1.55"/><circle cx="210.34" cy="331.4" r="1.55"/><circle cx="234.39" cy="333.52" r="1.55"/><circle cx="258.94" cy="328.78" r="1.55"/><circle cx="266.01" cy="325.36" r="1.55"/><circle cx="231.13" cy="325.36" r="1.55"/><circle cx="181.76" cy="325.41" r="1.55"/><circle cx="258.57" cy="328.66" r="1.55"/><circle cx="273.4" cy="330.8" r="1.55"/><circle cx="246.79" cy="325.39" r="1.55"/><circle cx="180.88" cy="323.41" r="1.55"/><circle cx="273.11" cy="333.56" r="1.55"/><circle cx="238.84" cy="331.06" r="1.55"/><circle cx="238.9" cy="323.59" r="1.55"/><circle cx="269.95" cy="329.15" r="1.55"/><circle cx="264.78" cy="322.28" r="1.55"/><circle cx="289.92" cy="333.94" r="1.55"/><circle cx="212.94" cy="334.55" r="1.55"/><circle cx="197.75" cy="334.71" r="1.55"/><circle cx="219.49" cy="327.18" r="1.55"/><circle cx="248.91" cy="320.94" r="1.55"/><circle cx="265.91" cy="330.99" r="1.55"/><circle cx="244.7" cy="334.89" r="1.55"/><circle cx="272.07" cy="330.42" r="1.55"/><circle cx="192.94" cy="326.66" r="1.55"/><circle cx="201.82" cy="329.82" r="1.55"/><circle cx="250.21" cy="323.79" r="1.55"/><circle cx="235.26" cy="326.71" r="1.55"/><circle cx="225.13" cy="325.55" r="1.55"/><circle cx="182.5" cy="327.13" r="1.55"/><circle cx="282.55" cy="336.65" r="1.55"/><circle cx="178.66" cy="318.6" r="1.55"/><circle cx="234.61" cy="329.23" r="1.55"/><circle cx="195.88" cy="322.39" r="1.55"/><circle cx="225.4" cy="327.66" r="1.55"/><circle cx="238.02" cy="324.4" r="1.55"/><circle cx="264.08" cy="343.56" r="1.55"/><circle cx="239.3" cy="329.57" r="1.55"/><circle cx="214.5" cy="323.75" r="1.55"/><circle cx="253.23" cy="326.76" r="1.55"/><circle cx="228.38" cy="322.97" r="1.55"/><circle cx="263.33" cy="332.97" r="1.55"/><circle cx="193.53" cy="330.18" r="1.55"/><circle cx="225.09" cy="324.82" r="1.55"/><circle cx="220.54" cy="323.11" r="1.55"/><circle cx="272.62" cy="328.62" r="1.55"/><circle cx="205.11" cy="323.64" r="1.55"/><circle cx="263.21" cy="324.66" r="1.55"/><circle cx="203.49" cy="322.46" r="1.55"/><circle cx="201.28" cy="326.12" r="1.55"/><circle cx="211.74" cy="323.76" r="1.55"/><circle cx="219.42" cy="328.64" r="1.55"/><circle cx="213.43" cy="329.53" r="1.55"/><circle cx="226.18" cy="325.91" r="1.55"/><circle cx="273.85" cy="334.25" r="1.55"/><circle cx="194.06" cy="322.96" r="1.55"/><circle cx="190.87" cy="325.48" r="1.55"/><circle cx="222.75" cy="323.65" r="1.55"/><circle cx="245.17" cy="331.18" r="1.55"/><circle cx="259.3" cy="326.44" r="1.55"/><circle cx="192.47" cy="330.3" r="1.55"/><circle cx="233.94" cy="333.36" r="1.55"/><circle cx="204.97" cy="327.42" r="1.55"/><circle cx="293.59" cy="334.33" r="1.55"/><circle cx="261.42" cy="332.5" r="1.55"/><circle cx="292.4" cy="337.28" r="1.55"/><circle cx="246.08" cy="331.34" r="1.55"/><circle cx="191.46" cy="334.46" r="1.55"/><circle cx="203.83" cy="329" r="1.55"/><circle cx="224.3" cy="329.19" r="1.55"/><circle cx="183.19" cy="326.29" r="1.55"/><circle cx="259.29" cy="325.91" r="1.55"/><circle cx="255.31" cy="325.66" r="1.55"/><circle cx="268.14" cy="326.66" r="1.55"/><circle cx="283.68" cy="327.74" r="1.55"/><circle cx="188.46" cy="335.88" r="1.55"/><circle cx="252.06" cy="334.86" r="1.55"/><circle cx="204.55" cy="324.81" r="1.55"/><circle cx="246.73" cy="322.34" r="1.55"/><circle cx="252.33" cy="329.11" r="1.55"/><circle cx="190.85" cy="334.77" r="1.55"/><circle cx="253.61" cy="329.12" r="1.55"/><circle cx="263.4" cy="326.05" r="1.55"/><circle cx="238.23" cy="324.96" r="1.55"/><circle cx="198.67" cy="307.61" r="1.55"/><circle cx="269.49" cy="325.68" r="1.55"/><circle cx="261.49" cy="326.57" r="1.55"/><circle cx="271.2" cy="333.75" r="1.55"/><circle cx="225.61" cy="322.42" r="1.55"/><circle cx="234.91" cy="322.43" r="1.55"/><circle cx="180.77" cy="329.8" r="1.55"/><circle cx="189.55" cy="328.45" r="1.55"/><circle cx="181.64" cy="333.16" r="1.55"/><circle cx="211.38" cy="324.13" r="1.55"/><circle cx="185.83" cy="333.49" r="1.55"/><circle cx="204.26" cy="325.54" r="1.55"/><circle cx="260.52" cy="326.34" r="1.55"/><circle cx="283.85" cy="327.14" r="1.55"/><circle cx="207.36" cy="328.98" r="1.55"/><circle cx="212.8" cy="330.57" r="1.55"/><circle cx="242.76" cy="327.07" r="1.55"/><circle cx="239.32" cy="334.79" r="1.55"/><circle cx="235.62" cy="327.48" r="1.55"/><circle cx="226.93" cy="330.07" r="1.55"/><circle cx="234.29" cy="325.64" r="1.55"/><circle cx="239.5" cy="328.53" r="1.55"/><circle cx="185.93" cy="334.63" r="1.55"/><circle cx="185.7" cy="333.37" r="1.55"/><circle cx="203.71" cy="326.83" r="1.55"/><circle cx="231.97" cy="331.79" r="1.55"/><circle cx="200.95" cy="336.58" r="1.55"/><circle cx="215.35" cy="335.23" r="1.55"/><circle cx="235.55" cy="323.29" r="1.55"/><circle cx="183.66" cy="329.9" r="1.55"/><circle cx="288.94" cy="331.31" r="1.55"/><circle cx="189.33" cy="329.91" r="1.55"/><circle cx="242.65" cy="332.92" r="1.55"/><circle cx="238.43" cy="335.06" r="1.55"/><circle cx="237.76" cy="325.52" r="1.55"/><circle cx="242.53" cy="327.67" r="1.55"/><circle cx="185.95" cy="325.79" r="1.55"/><circle cx="217.7" cy="328.84" r="1.55"/><circle cx="278.6" cy="335.68" r="1.55"/><circle cx="278.86" cy="324.18" r="1.55"/><circle cx="257.59" cy="322.44" r="1.55"/><circle cx="279.03" cy="324.58" r="1.55"/><circle cx="196.74" cy="326.18" r="1.55"/><circle cx="224.95" cy="326.55" r="1.55"/><circle cx="270.51" cy="327.45" r="1.55"/><circle cx="254.36" cy="316.37" r="1.55"/><circle cx="238.67" cy="335.19" r="1.55"/><circle cx="280.22" cy="328.39" r="1.55"/><circle cx="246.67" cy="326.51" r="1.55"/><circle cx="225.86" cy="330.79" r="1.55"/><circle cx="267.23" cy="327.76" r="1.55"/><circle cx="284.15" cy="325.57" r="1.55"/><circle cx="261.72" cy="325.71" r="1.55"/><circle cx="261.48" cy="324.61" r="1.55"/><circle cx="252.4" cy="331.4" r="1.55"/><circle cx="251.58" cy="331.89" r="1.55"/><circle cx="247.45" cy="328.24" r="1.55"/><circle cx="234.03" cy="326.87" r="1.55"/><circle cx="228.17" cy="329.87" r="1.55"/><circle cx="263.49" cy="331.85" r="1.55"/><circle cx="206.33" cy="341.66" r="1.55"/><circle cx="187.73" cy="329.28" r="1.55"/><circle cx="278.7" cy="325.89" r="1.55"/><circle cx="210.27" cy="328.3" r="1.55"/><circle cx="225.45" cy="325.44" r="1.55"/><circle cx="268.41" cy="328.66" r="1.55"/><circle cx="187.22" cy="330.72" r="1.55"/><circle cx="254.93" cy="318.21" r="1.55"/><circle cx="217.93" cy="319.9" r="1.55"/><circle cx="241.43" cy="324.63" r="1.55"/><circle cx="233.03" cy="328.63" r="1.55"/><circle cx="238" cy="326.48" r="1.55"/><circle cx="289.88" cy="324.34" r="1.55"/><circle cx="246.39" cy="329.99" r="1.55"/><circle cx="228.94" cy="330.59" r="1.55"/><circle cx="194.16" cy="325.49" r="1.55"/><circle cx="215.61" cy="321.44" r="1.55"/><circle cx="272.42" cy="331.53" r="1.55"/><circle cx="184.21" cy="328.93" r="1.55"/><circle cx="181.13" cy="331.69" r="1.55"/><circle cx="243.62" cy="330.51" r="1.55"/><circle cx="220.73" cy="329.36" r="1.55"/><circle cx="279.73" cy="324.07" r="1.55"/><circle cx="206.03" cy="341.73" r="1.55"/><circle cx="180.16" cy="326.92" r="1.55"/><circle cx="223.3" cy="324.9" r="1.55"/><circle cx="245.16" cy="332.18" r="1.55"/><circle cx="249.79" cy="321.22" r="1.55"/><circle cx="183.41" cy="324" r="1.55"/><circle cx="213.7" cy="332.58" r="1.55"/><circle cx="264.37" cy="324.77" r="1.55"/><circle cx="287.18" cy="324.89" r="1.55"/><circle cx="275.2" cy="330.15" r="1.55"/><circle cx="280.66" cy="328.04" r="1.55"/><circle cx="222.84" cy="333.8" r="1.55"/><circle cx="251.84" cy="332.86" r="1.55"/><circle cx="220.81" cy="325.67" r="1.55"/><circle cx="259.18" cy="330.09" r="1.55"/><circle cx="203.58" cy="323.34" r="1.55"/><circle cx="290.44" cy="330.5" r="1.55"/><circle cx="206.57" cy="323.71" r="1.55"/><circle cx="239.22" cy="326.53" r="1.55"/><circle cx="199.24" cy="332.13" r="1.55"/><circle cx="282.64" cy="327.87" r="1.55"/><circle cx="197.48" cy="327.11" r="1.55"/><circle cx="220.57" cy="331.07" r="1.55"/><circle cx="267.89" cy="323.06" r="1.55"/><circle cx="272.12" cy="330.68" r="1.55"/><circle cx="256.1" cy="324.55" r="1.55"/><circle cx="202.32" cy="336.13" r="1.55"/><circle cx="209.54" cy="324.39" r="1.55"/><circle cx="251.45" cy="323.54" r="1.55"/><circle cx="271.87" cy="327.06" r="1.55"/><circle cx="279.57" cy="334.8" r="1.55"/><circle cx="289.68" cy="331.78" r="1.55"/><circle cx="229.21" cy="327.28" r="1.55"/><circle cx="196.7" cy="335.79" r="1.55"/><circle cx="197.48" cy="332.01" r="1.55"/><circle cx="222.43" cy="334.6" r="1.55"/><circle cx="283.94" cy="324.57" r="1.55"/><circle cx="233.19" cy="326.06" r="1.55"/><circle cx="223.02" cy="323.24" r="1.55"/><circle cx="180.24" cy="329.86" r="1.55"/><circle cx="222.7" cy="326.27" r="1.55"/><circle cx="254.49" cy="345.98" r="1.55"/><circle cx="290.18" cy="323.1" r="1.55"/><circle cx="281.15" cy="331.44" r="1.55"/><circle cx="244.1" cy="328.4" r="1.55"/><circle cx="208.88" cy="328.63" r="1.55"/><circle cx="205.03" cy="323.17" r="1.55"/><circle cx="282.54" cy="332.33" r="1.55"/><circle cx="246.85" cy="326.89" r="1.55"/><circle cx="281.9" cy="326.08" r="1.55"/><circle cx="243.13" cy="333.86" r="1.55"/><circle cx="187.03" cy="329.46" r="1.55"/><circle cx="279.16" cy="348" r="1.55"/><circle cx="179.79" cy="329.26" r="1.55"/><circle cx="196.62" cy="326.12" r="1.55"/><circle cx="181.67" cy="337.44" r="1.55"/><circle cx="272.67" cy="332.74" r="1.55"/><circle cx="234.22" cy="326.17" r="1.55"/><circle cx="265.83" cy="324.11" r="1.55"/><circle cx="229.01" cy="326.11" r="1.55"/><circle cx="197" cy="327.93" r="1.55"/><circle cx="265.55" cy="328.72" r="1.55"/><circle cx="264.27" cy="328.39" r="1.55"/><circle cx="227.61" cy="326.67" r="1.55"/><circle cx="254.73" cy="328.46" r="1.55"/><circle cx="228.22" cy="328.75" r="1.55"/><circle cx="288.74" cy="326.35" r="1.55"/><circle cx="244.77" cy="331.69" r="1.55"/><circle cx="251.69" cy="323.84" r="1.55"/><circle cx="185.53" cy="336.3" r="1.55"/><circle cx="194.76" cy="323.97" r="1.55"/><circle cx="263.07" cy="329.24" r="1.55"/><circle cx="271.6" cy="323.43" r="1.55"/><circle cx="209.73" cy="342.65" r="1.55"/><circle cx="274.13" cy="330.84" r="1.55"/><circle cx="198.13" cy="322.01" r="1.55"/><circle cx="263.96" cy="326.74" r="1.55"/><circle cx="203.93" cy="323.81" r="1.55"/><circle cx="235.06" cy="331.57" r="1.55"/><circle cx="182.43" cy="332.03" r="1.55"/><circle cx="223.22" cy="327.08" r="1.55"/><circle cx="238.45" cy="331.65" r="1.55"/><circle cx="183.91" cy="322.79" r="1.55"/><circle cx="266.51" cy="328.88" r="1.55"/><circle cx="194.07" cy="326.29" r="1.55"/><circle cx="207.31" cy="323.25" r="1.55"/><circle cx="245.02" cy="328.32" r="1.55"/><circle cx="222.59" cy="323.34" r="1.55"/><circle cx="208.89" cy="330.46" r="1.55"/><circle cx="243.56" cy="333.52" r="1.55"/><circle cx="225.85" cy="323.72" r="1.55"/><circle cx="210.48" cy="330.68" r="1.55"/><circle cx="197.59" cy="330.57" r="1.55"/><circle cx="266.05" cy="332.22" r="1.55"/><circle cx="235.55" cy="326.36" r="1.55"/><circle cx="248.98" cy="330.17" r="1.55"/><circle cx="290.09" cy="329.55" r="1.55"/><circle cx="280.67" cy="323.61" r="1.55"/><circle cx="231.7" cy="335.8" r="1.55"/><circle cx="268.41" cy="326.29" r="1.55"/><circle cx="268.76" cy="324.55" r="1.55"/><circle cx="177.77" cy="331.57" r="1.55"/><circle cx="265.93" cy="326.59" r="1.55"/><circle cx="262.09" cy="321.19" r="1.55"/><circle cx="248.13" cy="330.58" r="1.55"/><circle cx="209.57" cy="336.4" r="1.55"/><circle cx="212.69" cy="333.51" r="1.55"/><circle cx="200.61" cy="338.76" r="1.55"/><circle cx="229.72" cy="322.34" r="1.55"/><circle cx="231.59" cy="327.54" r="1.55"/><circle cx="218.06" cy="327.36" r="1.55"/><circle cx="220.47" cy="327.92" r="1.55"/><circle cx="255.44" cy="325.56" r="1.55"/><circle cx="251.03" cy="327.32" r="1.55"/><circle cx="269.98" cy="314.06" r="1.55"/><circle cx="183.71" cy="321.53" r="1.55"/><circle cx="270.04" cy="322.8" r="1.55"/><circle cx="286.35" cy="327.42" r="1.55"/><circle cx="208.37" cy="327.17" r="1.55"/><circle cx="288.01" cy="327.01" r="1.55"/><circle cx="203.13" cy="325.18" r="1.55"/><circle cx="240.76" cy="318.69" r="1.55"/><circle cx="259.88" cy="311.16" r="1.55"/><circle cx="229.9" cy="331.3" r="1.55"/><circle cx="272.09" cy="330.84" r="1.55"/><circle cx="266.17" cy="336.12" r="1.55"/><circle cx="288.68" cy="326.92" r="1.55"/><circle cx="187.52" cy="328.27" r="1.55"/><circle cx="223.5" cy="324.45" r="1.55"/><circle cx="225.18" cy="331.15" r="1.55"/><circle cx="246.27" cy="329.5" r="1.55"/><circle cx="262.79" cy="327.14" r="1.55"/><circle cx="204.88" cy="331.46" r="1.55"/><circle cx="230.69" cy="332.86" r="1.55"/><circle cx="259.54" cy="334.62" r="1.55"/><circle cx="238.66" cy="323.37" r="1.55"/><circle cx="195.17" cy="333.7" r="1.55"/><circle cx="220.01" cy="324.94" r="1.55"/><circle cx="190.09" cy="326.49" r="1.55"/><circle cx="287.34" cy="328.5" r="1.55"/><circle cx="183.33" cy="322.51" r="1.55"/><circle cx="218.7" cy="322.48" r="1.55"/><circle cx="267.17" cy="322.91" r="1.55"/><circle cx="202.37" cy="335.83" r="1.55"/><circle cx="281.14" cy="335.99" r="1.55"/><circle cx="282.12" cy="333.43" r="1.55"/><circle cx="223.6" cy="331.46" r="1.55"/><circle cx="293.57" cy="330.81" r="1.55"/><circle cx="246.91" cy="331.65" r="1.55"/><circle cx="256.84" cy="324.33" r="1.55"/><circle cx="278.75" cy="322.89" r="1.55"/><circle cx="292.02" cy="325.61" r="1.55"/><circle cx="228.23" cy="322.69" r="1.55"/><circle cx="191.9" cy="328.18" r="1.55"/><circle cx="240.01" cy="321.12" r="1.55"/><circle cx="269.42" cy="332.66" r="1.55"/><circle cx="245.35" cy="326.55" r="1.55"/><circle cx="258.77" cy="334.94" r="1.55"/><circle cx="291.26" cy="330.76" r="1.55"/><circle cx="221.49" cy="330.11" r="1.55"/><circle cx="221.03" cy="326.05" r="1.55"/><circle cx="262.68" cy="327.41" r="1.55"/><circle cx="224.21" cy="325.28" r="1.55"/><circle cx="214.54" cy="329.95" r="1.55"/><circle cx="223.15" cy="328.24" r="1.55"/><circle cx="180.28" cy="330.07" r="1.55"/><circle cx="281.53" cy="317.84" r="1.55"/><circle cx="218.31" cy="324.7" r="1.55"/><circle cx="278.45" cy="327.36" r="1.55"/><circle cx="258.15" cy="325.29" r="1.55"/><circle cx="278.4" cy="332.22" r="1.55"/><circle cx="216.75" cy="329.6" r="1.55"/><circle cx="234.66" cy="316.36" r="1.55"/><circle cx="196.43" cy="326.15" r="1.55"/><circle cx="213.27" cy="328.08" r="1.55"/><circle cx="179.51" cy="330.22" r="1.55"/><circle cx="204.42" cy="323.89" r="1.55"/><circle cx="235.42" cy="328.76" r="1.55"/><circle cx="250.32" cy="324.47" r="1.55"/><circle cx="221.26" cy="330.14" r="1.55"/><circle cx="307.77" cy="379.23" r="1.55"/><circle cx="305.92" cy="382.46" r="1.55"/><circle cx="308.46" cy="386.25" r="1.55"/><circle cx="306.69" cy="383.21" r="1.55"/><circle cx="308.93" cy="383.39" r="1.55"/><circle cx="307.79" cy="389.94" r="1.55"/><circle cx="303.05" cy="389.23" r="1.55"/><circle cx="309.56" cy="381.22" r="1.55"/><circle cx="303.7" cy="383.05" r="1.55"/><circle cx="308.07" cy="383.4" r="1.55"/><circle cx="307.1" cy="387.49" r="1.55"/><circle cx="306.93" cy="385.68" r="1.55"/><circle cx="305.8" cy="380.89" r="1.55"/><circle cx="309.31" cy="385.79" r="1.55"/><circle cx="307.08" cy="378.97" r="1.55"/><circle cx="309.1" cy="386.61" r="1.55"/><circle cx="308.51" cy="376.43" r="1.55"/><circle cx="309.68" cy="396.32" r="1.55"/><circle cx="297.38" cy="384.44" r="1.55"/><circle cx="295.32" cy="383.57" r="1.55"/><circle cx="301.6" cy="388.3" r="1.55"/><circle cx="300.24" cy="385.39" r="1.55"/><circle cx="298.12" cy="386.89" r="1.55"/><circle cx="302.8" cy="383.14" r="1.55"/><circle cx="301.34" cy="387.63" r="1.55"/><circle cx="369.43" cy="334.27" r="1.55"/><circle cx="359.31" cy="336" r="1.55"/><circle cx="322.49" cy="330.94" r="1.55"/><circle cx="392.18" cy="315.43" r="1.55"/><circle cx="365.77" cy="330.98" r="1.55"/><circle cx="344.42" cy="332.02" r="1.55"/><circle cx="406.87" cy="323.07" r="1.55"/><circle cx="404.88" cy="323.24" r="1.55"/><circle cx="392.69" cy="328" r="1.55"/><circle cx="381.32" cy="331.47" r="1.55"/><circle cx="328.24" cy="333.32" r="1.55"/><circle cx="344.47" cy="329.81" r="1.55"/><circle cx="343.07" cy="327.98" r="1.55"/><circle cx="388.27" cy="328.93" r="1.55"/><circle cx="334.9" cy="328.25" r="1.55"/><circle cx="365.68" cy="325.71" r="1.55"/><circle cx="403.95" cy="321.46" r="1.55"/><circle cx="405.22" cy="331.29" r="1.55"/><circle cx="402.57" cy="330.19" r="1.55"/><circle cx="405.21" cy="333.25" r="1.55"/><circle cx="336.9" cy="337.74" r="1.55"/><circle cx="318.47" cy="318.46" r="1.55"/><circle cx="357.89" cy="334.37" r="1.55"/><circle cx="397.72" cy="327.28" r="1.55"/><circle cx="394" cy="333.8" r="1.55"/><circle cx="327" cy="325.88" r="1.55"/><circle cx="356.84" cy="324" r="1.55"/><circle cx="311.99" cy="331.21" r="1.55"/><circle cx="409.85" cy="329.71" r="1.55"/><circle cx="374.25" cy="327.82" r="1.55"/><circle cx="346.88" cy="335.49" r="1.55"/><circle cx="319.55" cy="317.8" r="1.55"/><circle cx="399.63" cy="328.34" r="1.55"/><circle cx="316.2" cy="328.93" r="1.55"/><circle cx="361.69" cy="328.31" r="1.55"/><circle cx="353.29" cy="325.32" r="1.55"/><circle cx="363.84" cy="326.74" r="1.55"/><circle cx="393.21" cy="332.46" r="1.55"/><circle cx="324.55" cy="326.42" r="1.55"/><circle cx="313.31" cy="333.29" r="1.55"/><circle cx="390.85" cy="328.24" r="1.55"/><circle cx="383.05" cy="330.6" r="1.55"/><circle cx="390.47" cy="331.08" r="1.55"/><circle cx="328.6" cy="327.92" r="1.55"/><circle cx="405.71" cy="322.84" r="1.55"/><circle cx="349.35" cy="335.18" r="1.55"/><circle cx="374.93" cy="334.02" r="1.55"/><circle cx="324.83" cy="327.43" r="1.55"/><circle cx="377.57" cy="327.3" r="1.55"/><circle cx="333.68" cy="322.64" r="1.55"/><circle cx="350.43" cy="325.74" r="1.55"/><circle cx="389.2" cy="324.61" r="1.55"/><circle cx="398.82" cy="326.84" r="1.55"/><circle cx="411.56" cy="327.69" r="1.55"/><circle cx="359.5" cy="330.4" r="1.55"/><circle cx="351.17" cy="333.81" r="1.55"/><circle cx="399.63" cy="324.87" r="1.55"/><circle cx="366.01" cy="331.88" r="1.55"/><circle cx="334.76" cy="321.3" r="1.55"/><circle cx="357.2" cy="326.17" r="1.55"/><circle cx="367.49" cy="328.9" r="1.55"/><circle cx="385.29" cy="321.37" r="1.55"/><circle cx="388.89" cy="331.12" r="1.55"/><circle cx="381.87" cy="329.91" r="1.55"/><circle cx="311.82" cy="330.57" r="1.55"/><circle cx="313.62" cy="323.92" r="1.55"/><circle cx="354.84" cy="332.88" r="1.55"/><circle cx="332.67" cy="343.36" r="1.55"/><circle cx="404.18" cy="336.07" r="1.55"/><circle cx="338.44" cy="330.49" r="1.55"/><circle cx="355.5" cy="322" r="1.55"/><circle cx="311.87" cy="334.31" r="1.55"/><circle cx="323.09" cy="327.09" r="1.55"/><circle cx="346.13" cy="334.66" r="1.55"/><circle cx="397.71" cy="333.3" r="1.55"/><circle cx="404.39" cy="333.31" r="1.55"/><circle cx="355.69" cy="327.86" r="1.55"/><circle cx="330.63" cy="326.42" r="1.55"/><circle cx="394.23" cy="325.55" r="1.55"/><circle cx="377.43" cy="313.97" r="1.55"/><circle cx="348.58" cy="326.79" r="1.55"/><circle cx="393.34" cy="319.99" r="1.55"/><circle cx="409.49" cy="328.21" r="1.55"/><circle cx="357.28" cy="330.71" r="1.55"/><circle cx="351.07" cy="321.54" r="1.55"/><circle cx="412.2" cy="328.83" r="1.55"/><circle cx="338.63" cy="333.99" r="1.55"/><circle cx="394.09" cy="328.27" r="1.55"/><circle cx="367.5" cy="330.13" r="1.55"/><circle cx="315.75" cy="327.54" r="1.55"/><circle cx="387.99" cy="328.91" r="1.55"/><circle cx="347.43" cy="336.53" r="1.55"/><circle cx="328.61" cy="323.29" r="1.55"/><circle cx="396.06" cy="326.86" r="1.55"/><circle cx="362.9" cy="328.19" r="1.55"/><circle cx="350.24" cy="325.31" r="1.55"/><circle cx="353.81" cy="331.73" r="1.55"/><circle cx="366.51" cy="326.24" r="1.55"/><circle cx="337.55" cy="332.94" r="1.55"/><circle cx="337.34" cy="323.75" r="1.55"/><circle cx="321.02" cy="327.17" r="1.55"/><circle cx="404.36" cy="329.2" r="1.55"/><circle cx="354.86" cy="321.84" r="1.55"/><circle cx="329.83" cy="333.19" r="1.55"/><circle cx="323.55" cy="329.33" r="1.55"/><circle cx="357.44" cy="329.96" r="1.55"/><circle cx="350.17" cy="327.95" r="1.55"/><circle cx="366.12" cy="325.92" r="1.55"/><circle cx="359.12" cy="333.36" r="1.55"/><circle cx="344.44" cy="328.02" r="1.55"/><circle cx="386.14" cy="329.92" r="1.55"/><circle cx="359.38" cy="331.16" r="1.55"/><circle cx="410.95" cy="332.9" r="1.55"/><circle cx="312.92" cy="328.62" r="1.55"/><circle cx="381.16" cy="335.99" r="1.55"/><circle cx="377.85" cy="338.71" r="1.55"/><circle cx="327.51" cy="325.76" r="1.55"/><circle cx="350.38" cy="327.34" r="1.55"/><circle cx="333.17" cy="328.92" r="1.55"/><circle cx="397.69" cy="328.42" r="1.55"/><circle cx="354.75" cy="327.32" r="1.55"/><circle cx="373.93" cy="330.61" r="1.55"/><circle cx="324.27" cy="329.01" r="1.55"/><circle cx="358.26" cy="331.19" r="1.55"/><circle cx="344.33" cy="329.58" r="1.55"/><circle cx="380.27" cy="321.27" r="1.55"/><circle cx="382.81" cy="323.64" r="1.55"/><circle cx="392.32" cy="332.93" r="1.55"/><circle cx="391.78" cy="337.96" r="1.55"/><circle cx="376.72" cy="328.34" r="1.55"/><circle cx="393.71" cy="330.84" r="1.55"/><circle cx="343.69" cy="329.98" r="1.55"/><circle cx="327.82" cy="325.61" r="1.55"/><circle cx="380.43" cy="330.9" r="1.55"/><circle cx="323.73" cy="329.4" r="1.55"/><circle cx="323.19" cy="329.72" r="1.55"/><circle cx="372.62" cy="323.25" r="1.55"/><circle cx="384.21" cy="327.02" r="1.55"/><circle cx="380.35" cy="346.48" r="1.55"/><circle cx="376.65" cy="333.46" r="1.55"/><circle cx="366.09" cy="327.77" r="1.55"/><circle cx="346.43" cy="324.56" r="1.55"/><circle cx="320.89" cy="331.08" r="1.55"/><circle cx="345.29" cy="332.17" r="1.55"/><circle cx="334.15" cy="325.55" r="1.55"/><circle cx="392.27" cy="326.78" r="1.55"/><circle cx="371.01" cy="329.78" r="1.55"/><circle cx="386.05" cy="323.51" r="1.55"/><circle cx="349.93" cy="335.36" r="1.55"/><circle cx="343.27" cy="323.71" r="1.55"/><circle cx="316.52" cy="328.51" r="1.55"/><circle cx="399.94" cy="332.45" r="1.55"/><circle cx="354.97" cy="324.98" r="1.55"/><circle cx="401.29" cy="330.44" r="1.55"/><circle cx="352.69" cy="324.32" r="1.55"/><circle cx="382.51" cy="331.7" r="1.55"/><circle cx="342.83" cy="325.52" r="1.55"/><circle cx="352.27" cy="325.46" r="1.55"/><circle cx="371.45" cy="318.94" r="1.55"/><circle cx="338.98" cy="325.64" r="1.55"/><circle cx="330.54" cy="323.56" r="1.55"/><circle cx="410.3" cy="330.06" r="1.55"/><circle cx="347.8" cy="325.23" r="1.55"/><circle cx="368.16" cy="339.08" r="1.55"/><circle cx="383.41" cy="331.96" r="1.55"/><circle cx="313.43" cy="338" r="1.55"/><circle cx="311.11" cy="330.27" r="1.55"/><circle cx="374.04" cy="328.96" r="1.55"/><circle cx="340.57" cy="331.9" r="1.55"/><circle cx="343.08" cy="324.53" r="1.55"/><circle cx="325.89" cy="331.29" r="1.55"/><circle cx="381.15" cy="335.07" r="1.55"/><circle cx="375.71" cy="329.52" r="1.55"/><circle cx="338.37" cy="329.29" r="1.55"/><circle cx="413.15" cy="324.95" r="1.55"/><circle cx="375.6" cy="329.46" r="1.55"/><circle cx="330.43" cy="328.29" r="1.55"/><circle cx="380.67" cy="333.07" r="1.55"/><circle cx="340.86" cy="329.57" r="1.55"/><circle cx="338.49" cy="336.28" r="1.55"/><circle cx="380.68" cy="324.17" r="1.55"/><circle cx="367.26" cy="327.45" r="1.55"/><circle cx="319.46" cy="331.85" r="1.55"/><circle cx="341.42" cy="323.27" r="1.55"/><circle cx="310.8" cy="317.5" r="1.55"/><circle cx="353.85" cy="340.71" r="1.55"/><circle cx="354.19" cy="324.52" r="1.55"/><circle cx="369.56" cy="330.45" r="1.55"/><circle cx="394.05" cy="324.09" r="1.55"/><circle cx="324.68" cy="330.04" r="1.55"/><circle cx="322.18" cy="330.82" r="1.55"/><circle cx="336.93" cy="331.12" r="1.55"/><circle cx="393.68" cy="333.91" r="1.55"/><circle cx="331.88" cy="335.22" r="1.55"/><circle cx="388.81" cy="327.9" r="1.55"/><circle cx="333.75" cy="333.81" r="1.55"/><circle cx="338.7" cy="331.33" r="1.55"/><circle cx="355.52" cy="339.49" r="1.55"/><circle cx="393.86" cy="322.82" r="1.55"/><circle cx="312.16" cy="329.24" r="1.55"/><circle cx="372.23" cy="332.48" r="1.55"/><circle cx="401.32" cy="327.86" r="1.55"/><circle cx="405.33" cy="327.23" r="1.55"/><circle cx="333.76" cy="328.03" r="1.55"/><circle cx="348.41" cy="326.93" r="1.55"/><circle cx="379.02" cy="326.69" r="1.55"/><circle cx="387.17" cy="328.26" r="1.55"/><circle cx="362.58" cy="332.78" r="1.55"/><circle cx="338.41" cy="323.76" r="1.55"/><circle cx="355.82" cy="335.16" r="1.55"/><circle cx="321.19" cy="333.43" r="1.55"/><circle cx="316.39" cy="321.91" r="1.55"/><circle cx="335.35" cy="335.55" r="1.55"/><circle cx="344.78" cy="325.81" r="1.55"/><circle cx="312.19" cy="334.16" r="1.55"/><circle cx="314.2" cy="330.71" r="1.55"/><circle cx="326.7" cy="327.42" r="1.55"/><circle cx="364.62" cy="332.89" r="1.55"/><circle cx="346.22" cy="325.68" r="1.55"/><circle cx="368.71" cy="317.36" r="1.55"/><circle cx="376.45" cy="332.04" r="1.55"/><circle cx="384.49" cy="330.7" r="1.55"/><circle cx="381.44" cy="344.82" r="1.55"/><circle cx="384.94" cy="328.77" r="1.55"/><circle cx="385.44" cy="327.45" r="1.55"/><circle cx="339.5" cy="329.46" r="1.55"/><circle cx="394.38" cy="333.61" r="1.55"/><circle cx="366.87" cy="333.59" r="1.55"/><circle cx="351.21" cy="331.93" r="1.55"/><circle cx="341.87" cy="335.92" r="1.55"/><circle cx="378.75" cy="342.73" r="1.55"/><circle cx="384.59" cy="338" r="1.55"/><circle cx="378.35" cy="350.08" r="1.55"/><circle cx="376.84" cy="351.1" r="1.55"/><circle cx="382.91" cy="341.19" r="1.55"/><circle cx="379.4" cy="342.82" r="1.55"/><circle cx="374.84" cy="352.16" r="1.55"/><circle cx="376.64" cy="351.63" r="1.55"/><circle cx="404.31" cy="313.24" r="1.55"/><circle cx="395.19" cy="318.61" r="1.55"/><circle cx="407.11" cy="309.74" r="1.55"/><circle cx="401.58" cy="316.6" r="1.55"/><circle cx="402.53" cy="319.02" r="1.55"/><circle cx="405.08" cy="311.42" r="1.55"/><circle cx="397.43" cy="312.41" r="1.55"/><circle cx="407.85" cy="317.92" r="1.55"/><circle cx="408.43" cy="312.42" r="1.55"/><circle cx="397.68" cy="320.01" r="1.55"/><circle cx="402.74" cy="320.61" r="1.55"/><circle cx="399.04" cy="323.29" r="1.55"/><circle cx="407.26" cy="321.51" r="1.55"/><circle cx="392.26" cy="314.88" r="1.55"/><circle cx="49.2" cy="300.24" r="1.55"/><circle cx="154.5" cy="307.34" r="1.55"/><circle cx="193.5" cy="311.28" r="1.55"/><circle cx="255" cy="342.01" r="1.55"/><circle cx="262" cy="347.52" r="1.55"/><circle cx="259" cy="343.58" r="1.55"/><circle cx="299" cy="364.86" r="1.55"/><circle cx="305" cy="376.68" r="1.55"/><circle cx="401.5" cy="305.76" r="1.55"/><circle cx="404.5" cy="304.97" r="1.55"/><circle cx="403" cy="308.12" r="1.55"/><circle cx="381" cy="353.04" r="1.55"/><circle cx="323" cy="342.8" r="1.55"/><circle cx="333" cy="341.22" r="1.55"/><circle cx="120" cy="319.16" r="1.55"/><circle cx="118" cy="342.8" r="1.55"/><circle cx="91" cy="341.22" r="1.55"/><circle cx="50" cy="339.64" r="1.55"/><circle cx="60" cy="342.01" r="1.55"/><circle cx="76" cy="338.86" r="1.55"/></g>
<line x1="42.1" y1="329.4" x2="153.3" y2="329.4" stroke="#ff0000" stroke-width="1.5"/>
<line x1="153.3" y1="290" x2="177.6" y2="290" stroke="#ff0000" stroke-width="1.5"/>
<line x1="176.8" y1="329.4" x2="294.3" y2="329.4" stroke="#ff0000" stroke-width="1.5"/>
<line x1="293.6" y1="384.56" x2="310.2" y2="384.56" stroke="#ff0000" stroke-width="1.5"/>
<line x1="309.1" y1="329.4" x2="413.9" y2="329.4" stroke="#ff0000" stroke-width="1.5"/>
<line x1="120.6" y1="282.4" x2="120.6" y2="392.4" stroke="#ff0000" stroke-width="1.4"/>
<line x1="116.4" y1="282.4" x2="124.8" y2="282.4" stroke="#ff0000" stroke-width="1.4"/>
<line x1="116.4" y1="392.4" x2="124.8" y2="392.4" stroke="#ff0000" stroke-width="1.4"/>
<line x1="200.3" y1="269.8" x2="200.3" y2="303.2" stroke="#000" stroke-width="1.4"/>
<line x1="196.5" y1="269.8" x2="204.1" y2="269.8" stroke="#000" stroke-width="1.4"/>
<line x1="196.5" y1="303.2" x2="204.1" y2="303.2" stroke="#000" stroke-width="1.4"/>
<text x="87.4" y="310.7" font-size="23" font-family='"Liberation Serif", serif' font-style="italic" textLength="13.6" lengthAdjust="spacingAndGlyphs">σ</text>
<text x="101.6" y="314" font-size="16.5" font-family='"Liberation Serif", serif' font-style="italic" textLength="10.7" lengthAdjust="spacingAndGlyphs">μ</text>
<text x="216.6" y="291.1" font-size="27.5" font-family='"Liberation Serif", serif' font-style="italic" textLength="16.4" lengthAdjust="spacingAndGlyphs">σ</text>
<text x="233.6" y="295.3" font-size="21" font-family='"Liberation Serif", serif' font-style="italic" textLength="8.4" lengthAdjust="spacingAndGlyphs">ϵ</text>
<text x="479.6" y="273.4" font-size="23" font-family='"Liberation Serif", serif' font-style="italic" textLength="20.6" lengthAdjust="spacingAndGlyphs">m</text>
<text x="502.8" y="276.2" font-size="16" text-anchor="middle" font-family='"Liberation Serif", serif' font-style="italic">i</text>
<line x1="510.9" y1="268.7" x2="558.1" y2="268.7" stroke="#ee5a4a" stroke-width="1.5"/>
<circle cx="583.8" cy="269.2" r="2.9" fill="#000"/>
<text x="601.6" y="273.4" font-size="28" font-family='"Liberation Serif", serif' font-style="italic" textLength="18.2" lengthAdjust="spacingAndGlyphs">x</text>
<text x="623.1" y="278" font-size="17" text-anchor="middle" font-family='"Liberation Serif", serif' font-style="italic">i</text>
<text x="483" y="314.1" font-size="23.5" font-family='"Liberation Serif", serif' font-style="italic" textLength="12.6" lengthAdjust="spacingAndGlyphs">x</text>
<text x="498.6" y="317.6" font-size="16" text-anchor="middle" font-family='"Liberation Serif", serif' font-style="italic">i</text>
<text x="510.6" y="314.1" font-size="23.5" font-family='"Liberation Serif", serif' textLength="16.7" lengthAdjust="spacingAndGlyphs">=</text>
<text x="535.1" y="314.1" font-size="23.5" font-family='"Liberation Serif", serif' font-style="italic" textLength="21.8" lengthAdjust="spacingAndGlyphs">m</text>
<text x="559.4" y="317.6" font-size="16" text-anchor="middle" font-family='"Liberation Serif", serif' font-style="italic">i</text>
<text x="569.2" y="314.1" font-size="23.5" font-family='"Liberation Serif", serif' textLength="16.4" lengthAdjust="spacingAndGlyphs">+</text>
<text x="591.7" y="314.1" font-size="23.5" font-family='"Liberation Serif", serif' font-style="italic" textLength="8.6" lengthAdjust="spacingAndGlyphs">ϵ</text>
<text x="604.35" y="317.6" font-size="16" text-anchor="middle" font-family='"Liberation Serif", serif' font-style="italic">i</text>
<text x="435.5" y="350.5" font-size="14.5" font-family='"Liberation Serif", serif' font-style="italic" textLength="13.7" lengthAdjust="spacingAndGlyphs">m</text>
<text x="450.8" y="352.9" font-size="10" text-anchor="middle" font-family='"Liberation Serif", serif' font-style="italic">i</text>
<text x="457.3" y="350.5" font-size="14.5" font-family='"Liberation Serif", serif' textLength="10.9" lengthAdjust="spacingAndGlyphs">=</text>
<text x="473.4" y="350.5" font-size="14.5" font-family='"Liberation Serif", serif' textLength="4.8" lengthAdjust="spacingAndGlyphs">(</text>
<text x="479.5" y="350.5" font-size="14.5" font-family='"Liberation Serif", serif' textLength="6.1" lengthAdjust="spacingAndGlyphs">1</text>
<text x="490.1" y="350.5" font-size="14.5" font-family='"Liberation Serif", serif' textLength="10.3" lengthAdjust="spacingAndGlyphs">−</text>
<text x="503.8" y="350.5" font-size="14.5" font-family='"Liberation Serif", serif' font-style="italic" textLength="8" lengthAdjust="spacingAndGlyphs">z</text>
<text x="513.5" y="352.9" font-size="10" text-anchor="middle" font-family='"Liberation Serif", serif' font-style="italic">i</text>
<text x="515.4" y="352.9" font-size="10" font-family='"Liberation Serif", serif' textLength="14.4" lengthAdjust="spacingAndGlyphs">−1</text>
<text x="530.4" y="350.5" font-size="14.5" font-family='"Liberation Serif", serif' textLength="5.1" lengthAdjust="spacingAndGlyphs">)</text>
<circle cx="541.3" cy="346.6" r="1.0" fill="#000"/>
<text x="548" y="350.5" font-size="14.5" font-family='"Liberation Serif", serif' font-style="italic" textLength="13.4" lengthAdjust="spacingAndGlyphs">m</text>
<text x="562.9" y="352.9" font-size="10" text-anchor="middle" font-family='"Liberation Serif", serif' font-style="italic">i</text>
<text x="564.8" y="352.9" font-size="10" font-family='"Liberation Serif", serif' textLength="14.6" lengthAdjust="spacingAndGlyphs">−1</text>
<text x="583.2" y="350.5" font-size="14.5" font-family='"Liberation Serif", serif' textLength="9.9" lengthAdjust="spacingAndGlyphs">+</text>
<text x="599.1" y="350.5" font-size="14.5" font-family='"Liberation Serif", serif' font-style="italic" textLength="6.3" lengthAdjust="spacingAndGlyphs">z</text>
<text x="606.9" y="352.9" font-size="10" text-anchor="middle" font-family='"Liberation Serif", serif' font-style="italic">i</text>
<text x="608.8" y="352.9" font-size="10" font-family='"Liberation Serif", serif' textLength="15" lengthAdjust="spacingAndGlyphs">−1</text>
<circle cx="630.0" cy="346.6" r="1.0" fill="#000"/>
<text x="637.2" y="350.5" font-size="14.5" font-family='"Liberation Serif", serif' textLength="5" lengthAdjust="spacingAndGlyphs">(</text>
<text x="642.5" y="350.5" font-size="14.5" font-family='"Liberation Serif", serif' font-style="italic" textLength="6.7" lengthAdjust="spacingAndGlyphs">μ</text>
<text x="655.2" y="350.5" font-size="14.5" font-family='"Liberation Serif", serif' textLength="8.8" lengthAdjust="spacingAndGlyphs">+</text>
<text x="668.9" y="350.5" font-size="14.5" font-family='"Liberation Serif", serif' font-style="italic" textLength="6.8" lengthAdjust="spacingAndGlyphs">δ</text>
<text x="677.7" y="352.9" font-size="10" text-anchor="middle" font-family='"Liberation Serif", serif' font-style="italic">i</text>
<text x="680.6" y="350.5" font-size="14.5" font-family='"Liberation Serif", serif' textLength="4.6" lengthAdjust="spacingAndGlyphs">)</text>
<text x="483" y="388" font-size="14.5" font-family='"Liberation Serif", serif' font-style="italic" textLength="11.6" lengthAdjust="spacingAndGlyphs">P</text>
<text x="494.4" y="388" font-size="14.5" font-family='"Liberation Serif", serif' font-style="italic" textLength="6.3" lengthAdjust="spacingAndGlyphs">r</text>
<text x="501.8" y="388" font-size="14.5" font-family='"Liberation Serif", serif' textLength="4.5" lengthAdjust="spacingAndGlyphs">(</text>
<text x="508.5" y="388" font-size="14.5" font-family='"Liberation Serif", serif' font-style="italic" textLength="7.6" lengthAdjust="spacingAndGlyphs">z</text>
<text x="517.5" y="390.3" font-size="10" text-anchor="middle" font-family='"Liberation Serif", serif' font-style="italic">i</text>
<text x="524.9" y="388" font-size="14.5" font-family='"Liberation Serif", serif' textLength="11.2" lengthAdjust="spacingAndGlyphs">=</text>
<text x="542.2" y="388" font-size="14.5" font-family='"Liberation Serif", serif' textLength="6.6" lengthAdjust="spacingAndGlyphs">1</text>
<text x="550" y="388" font-size="14.5" font-family='"Liberation Serif", serif' textLength="3.9" lengthAdjust="spacingAndGlyphs">)</text>
<text x="558.6" y="388" font-size="14.5" font-family='"Liberation Serif", serif' textLength="11.6" lengthAdjust="spacingAndGlyphs">=</text>
<text x="574.9" y="388" font-size="14.5" font-family='"Liberation Serif", serif' font-style="italic" textLength="7.6" lengthAdjust="spacingAndGlyphs">η</text>
<text x="584.1" y="388" font-size="14.5" font-family='"Liberation Serif", serif' textLength="3.9" lengthAdjust="spacingAndGlyphs">(</text>
<text x="589.2" y="388" font-size="14.5" font-family='"Liberation Serif", serif' font-style="italic" textLength="8.6" lengthAdjust="spacingAndGlyphs">d</text>
<text x="599.75" y="390.3" font-size="10" text-anchor="middle" font-family='"Liberation Serif", serif' font-style="italic">i</text>
<text x="603.1" y="388" font-size="14.5" font-family='"Liberation Serif", serif' textLength="4.5" lengthAdjust="spacingAndGlyphs">)</text>
<rect x="171.3" y="445.7" width="118.4" height="17.4" fill="#fff" stroke="#707070" stroke-width="1"/>
<rect x="178" y="452" width="5.6" height="4.8" fill="#ff0000" stroke="#444" stroke-width="0.5"/>
<text x="190" y="457.1" font-size="7.2" text-anchor="start" fill="#111" stroke="#111" stroke-width="0.16" font-family='"Liberation Sans", sans-serif'>UD5</text>
<rect x="216.2" y="452" width="5.6" height="4.8" fill="#00ff00" stroke="#444" stroke-width="0.5"/>
<text x="228.6" y="457.1" font-size="7.2" text-anchor="start" fill="#111" stroke="#111" stroke-width="0.16" font-family='"Liberation Sans", sans-serif'>UD10</text>
<rect x="254.2" y="452" width="5.6" height="4.8" fill="#0000ff" stroke="#444" stroke-width="0.5"/>
<text x="266.5" y="457.1" font-size="7.2" text-anchor="start" fill="#111" stroke="#111" stroke-width="0.16" font-family='"Liberation Sans", sans-serif'>AML2</text>
<rect x="28.5" y="465.5" width="175" height="170" fill="none" stroke="#707070" stroke-width="1"/>
<line x1="34.5" y1="636.5" x2="34.5" y2="638.5" stroke="#707070" stroke-width="0.8"/>
<line x1="75.12" y1="636.5" x2="75.12" y2="638.5" stroke="#707070" stroke-width="0.8"/>
<line x1="115.75" y1="636.5" x2="115.75" y2="638.5" stroke="#707070" stroke-width="0.8"/>
<line x1="156.38" y1="636.5" x2="156.38" y2="638.5" stroke="#707070" stroke-width="0.8"/>
<line x1="197" y1="636.5" x2="197" y2="638.5" stroke="#707070" stroke-width="0.8"/>
<text x="34.5" y="646.2" font-size="10.2" text-anchor="middle" fill="#000" stroke="#000" stroke-width="0.22" font-family='"Liberation Sans", sans-serif'>−1.0</text>
<text x="75.12" y="646.2" font-size="10.2" text-anchor="middle" fill="#000" stroke="#000" stroke-width="0.22" font-family='"Liberation Sans", sans-serif'>−0.5</text>
<text x="115.75" y="646.2" font-size="10.2" text-anchor="middle" fill="#000" stroke="#000" stroke-width="0.22" font-family='"Liberation Sans", sans-serif'>0.0</text>
<text x="156.38" y="646.2" font-size="10.2" text-anchor="middle" fill="#000" stroke="#000" stroke-width="0.22" font-family='"Liberation Sans", sans-serif'>0.5</text>
<text x="197" y="646.2" font-size="10.2" text-anchor="middle" fill="#000" stroke="#000" stroke-width="0.22" font-family='"Liberation Sans", sans-serif'>1.0</text>
<line x1="28" y1="465.5" x2="28" y2="636" stroke="#c4c4c4" stroke-width="1.5"/>
<line x1="24.9" y1="629.3" x2="27.7" y2="629.3" stroke="#707070" stroke-width="0.8"/>
<line x1="24.9" y1="602.98" x2="27.7" y2="602.98" stroke="#707070" stroke-width="0.8"/>
<line x1="24.9" y1="576.66" x2="27.7" y2="576.66" stroke="#707070" stroke-width="0.8"/>
<line x1="24.9" y1="550.34" x2="27.7" y2="550.34" stroke="#707070" stroke-width="0.8"/>
<line x1="24.9" y1="524.02" x2="27.7" y2="524.02" stroke="#707070" stroke-width="0.8"/>
<line x1="24.9" y1="497.7" x2="27.7" y2="497.7" stroke="#707070" stroke-width="0.8"/>
<line x1="24.9" y1="471.38" x2="27.7" y2="471.38" stroke="#707070" stroke-width="0.8"/>
<text x="21.7" y="629.3" font-size="10.2" text-anchor="middle" fill="#000" stroke="#000" stroke-width="0.22" font-family='"Liberation Sans", sans-serif' transform="rotate(-90 21.7 629.3)">0</text>
<text x="21.7" y="602.98" font-size="10.2" text-anchor="middle" fill="#000" stroke="#000" stroke-width="0.22" font-family='"Liberation Sans", sans-serif' transform="rotate(-90 21.7 602.98)">1</text>
<text x="21.7" y="576.66" font-size="10.2" text-anchor="middle" fill="#000" stroke="#000" stroke-width="0.22" font-family='"Liberation Sans", sans-serif' transform="rotate(-90 21.7 576.66)">2</text>
<text x="21.7" y="550.34" font-size="10.2" text-anchor="middle" fill="#000" stroke="#000" stroke-width="0.22" font-family='"Liberation Sans", sans-serif' transform="rotate(-90 21.7 550.34)">3</text>
<text x="21.7" y="524.02" font-size="10.2" text-anchor="middle" fill="#000" stroke="#000" stroke-width="0.22" font-family='"Liberation Sans", sans-serif' transform="rotate(-90 21.7 524.02)">4</text>
<text x="21.7" y="497.7" font-size="10.2" text-anchor="middle" fill="#000" stroke="#000" stroke-width="0.22" font-family='"Liberation Sans", sans-serif' transform="rotate(-90 21.7 497.7)">5</text>
<text x="21.7" y="471.38" font-size="10.2" text-anchor="middle" fill="#000" stroke="#000" stroke-width="0.22" font-family='"Liberation Sans", sans-serif' transform="rotate(-90 21.7 471.38)">6</text>
<text x="116.2" y="655.6" font-size="10.3" text-anchor="middle" fill="#000" stroke="#000" stroke-width="0.22" font-family='"Liberation Serif", serif'>Δβ</text>
<text x="9" y="550.4" font-size="9.8" text-anchor="middle" fill="#000" stroke="#000" stroke-width="0.22" font-family='"Liberation Sans", sans-serif' transform="rotate(-90 9 550.4)">Density</text>
<text x="32.6" y="482.8" font-size="18.8" text-anchor="start" fill="#000" stroke="#000" stroke-width="0.22" font-family='"Liberation Sans", sans-serif'>e</text>
<line x1="30.44" y1="629.3" x2="201.06" y2="629.3" stroke="#e6e6e6" stroke-width="0.8"/>
<line x1="91.38" y1="465.5" x2="91.38" y2="635.5" stroke="#999" stroke-width="0.8" stroke-dasharray="3,2.5"/>
<line x1="140.12" y1="465.5" x2="140.12" y2="635.5" stroke="#999" stroke-width="0.8" stroke-dasharray="3,2.5"/>
<path d="M36.45,629.3 L36.67,629.19 L36.9,629.09 L37.12,628.99 L37.34,628.9 L37.56,628.82 L37.79,628.75 L38.01,628.69 L38.23,628.64 L38.45,628.59 L38.68,628.56 L38.9,628.53 L39.12,628.52 L39.35,628.51 L39.38,628.51 L39.57,628.52 L39.79,628.55 L40.01,628.59 L40.24,628.65 L40.46,628.72 L40.68,628.79 L40.9,628.87 L41.13,628.95 L41.35,629.03 L41.57,629.11 L41.8,629.17 L42.02,629.23 L42.24,629.27 L42.46,629.29 L42.62,629.3 L42.69,629.3 L42.91,629.27 L43.13,629.21 L43.35,629.13 L43.58,629.03 L43.8,628.91 L44.02,628.78 L44.24,628.65 L44.47,628.51 L44.69,628.38 L44.91,628.26 L45.14,628.16 L45.36,628.07 L45.58,628.01 L45.8,627.99 L45.88,627.98 L46.03,627.99 L46.25,628.01 L46.47,628.05 L46.69,628.11 L46.92,628.18 L47.14,628.25 L47.36,628.33 L47.59,628.41 L47.81,628.49 L48.03,628.57 L48.25,628.63 L48.48,628.69 L48.7,628.74 L48.92,628.76 L49.12,628.77 L49.14,628.77 L49.37,628.76 L49.59,628.74 L49.81,628.7 L50.04,628.65 L50.26,628.59 L50.48,628.51 L50.7,628.44 L50.93,628.35 L51.15,628.26 L51.37,628.16 L51.59,628.07 L51.82,627.97 L52.04,627.88 L52.26,627.78 L52.49,627.69 L52.71,627.61 L52.93,627.53 L53.15,627.47 L53.19,627.46 L53.38,627.4 L53.6,627.34 L53.82,627.27 L54.04,627.19 L54.27,627.12 L54.49,627.05 L54.71,626.98 L54.94,626.92 L55.16,626.85 L55.38,626.8 L55.6,626.75 L55.83,626.72 L56.05,626.69 L56.27,626.67 L56.44,626.67 L56.49,626.67 L56.72,626.71 L56.94,626.78 L57.16,626.89 L57.38,627.02 L57.61,627.16 L57.83,627.31 L58.05,627.44 L58.28,627.56 L58.5,627.65 L58.72,627.71 L58.88,627.72 L58.94,627.72 L59.17,627.69 L59.39,627.62 L59.61,627.53 L59.83,627.41 L60.06,627.26 L60.28,627.09 L60.5,626.9 L60.73,626.7 L60.95,626.5 L61.17,626.28 L61.39,626.06 L61.62,625.84 L61.84,625.62 L62.06,625.41 L62.12,625.35 L62.28,625.19 L62.51,624.93 L62.73,624.63 L62.95,624.3 L63.18,623.94 L63.4,623.58 L63.62,623.22 L63.84,622.86 L64.07,622.52 L64.29,622.21 L64.51,621.94 L64.73,621.71 L64.96,621.54 L65.18,621.43 L65.38,621.4 L65.4,621.4 L65.63,621.43 L65.85,621.48 L66.07,621.56 L66.29,621.66 L66.52,621.76 L66.74,621.87 L66.96,621.97 L67.18,622.06 L67.41,622.14 L67.63,622.18 L67.81,622.19 L67.85,622.19 L68.07,622.13 L68.3,621.99 L68.52,621.79 L68.74,621.53 L68.97,621.23 L69.19,620.9 L69.41,620.55 L69.63,620.2 L69.86,619.85 L70.08,619.53 L70.25,619.3 L70.3,619.23 L70.52,618.95 L70.75,618.67 L70.97,618.4 L71.19,618.12 L71.42,617.84 L71.64,617.56 L71.86,617.27 L72.08,616.97 L72.31,616.67 L72.53,616.35 L72.75,616.03 L72.97,615.69 L73.2,615.33 L73.42,614.96 L73.5,614.82 L73.64,614.57 L73.87,614.15 L74.09,613.69 L74.31,613.21 L74.53,612.71 L74.76,612.19 L74.98,611.65 L75.2,611.09 L75.42,610.52 L75.65,609.95 L75.87,609.37 L76.09,608.78 L76.32,608.2 L76.54,607.62 L76.76,607.05 L76.98,606.48 L77.21,605.93 L77.43,605.4 L77.56,605.09 L77.65,604.88 L77.87,604.37 L78.1,603.87 L78.32,603.38 L78.54,602.89 L78.77,602.41 L78.99,601.93 L79.21,601.45 L79.43,600.98 L79.66,600.51 L79.88,600.03 L80.1,599.56 L80.32,599.09 L80.55,598.62 L80.77,598.14 L80.99,597.66 L81.21,597.18 L81.44,596.69 L81.66,596.2 L81.88,595.7 L82.11,595.19 L82.33,594.68 L82.55,594.16 L82.77,593.63 L83,593.08 L83.22,592.53 L83.25,592.45 L83.44,591.96 L83.66,591.37 L83.89,590.77 L84.11,590.15 L84.33,589.52 L84.56,588.88 L84.78,588.23 L85,587.58 L85.22,586.92 L85.45,586.26 L85.67,585.61 L85.89,584.96 L86.11,584.32 L86.34,583.69 L86.5,583.24 L86.56,583.07 L86.78,582.38 L87.01,581.63 L87.23,580.84 L87.45,580.04 L87.67,579.26 L87.9,578.53 L88.12,577.88 L88.34,577.34 L88.56,576.94 L88.79,576.71 L88.94,576.66 L89.01,576.67 L89.23,576.82 L89.46,577.14 L89.68,577.6 L89.9,578.2 L90.12,578.92 L90.35,579.73 L90.56,580.61 L90.57,580.63 L90.79,582.32 L91.01,585.18 L91.24,588.87 L91.46,593.03 L91.68,597.31 L91.91,601.36 L92.13,604.83 L92.19,605.61 L92.35,607.72 L92.57,610.76 L92.8,613.89 L93.02,616.99 L93.24,619.96 L93.46,622.7 L93.69,625.1 L93.91,627.06 L94.13,628.46 L94.35,629.21 L94.46,629.3 L94.58,629.3 L94.8,629.3 L95.02,629.3 L95.25,629.3 L95.47,629.3 L95.69,629.3 L95.91,629.3 L96.14,629.3 L96.36,629.3 L96.58,629.3 L96.8,629.3 L97.03,629.3 L97.25,629.3 L97.47,629.3 L97.7,629.3 L97.92,629.3 L98.14,629.3 L98.36,629.3 L98.59,629.3 L98.81,629.3 L99.03,629.3 L99.25,629.3 L99.48,629.3 L99.7,629.3 L99.92,629.3 L100.15,629.3 L100.37,629.3 L100.59,629.3 L100.81,629.3 L101.04,629.3 L101.26,629.3 L101.48,629.3 L101.7,629.3 L101.93,629.3 L102.15,629.3 L102.37,629.3 L102.6,629.3 L102.82,629.3 L103.04,629.3 L103.26,629.3 L103.49,629.3 L103.71,629.3 L103.93,629.3 L104.15,629.3 L104.38,629.3 L104.6,629.3 L104.82,629.3 L105.04,629.3 L105.27,629.3 L105.49,629.3 L105.71,629.3 L105.94,629.3 L106.16,629.3 L106.38,629.3 L106.6,629.3 L106.83,629.3 L107.05,629.3 L107.27,629.3 L107.49,629.3 L107.72,629.3 L107.94,629.3 L108.16,629.3 L108.39,629.3 L108.61,629.3 L108.83,629.3 L109.05,629.3 L109.28,629.3 L109.5,629.3 L109.72,629.3 L109.94,629.3 L110.17,629.3 L110.39,629.3 L110.61,629.3 L110.84,629.3 L111.06,629.3 L111.28,629.3 L111.5,629.3 L111.73,629.3 L111.95,629.3 L112.17,629.3 L112.39,629.3 L112.62,629.3 L112.84,629.3 L113.06,629.3 L113.29,629.3 L113.51,629.3 L113.73,629.3 L113.95,629.3 L114.18,629.3 L114.4,629.3 L114.62,629.3 L114.84,629.3 L115.07,629.3 L115.29,629.3 L115.51,629.3 L115.74,629.3 L115.96,629.3 L116.18,629.3 L116.4,629.3 L116.63,629.3 L116.85,629.3 L117.07,629.3 L117.29,629.3 L117.52,629.3 L117.74,629.3 L117.96,629.3 L118.18,629.3 L118.41,629.3 L118.63,629.3 L118.85,629.3 L119.08,629.3 L119.3,629.3 L119.52,629.3 L119.74,629.3 L119.97,629.3 L120.19,629.3 L120.41,629.3 L120.63,629.3 L120.86,629.3 L121.08,629.3 L121.3,629.3 L121.53,629.3 L121.75,629.3 L121.97,629.3 L122.19,629.3 L122.42,629.3 L122.64,629.3 L122.86,629.3 L123.08,629.3 L123.31,629.3 L123.53,629.3 L123.75,629.3 L123.98,629.3 L124.2,629.3 L124.42,629.3 L124.64,629.3 L124.87,629.3 L125.09,629.3 L125.31,629.3 L125.53,629.3 L125.76,629.3 L125.98,629.3 L126.2,629.3 L126.43,629.3 L126.65,629.3 L126.87,629.3 L127.09,629.3 L127.32,629.3 L127.54,629.3 L127.76,629.3 L127.98,629.3 L128.21,629.3 L128.43,629.3 L128.65,629.3 L128.88,629.3 L129.1,629.3 L129.32,629.3 L129.54,629.3 L129.77,629.3 L129.99,629.3 L130.21,629.3 L130.43,629.3 L130.66,629.3 L130.88,629.3 L131.1,629.3 L131.32,629.3 L131.55,629.3 L131.77,629.3 L131.99,629.3 L132.22,629.3 L132.44,629.3 L132.66,629.3 L132.88,629.3 L133.11,629.3 L133.33,629.3 L133.55,629.3 L133.77,629.3 L134,629.3 L134.22,629.3 L134.44,629.3 L134.67,629.3 L134.89,629.3 L135.11,629.3 L135.33,629.3 L135.56,629.3 L135.78,629.3 L135.9,629.3 L136,629.18 L136.22,628.17 L136.45,626.27 L136.67,623.68 L136.89,620.58 L137.12,617.17 L137.34,613.62 L137.56,610.13 L137.69,608.24 L137.78,606.82 L138.01,603.24 L138.23,599.34 L138.45,595.17 L138.67,590.79 L138.9,586.25 L139.12,581.61 L139.34,576.92 L139.57,572.24 L139.79,567.62 L140.01,563.12 L140.12,560.87 L140.23,558.69 L140.46,553.86 L140.68,548.79 L140.9,543.72 L141.12,538.94 L141.35,534.7 L141.57,531.28 L141.75,529.28 L141.79,528.91 L142.02,526.98 L142.24,525.18 L142.46,523.64 L142.68,522.47 L142.91,521.79 L143.05,521.65 L143.13,521.69 L143.35,522.22 L143.57,523.27 L143.8,524.72 L144.02,526.46 L144.24,528.36 L144.46,530.32 L144.69,532.22 L144.91,533.93 L145,534.55 L145.13,535.42 L145.36,536.87 L145.58,538.32 L145.8,539.77 L146.02,541.22 L146.25,542.66 L146.47,544.1 L146.69,545.54 L146.91,546.98 L147.14,548.41 L147.36,549.85 L147.58,551.29 L147.81,552.73 L148.03,554.17 L148.25,555.6 L148.25,555.61 L148.47,557.03 L148.7,558.42 L148.92,559.78 L149.14,561.14 L149.36,562.51 L149.59,563.89 L149.81,565.3 L150.03,566.75 L150.26,568.26 L150.48,569.84 L150.69,571.4 L150.7,571.5 L150.92,573.37 L151.15,575.5 L151.37,577.81 L151.59,580.24 L151.81,582.7 L152.04,585.13 L152.26,587.44 L152.48,589.57 L152.71,591.45 L152.93,593 L153.12,594.03 L153.15,594.14 L153.37,595.05 L153.6,595.86 L153.82,596.59 L154.04,597.25 L154.26,597.85 L154.49,598.4 L154.71,598.92 L154.93,599.42 L155.15,599.91 L155.38,600.41 L155.6,600.91 L155.82,601.45 L156.05,602.03 L156.27,602.66 L156.38,602.98 L156.49,603.36 L156.71,604.15 L156.94,605.01 L157.16,605.94 L157.38,606.91 L157.6,607.89 L157.83,608.88 L158.05,609.85 L158.27,610.78 L158.5,611.66 L158.72,612.47 L158.94,613.17 L159.16,613.77 L159.39,614.23 L159.61,614.54 L159.62,614.56 L159.83,614.75 L160.05,614.92 L160.28,615.07 L160.5,615.2 L160.72,615.3 L160.95,615.4 L161.17,615.49 L161.39,615.58 L161.61,615.66 L161.84,615.76 L162.06,615.86 L162.28,615.98 L162.5,616.12 L162.73,616.28 L162.88,616.4 L162.95,616.47 L163.17,616.74 L163.4,617.07 L163.62,617.46 L163.84,617.9 L164.06,618.38 L164.29,618.88 L164.51,619.41 L164.73,619.94 L164.95,620.46 L165.18,620.97 L165.4,621.45 L165.62,621.9 L165.85,622.3 L166.07,622.64 L166.12,622.72 L166.29,622.94 L166.51,623.22 L166.74,623.5 L166.96,623.77 L167.18,624.03 L167.4,624.28 L167.63,624.53 L167.85,624.77 L168.07,624.99 L168.29,625.21 L168.52,625.42 L168.74,625.62 L168.96,625.81 L169.19,625.99 L169.41,626.16 L169.63,626.32 L169.85,626.47 L170.08,626.6 L170.19,626.67 L170.3,626.73 L170.52,626.85 L170.74,626.98 L170.97,627.1 L171.19,627.22 L171.41,627.34 L171.64,627.46 L171.86,627.57 L172.08,627.68 L172.3,627.78 L172.53,627.87 L172.75,627.95 L172.97,628.03 L173.19,628.1 L173.42,628.15 L173.64,628.19 L173.86,628.23 L174.09,628.24 L174.25,628.25 L174.31,628.25 L174.53,628.25 L174.75,628.24 L174.98,628.24 L175.2,628.23 L175.42,628.22 L175.64,628.22 L175.87,628.21 L176.09,628.2 L176.31,628.18 L176.54,628.17 L176.76,628.16 L176.98,628.15 L177.2,628.13 L177.43,628.12 L177.65,628.11 L177.87,628.09 L178.09,628.08 L178.32,628.07 L178.54,628.05 L178.76,628.04 L178.99,628.03 L179.21,628.02 L179.43,628.01 L179.65,628 L179.88,628 L180.1,627.99 L180.32,627.99 L180.54,627.98 L180.75,627.98 L180.77,627.98 L180.99,627.99 L181.21,627.99 L181.43,628 L181.66,628.01 L181.88,628.03 L182.1,628.05 L182.33,628.07 L182.55,628.09 L182.77,628.12 L182.99,628.14 L183.22,628.17 L183.44,628.2 L183.66,628.24 L183.88,628.27 L184.11,628.3 L184.33,628.34 L184.55,628.37 L184.78,628.41 L185,628.45 L185.22,628.48 L185.44,628.52 L185.67,628.55 L185.89,628.59 L186.11,628.62 L186.33,628.65 L186.56,628.69 L186.78,628.72 L187,628.74 L187.23,628.77 L187.25,628.77 L187.45,628.8 L187.67,628.82 L187.89,628.85 L188.12,628.87 L188.34,628.9 L188.56,628.92 L188.78,628.95 L189.01,628.97 L189.23,628.99 L189.45,629.02 L189.68,629.04 L189.9,629.07 L190.12,629.09 L190.34,629.11 L190.57,629.14 L190.79,629.16 L191.01,629.18 L191.23,629.21 L191.46,629.23 L191.68,629.25 L191.9,629.28 L192.12,629.3" fill="none" stroke="#ff0000" stroke-width="1.3" stroke-linejoin="round"/>
<path d="M51.56,629.3 L51.75,629.27 L51.95,629.24 L52.14,629.21 L52.33,629.18 L52.52,629.15 L52.72,629.12 L52.91,629.09 L53.1,629.06 L53.29,629.03 L53.49,629.01 L53.68,628.98 L53.87,628.95 L54.06,628.92 L54.26,628.89 L54.45,628.86 L54.64,628.84 L54.83,628.81 L55.03,628.78 L55.22,628.75 L55.41,628.72 L55.6,628.7 L55.79,628.67 L55.99,628.64 L56.18,628.61 L56.37,628.59 L56.56,628.56 L56.76,628.53 L56.95,628.51 L57.14,628.48 L57.33,628.45 L57.53,628.43 L57.72,628.4 L57.91,628.38 L58.1,628.35 L58.3,628.32 L58.49,628.3 L58.68,628.27 L58.87,628.25 L58.88,628.25 L59.07,628.22 L59.26,628.2 L59.45,628.18 L59.64,628.15 L59.83,628.13 L60.03,628.11 L60.22,628.09 L60.41,628.07 L60.6,628.05 L60.8,628.04 L60.99,628.02 L61.18,628 L61.37,627.98 L61.57,627.96 L61.76,627.94 L61.95,627.92 L62.14,627.91 L62.34,627.89 L62.53,627.87 L62.72,627.85 L62.91,627.82 L63.1,627.8 L63.3,627.78 L63.49,627.76 L63.68,627.73 L63.87,627.71 L64.07,627.68 L64.26,627.65 L64.45,627.62 L64.64,627.59 L64.84,627.56 L65.03,627.52 L65.22,627.49 L65.38,627.46 L65.41,627.45 L65.61,627.41 L65.8,627.36 L65.99,627.3 L66.18,627.24 L66.38,627.18 L66.57,627.11 L66.76,627.03 L66.95,626.96 L67.14,626.87 L67.34,626.79 L67.53,626.7 L67.72,626.61 L67.91,626.51 L68.11,626.41 L68.3,626.31 L68.49,626.21 L68.62,626.14 L68.68,626.11 L68.88,626 L69.07,625.88 L69.26,625.75 L69.45,625.61 L69.65,625.47 L69.84,625.32 L70.03,625.16 L70.22,625 L70.42,624.84 L70.61,624.68 L70.8,624.52 L70.99,624.36 L71.18,624.2 L71.38,624.04 L71.39,624.04 L71.57,623.89 L71.76,623.74 L71.95,623.59 L72.15,623.45 L72.34,623.3 L72.53,623.16 L72.72,623.01 L72.92,622.86 L73.11,622.72 L73.3,622.56 L73.49,622.41 L73.69,622.25 L73.88,622.09 L74.07,621.92 L74.26,621.75 L74.45,621.57 L74.65,621.38 L74.84,621.18 L75.03,620.98 L75.12,620.88 L75.22,620.76 L75.42,620.51 L75.61,620.23 L75.8,619.93 L75.99,619.61 L76.19,619.27 L76.38,618.94 L76.57,618.6 L76.76,618.27 L76.96,617.95 L77.15,617.65 L77.34,617.38 L77.53,617.13 L77.72,616.93 L77.73,616.93 L77.92,616.76 L78.11,616.6 L78.3,616.45 L78.49,616.32 L78.69,616.2 L78.88,616.08 L79.07,615.97 L79.26,615.86 L79.46,615.76 L79.65,615.65 L79.84,615.53 L80.03,615.41 L80.23,615.29 L80.42,615.15 L80.61,615 L80.8,614.83 L80.81,614.82 L81,614.65 L81.19,614.44 L81.38,614.21 L81.57,613.96 L81.77,613.7 L81.96,613.42 L82.15,613.14 L82.34,612.85 L82.53,612.55 L82.73,612.25 L82.92,611.96 L83.11,611.66 L83.3,611.38 L83.5,611.1 L83.69,610.83 L83.88,610.57 L84.06,610.35 L84.07,610.34 L84.27,610.11 L84.46,609.89 L84.65,609.67 L84.84,609.46 L85.04,609.25 L85.23,609.04 L85.42,608.84 L85.61,608.64 L85.8,608.44 L86,608.25 L86.19,608.05 L86.38,607.86 L86.57,607.67 L86.77,607.47 L86.96,607.28 L87.15,607.09 L87.31,606.93 L87.34,606.9 L87.54,606.68 L87.73,606.44 L87.92,606.19 L88.11,605.95 L88.31,605.73 L88.5,605.55 L88.69,605.42 L88.88,605.35 L88.94,605.35 L89.08,605.41 L89.27,605.7 L89.46,606.19 L89.65,606.83 L89.84,607.6 L90.04,608.44 L90.23,609.34 L90.42,610.24 L90.56,610.88 L90.61,611.12 L90.81,612.16 L91,613.39 L91.19,614.75 L91.38,616.18 L91.58,617.6 L91.77,618.96 L91.96,620.2 L92.15,621.24 L92.19,621.4 L92.35,622.14 L92.54,623.06 L92.73,623.98 L92.92,624.89 L93.12,625.77 L93.31,626.59 L93.5,627.34 L93.69,627.99 L93.88,628.53 L94.08,628.95 L94.27,629.21 L94.46,629.3 L94.46,629.3 L94.65,629.3 L94.85,629.3 L95.04,629.3 L95.23,629.3 L95.42,629.3 L95.62,629.3 L95.81,629.3 L96,629.3 L96.19,629.3 L96.39,629.3 L96.58,629.3 L96.77,629.3 L96.96,629.3 L97.15,629.3 L97.35,629.3 L97.54,629.3 L97.73,629.3 L97.92,629.3 L98.12,629.3 L98.31,629.3 L98.5,629.3 L98.69,629.3 L98.89,629.3 L99.08,629.3 L99.27,629.3 L99.46,629.3 L99.66,629.3 L99.85,629.3 L100.04,629.3 L100.23,629.3 L100.43,629.3 L100.62,629.3 L100.81,629.3 L101,629.3 L101.19,629.3 L101.39,629.3 L101.58,629.3 L101.77,629.3 L101.96,629.3 L102.16,629.3 L102.35,629.3 L102.54,629.3 L102.73,629.3 L102.93,629.3 L103.12,629.3 L103.31,629.3 L103.5,629.3 L103.7,629.3 L103.89,629.3 L104.08,629.3 L104.27,629.3 L104.47,629.3 L104.66,629.3 L104.85,629.3 L105.04,629.3 L105.23,629.3 L105.43,629.3 L105.62,629.3 L105.81,629.3 L106,629.3 L106.2,629.3 L106.39,629.3 L106.58,629.3 L106.77,629.3 L106.97,629.3 L107.16,629.3 L107.35,629.3 L107.54,629.3 L107.74,629.3 L107.93,629.3 L108.12,629.3 L108.31,629.3 L108.5,629.3 L108.7,629.3 L108.89,629.3 L109.08,629.3 L109.27,629.3 L109.47,629.3 L109.66,629.3 L109.85,629.3 L110.04,629.3 L110.24,629.3 L110.43,629.3 L110.62,629.3 L110.81,629.3 L111.01,629.3 L111.2,629.3 L111.39,629.3 L111.58,629.3 L111.78,629.3 L111.97,629.3 L112.16,629.3 L112.35,629.3 L112.54,629.3 L112.74,629.3 L112.93,629.3 L113.12,629.3 L113.31,629.3 L113.51,629.3 L113.7,629.3 L113.89,629.3 L114.08,629.3 L114.28,629.3 L114.47,629.3 L114.66,629.3 L114.85,629.3 L115.05,629.3 L115.24,629.3 L115.43,629.3 L115.62,629.3 L115.82,629.3 L116.01,629.3 L116.2,629.3 L116.39,629.3 L116.58,629.3 L116.78,629.3 L116.97,629.3 L117.16,629.3 L117.35,629.3 L117.55,629.3 L117.74,629.3 L117.93,629.3 L118.12,629.3 L118.32,629.3 L118.51,629.3 L118.7,629.3 L118.89,629.3 L119.09,629.3 L119.28,629.3 L119.47,629.3 L119.66,629.3 L119.85,629.3 L120.05,629.3 L120.24,629.3 L120.43,629.3 L120.62,629.3 L120.82,629.3 L121.01,629.3 L121.2,629.3 L121.39,629.3 L121.59,629.3 L121.78,629.3 L121.97,629.3 L122.16,629.3 L122.36,629.3 L122.55,629.3 L122.74,629.3 L122.93,629.3 L123.13,629.3 L123.32,629.3 L123.51,629.3 L123.7,629.3 L123.89,629.3 L124.09,629.3 L124.28,629.3 L124.47,629.3 L124.66,629.3 L124.86,629.3 L125.05,629.3 L125.24,629.3 L125.43,629.3 L125.63,629.3 L125.82,629.3 L126.01,629.3 L126.2,629.3 L126.4,629.3 L126.59,629.3 L126.78,629.3 L126.97,629.3 L127.17,629.3 L127.36,629.3 L127.55,629.3 L127.74,629.3 L127.93,629.3 L128.13,629.3 L128.32,629.3 L128.51,629.3 L128.7,629.3 L128.9,629.3 L129.09,629.3 L129.28,629.3 L129.47,629.3 L129.67,629.3 L129.86,629.3 L130.05,629.3 L130.24,629.3 L130.44,629.3 L130.63,629.3 L130.82,629.3 L131.01,629.3 L131.2,629.3 L131.4,629.3 L131.59,629.3 L131.78,629.3 L131.97,629.3 L132.17,629.3 L132.36,629.3 L132.55,629.3 L132.74,629.3 L132.94,629.3 L133.13,629.3 L133.32,629.3 L133.51,629.3 L133.71,629.3 L133.9,629.3 L134.09,629.3 L134.28,629.3 L134.48,629.3 L134.67,629.3 L134.86,629.3 L135.05,629.3 L135.24,629.3 L135.44,629.3 L135.63,629.3 L135.82,629.3 L135.9,629.3 L136.01,629.08 L136.21,627.79 L136.4,625.5 L136.59,622.39 L136.78,618.63 L136.98,614.42 L137.17,609.91 L137.36,605.3 L137.55,600.75 L137.69,597.72 L137.75,596.41 L137.94,591.7 L138.13,586.47 L138.32,580.81 L138.52,574.82 L138.71,568.58 L138.9,562.2 L139.09,555.75 L139.28,549.34 L139.48,543.06 L139.67,536.99 L139.86,531.23 L140.05,525.88 L140.12,524.02 L140.25,520.83 L140.44,515.56 L140.63,510.21 L140.82,504.95 L141.02,499.99 L141.21,495.52 L141.4,491.72 L141.59,488.79 L141.75,487.17 L141.79,486.9 L141.98,485.45 L142.17,484.11 L142.36,482.95 L142.55,481.99 L142.75,481.3 L142.94,480.92 L143.05,480.86 L143.13,480.89 L143.32,481.26 L143.52,481.97 L143.71,482.96 L143.9,484.17 L144.09,485.54 L144.29,487.02 L144.48,488.55 L144.67,490.06 L144.86,491.49 L145,492.44 L145.06,492.81 L145.25,494.09 L145.44,495.39 L145.63,496.72 L145.83,498.06 L146.02,499.43 L146.21,500.82 L146.4,502.23 L146.59,503.67 L146.79,505.13 L146.98,506.62 L147.17,508.14 L147.36,509.68 L147.56,511.25 L147.75,512.86 L147.94,514.49 L148.13,516.15 L148.25,517.18 L148.33,517.86 L148.52,519.63 L148.71,521.48 L148.9,523.39 L149.1,525.36 L149.29,527.38 L149.48,529.42 L149.67,531.49 L149.87,533.58 L150.06,535.67 L150.25,537.76 L150.44,539.84 L150.63,541.89 L150.69,542.44 L150.83,543.93 L151.02,546.05 L151.21,548.21 L151.4,550.41 L151.6,552.63 L151.79,554.84 L151.98,557.02 L152.17,559.17 L152.37,561.25 L152.56,563.25 L152.75,565.15 L152.94,566.94 L153.12,568.5 L153.14,568.59 L153.33,570.14 L153.52,571.63 L153.71,573.08 L153.9,574.48 L154.1,575.83 L154.29,577.14 L154.48,578.42 L154.67,579.67 L154.87,580.88 L155.06,582.07 L155.25,583.24 L155.44,584.39 L155.64,585.53 L155.83,586.65 L156.02,587.77 L156.21,588.89 L156.38,589.82 L156.41,590 L156.6,591.11 L156.79,592.21 L156.98,593.29 L157.18,594.37 L157.37,595.43 L157.56,596.49 L157.75,597.52 L157.94,598.54 L158.14,599.55 L158.33,600.54 L158.52,601.51 L158.71,602.46 L158.91,603.39 L159.1,604.3 L159.29,605.18 L159.48,606.05 L159.62,606.66 L159.68,606.89 L159.87,607.74 L160.06,608.61 L160.25,609.49 L160.45,610.37 L160.64,611.25 L160.83,612.12 L161.02,612.97 L161.22,613.79 L161.41,614.58 L161.6,615.33 L161.79,616.04 L161.98,616.69 L162.18,617.27 L162.37,617.79 L162.56,618.23 L162.75,618.59 L162.88,618.77 L162.95,618.87 L163.14,619.1 L163.33,619.31 L163.52,619.5 L163.72,619.67 L163.91,619.83 L164.1,619.97 L164.29,620.11 L164.49,620.23 L164.68,620.36 L164.87,620.48 L165.06,620.6 L165.25,620.72 L165.45,620.85 L165.64,620.99 L165.83,621.15 L166.02,621.31 L166.12,621.4 L166.22,621.49 L166.41,621.69 L166.6,621.91 L166.79,622.14 L166.99,622.38 L167.18,622.63 L167.37,622.88 L167.56,623.14 L167.76,623.41 L167.95,623.67 L168.14,623.94 L168.33,624.2 L168.53,624.45 L168.72,624.7 L168.91,624.94 L169.1,625.17 L169.29,625.38 L169.49,625.58 L169.68,625.76 L169.87,625.93 L170.06,626.06 L170.19,626.14 L170.26,626.18 L170.45,626.29 L170.64,626.39 L170.83,626.49 L171.03,626.59 L171.22,626.68 L171.41,626.77 L171.6,626.86 L171.8,626.94 L171.99,627.02 L172.18,627.09 L172.37,627.16 L172.57,627.23 L172.76,627.3 L172.95,627.36 L173.14,627.42 L173.33,627.48 L173.53,627.53 L173.72,627.59 L173.91,627.64 L174.1,627.69 L174.25,627.72 L174.3,627.73 L174.49,627.78 L174.68,627.82 L174.87,627.86 L175.07,627.9 L175.26,627.94 L175.45,627.98 L175.64,628.02 L175.84,628.06 L176.03,628.09 L176.22,628.13 L176.41,628.16 L176.6,628.19 L176.8,628.23 L176.99,628.26 L177.18,628.29 L177.37,628.32 L177.57,628.35 L177.76,628.38 L177.95,628.41 L178.14,628.43 L178.34,628.46 L178.53,628.49 L178.72,628.52 L178.91,628.54 L179.11,628.57 L179.3,628.59 L179.49,628.62 L179.68,628.64 L179.88,628.67 L180.07,628.69 L180.26,628.71 L180.45,628.74 L180.64,628.76 L180.75,628.77 L180.84,628.78 L181.03,628.81 L181.22,628.83 L181.41,628.85 L181.61,628.88 L181.8,628.9 L181.99,628.92 L182.18,628.94 L182.38,628.96 L182.57,628.98 L182.76,629 L182.95,629.03 L183.15,629.05 L183.34,629.06 L183.53,629.08 L183.72,629.1 L183.92,629.12 L184.11,629.14 L184.3,629.16 L184.49,629.18 L184.68,629.19 L184.88,629.21 L185.07,629.23 L185.26,629.24 L185.45,629.26 L185.65,629.27 L185.84,629.29 L186.03,629.3" fill="none" stroke="#00ff00" stroke-width="1.3" stroke-linejoin="round"/>
<path d="M52.38,629.3 L52.58,629.28 L52.79,629.26 L53,629.25 L53.2,629.23 L53.41,629.21 L53.62,629.19 L53.82,629.17 L54.03,629.16 L54.24,629.14 L54.44,629.12 L54.65,629.1 L54.86,629.09 L55.06,629.07 L55.27,629.05 L55.48,629.04 L55.69,629.02 L55.89,629 L56.1,628.99 L56.31,628.97 L56.51,628.95 L56.72,628.94 L56.93,628.92 L57.13,628.9 L57.34,628.89 L57.55,628.87 L57.75,628.86 L57.96,628.84 L58.17,628.83 L58.38,628.81 L58.58,628.79 L58.79,628.78 L58.88,628.77 L59,628.76 L59.2,628.75 L59.41,628.74 L59.62,628.72 L59.82,628.71 L60.03,628.7 L60.24,628.69 L60.44,628.68 L60.65,628.66 L60.86,628.65 L61.06,628.64 L61.27,628.63 L61.48,628.62 L61.69,628.61 L61.89,628.6 L62.1,628.59 L62.31,628.58 L62.51,628.57 L62.72,628.56 L62.93,628.55 L63.13,628.54 L63.34,628.53 L63.55,628.52 L63.75,628.5 L63.96,628.49 L64.17,628.48 L64.38,628.47 L64.58,628.45 L64.79,628.44 L65,628.42 L65.2,628.41 L65.41,628.39 L65.62,628.38 L65.82,628.36 L66.03,628.34 L66.24,628.32 L66.44,628.3 L66.65,628.28 L66.86,628.26 L67,628.25 L67.07,628.24 L67.27,628.21 L67.48,628.19 L67.69,628.15 L67.89,628.12 L68.1,628.08 L68.31,628.04 L68.51,627.99 L68.72,627.94 L68.93,627.89 L69.13,627.84 L69.34,627.78 L69.55,627.73 L69.75,627.67 L69.96,627.6 L70.17,627.54 L70.38,627.48 L70.58,627.41 L70.79,627.34 L71,627.27 L71.2,627.2 L71.41,627.13 L71.62,627.05 L71.82,626.98 L72.03,626.91 L72.24,626.83 L72.44,626.76 L72.65,626.68 L72.69,626.67 L72.86,626.6 L73.07,626.52 L73.27,626.44 L73.48,626.35 L73.69,626.26 L73.89,626.16 L74.1,626.07 L74.31,625.97 L74.51,625.86 L74.72,625.76 L74.93,625.65 L75.13,625.54 L75.34,625.43 L75.55,625.31 L75.76,625.19 L75.96,625.08 L76.17,624.96 L76.38,624.84 L76.58,624.72 L76.79,624.59 L77,624.47 L77.2,624.35 L77.41,624.22 L77.62,624.1 L77.72,624.04 L77.82,623.98 L78.03,623.85 L78.24,623.72 L78.44,623.59 L78.65,623.45 L78.86,623.32 L79.07,623.18 L79.27,623.04 L79.48,622.89 L79.69,622.75 L79.89,622.6 L80.1,622.45 L80.31,622.3 L80.51,622.15 L80.72,622 L80.81,621.93 L80.93,621.85 L81.13,621.69 L81.34,621.54 L81.55,621.39 L81.76,621.24 L81.96,621.09 L82.17,620.93 L82.38,620.77 L82.58,620.61 L82.79,620.44 L83,620.27 L83.2,620.1 L83.41,619.92 L83.62,619.73 L83.82,619.53 L84.03,619.33 L84.06,619.3 L84.24,619.12 L84.44,618.9 L84.65,618.67 L84.86,618.42 L85.07,618.17 L85.27,617.91 L85.48,617.64 L85.69,617.36 L85.89,617.07 L86.1,616.76 L86.31,616.44 L86.5,616.14 L86.51,616.12 L86.72,615.72 L86.93,615.23 L87.13,614.68 L87.34,614.11 L87.55,613.54 L87.76,613.01 L87.96,612.55 L88.17,612.2 L88.38,611.98 L88.53,611.93 L88.58,611.93 L88.79,612.07 L89,612.38 L89.2,612.82 L89.41,613.38 L89.62,614.03 L89.82,614.74 L90.03,615.5 L90.24,616.27 L90.45,617.04 L90.56,617.46 L90.65,617.79 L90.86,618.73 L91.07,619.82 L91.27,621 L91.48,622.18 L91.69,623.31 L91.89,624.31 L92.1,625.1 L92.19,625.35 L92.31,625.67 L92.51,626.2 L92.72,626.72 L92.93,627.22 L93.13,627.68 L93.34,628.11 L93.55,628.48 L93.76,628.79 L93.96,629.04 L94.17,629.21 L94.38,629.29 L94.46,629.3 L94.58,629.3 L94.79,629.3 L95,629.3 L95.2,629.3 L95.41,629.3 L95.62,629.3 L95.82,629.3 L96.03,629.3 L96.24,629.3 L96.45,629.3 L96.65,629.3 L96.86,629.3 L97.07,629.3 L97.27,629.3 L97.48,629.3 L97.69,629.3 L97.89,629.3 L98.1,629.3 L98.31,629.3 L98.51,629.3 L98.72,629.3 L98.93,629.3 L99.14,629.3 L99.34,629.3 L99.55,629.3 L99.76,629.3 L99.96,629.3 L100.17,629.3 L100.38,629.3 L100.58,629.3 L100.79,629.3 L101,629.3 L101.2,629.3 L101.41,629.3 L101.62,629.3 L101.82,629.3 L102.03,629.3 L102.24,629.3 L102.45,629.3 L102.65,629.3 L102.86,629.3 L103.07,629.3 L103.27,629.3 L103.48,629.3 L103.69,629.3 L103.89,629.3 L104.1,629.3 L104.31,629.3 L104.51,629.3 L104.72,629.3 L104.93,629.3 L105.14,629.3 L105.34,629.3 L105.55,629.3 L105.76,629.3 L105.96,629.3 L106.17,629.3 L106.38,629.3 L106.58,629.3 L106.79,629.3 L107,629.3 L107.2,629.3 L107.41,629.3 L107.62,629.3 L107.82,629.3 L108.03,629.3 L108.24,629.3 L108.45,629.3 L108.65,629.3 L108.86,629.3 L109.07,629.3 L109.27,629.3 L109.48,629.3 L109.69,629.3 L109.89,629.3 L110.1,629.3 L110.31,629.3 L110.51,629.3 L110.72,629.3 L110.93,629.3 L111.14,629.3 L111.34,629.3 L111.55,629.3 L111.76,629.3 L111.96,629.3 L112.17,629.3 L112.38,629.3 L112.58,629.3 L112.79,629.3 L113,629.3 L113.2,629.3 L113.41,629.3 L113.62,629.3 L113.83,629.3 L114.03,629.3 L114.24,629.3 L114.45,629.3 L114.65,629.3 L114.86,629.3 L115.07,629.3 L115.27,629.3 L115.48,629.3 L115.69,629.3 L115.89,629.3 L116.1,629.3 L116.31,629.3 L116.51,629.3 L116.72,629.3 L116.93,629.3 L117.14,629.3 L117.34,629.3 L117.55,629.3 L117.76,629.3 L117.96,629.3 L118.17,629.3 L118.38,629.3 L118.58,629.3 L118.79,629.3 L119,629.3 L119.2,629.3 L119.41,629.3 L119.62,629.3 L119.83,629.3 L120.03,629.3 L120.24,629.3 L120.45,629.3 L120.65,629.3 L120.86,629.3 L121.07,629.3 L121.27,629.3 L121.48,629.3 L121.69,629.3 L121.89,629.3 L122.1,629.3 L122.31,629.3 L122.52,629.3 L122.72,629.3 L122.93,629.3 L123.14,629.3 L123.34,629.3 L123.55,629.3 L123.76,629.3 L123.96,629.3 L124.17,629.3 L124.38,629.3 L124.58,629.3 L124.79,629.3 L125,629.3 L125.2,629.3 L125.41,629.3 L125.62,629.3 L125.83,629.3 L126.03,629.3 L126.24,629.3 L126.45,629.3 L126.65,629.3 L126.86,629.3 L127.07,629.3 L127.27,629.3 L127.48,629.3 L127.69,629.3 L127.89,629.3 L128.1,629.3 L128.31,629.3 L128.52,629.3 L128.72,629.3 L128.93,629.3 L129.14,629.3 L129.34,629.3 L129.55,629.3 L129.76,629.3 L129.96,629.3 L130.17,629.3 L130.38,629.3 L130.58,629.3 L130.79,629.3 L131,629.3 L131.2,629.3 L131.41,629.3 L131.62,629.3 L131.83,629.3 L132.03,629.3 L132.24,629.3 L132.45,629.3 L132.65,629.3 L132.86,629.3 L133.07,629.3 L133.27,629.3 L133.48,629.3 L133.69,629.3 L133.89,629.3 L134.1,629.3 L134.31,629.3 L134.52,629.3 L134.72,629.3 L134.93,629.3 L135.14,629.3 L135.34,629.3 L135.55,629.3 L135.76,629.3 L135.9,629.3 L135.96,629.24 L136.17,628.23 L136.38,626.15 L136.58,623.18 L136.79,619.51 L137,615.35 L137.21,610.88 L137.41,606.29 L137.62,601.79 L137.69,600.35 L137.83,597.3 L138.03,592.13 L138.24,586.34 L138.45,580.06 L138.65,573.42 L138.86,566.54 L139.07,559.54 L139.27,552.56 L139.48,545.71 L139.69,539.13 L139.89,532.94 L140.1,527.25 L140.12,526.65 L140.31,521.8 L140.52,516.12 L140.72,510.44 L140.93,504.97 L141.14,499.95 L141.34,495.59 L141.55,492.11 L141.75,489.8 L141.76,489.74 L141.96,488 L142.17,486.39 L142.38,484.99 L142.58,483.86 L142.79,483.07 L143,482.71 L143.05,482.7 L143.21,482.79 L143.41,483.17 L143.62,483.81 L143.83,484.65 L144.03,485.66 L144.24,486.77 L144.45,487.96 L144.65,489.17 L144.86,490.36 L145,491.12 L145.07,491.48 L145.27,492.64 L145.48,493.86 L145.69,495.14 L145.9,496.48 L146.1,497.88 L146.31,499.33 L146.52,500.82 L146.72,502.36 L146.93,503.95 L147.14,505.57 L147.34,507.23 L147.55,508.91 L147.76,510.63 L147.96,512.37 L148.17,514.13 L148.25,514.81 L148.38,515.93 L148.58,517.84 L148.79,519.84 L149,521.93 L149.21,524.08 L149.41,526.28 L149.62,528.51 L149.83,530.75 L150.03,532.98 L150.24,535.19 L150.45,537.36 L150.65,539.47 L150.69,539.81 L150.86,541.56 L151.07,543.67 L151.27,545.81 L151.48,547.95 L151.69,550.08 L151.9,552.19 L152.1,554.27 L152.31,556.29 L152.52,558.25 L152.72,560.13 L152.93,561.91 L153.12,563.5 L153.14,563.59 L153.34,565.19 L153.55,566.75 L153.76,568.28 L153.96,569.76 L154.17,571.21 L154.38,572.62 L154.58,574 L154.79,575.34 L155,576.65 L155.21,577.92 L155.41,579.17 L155.62,580.38 L155.83,581.56 L156.03,582.71 L156.24,583.84 L156.38,584.56 L156.45,584.94 L156.65,586.01 L156.86,587.06 L157.07,588.1 L157.27,589.11 L157.48,590.1 L157.69,591.06 L157.9,592.01 L158.1,592.93 L158.31,593.83 L158.52,594.71 L158.72,595.57 L158.93,596.4 L159.14,597.21 L159.34,598 L159.55,598.76 L159.62,599.03 L159.76,599.51 L159.96,600.25 L160.17,600.99 L160.38,601.72 L160.59,602.44 L160.79,603.16 L161,603.86 L161.21,604.56 L161.41,605.24 L161.62,605.91 L161.83,606.57 L162.03,607.21 L162.24,607.83 L162.45,608.44 L162.65,609.02 L162.86,609.58 L163.07,610.12 L163.27,610.64 L163.48,611.13 L163.69,611.59 L163.9,612.03 L164.1,612.44 L164.26,612.72 L164.31,612.81 L164.52,613.17 L164.72,613.51 L164.93,613.83 L165.14,614.14 L165.34,614.44 L165.55,614.73 L165.76,615 L165.96,615.27 L166.17,615.53 L166.38,615.78 L166.59,616.02 L166.79,616.26 L167,616.49 L167.21,616.72 L167.41,616.95 L167.62,617.18 L167.83,617.41 L168.03,617.64 L168.24,617.88 L168.45,618.11 L168.56,618.25 L168.65,618.35 L168.86,618.58 L169.07,618.8 L169.28,619.02 L169.48,619.23 L169.69,619.43 L169.9,619.64 L170.1,619.84 L170.31,620.05 L170.52,620.27 L170.72,620.49 L170.93,620.72 L171.14,620.96 L171.34,621.22 L171.49,621.4 L171.55,621.49 L171.76,621.8 L171.96,622.15 L172.17,622.53 L172.38,622.93 L172.59,623.35 L172.79,623.77 L173,624.18 L173.21,624.59 L173.41,624.97 L173.62,625.33 L173.83,625.64 L174.03,625.92 L174.24,626.13 L174.25,626.14 L174.45,626.32 L174.65,626.5 L174.86,626.68 L175.07,626.86 L175.28,627.01 L175.48,627.15 L175.69,627.27 L175.9,627.37 L176.1,627.43 L176.31,627.46 L176.36,627.46 L176.52,627.45 L176.72,627.43 L176.93,627.4 L177.14,627.35 L177.34,627.3 L177.55,627.23 L177.76,627.16 L177.96,627.09 L178.17,627.01 L178.38,626.93 L178.59,626.85 L178.79,626.78 L179,626.71 L179.12,626.67 L179.21,626.64 L179.41,626.57 L179.62,626.49 L179.83,626.4 L180.03,626.31 L180.24,626.22 L180.45,626.14 L180.65,626.06 L180.86,625.99 L181.07,625.94 L181.28,625.9 L181.48,625.88 L181.56,625.88 L181.69,625.88 L181.9,625.92 L182.1,625.99 L182.31,626.07 L182.52,626.18 L182.72,626.31 L182.93,626.44 L183.14,626.59 L183.34,626.73 L183.55,626.87 L183.76,627.01 L183.97,627.14 L184.17,627.25 L184.38,627.34 L184.59,627.41 L184.79,627.46 L184.81,627.46 L185,627.48 L185.21,627.5 L185.41,627.52 L185.62,627.53 L185.83,627.55 L186.03,627.56 L186.24,627.57 L186.45,627.58 L186.65,627.59 L186.86,627.6 L187.07,627.61 L187.28,627.62 L187.48,627.63 L187.69,627.64 L187.9,627.65 L188.1,627.66 L188.31,627.67 L188.52,627.69 L188.72,627.71 L188.88,627.72 L188.93,627.73 L189.14,627.75 L189.34,627.78 L189.55,627.81 L189.76,627.84 L189.97,627.88 L190.17,627.91 L190.38,627.96 L190.59,628 L190.79,628.04 L191,628.09 L191.21,628.13 L191.41,628.18 L191.62,628.23 L191.83,628.27 L192.03,628.32 L192.24,628.37 L192.45,628.41 L192.66,628.45 L192.86,628.5 L192.94,628.51 L193.07,628.54 L193.28,628.58 L193.48,628.62 L193.69,628.66 L193.9,628.7 L194.1,628.74 L194.31,628.78 L194.52,628.82 L194.72,628.86 L194.93,628.9 L195.14,628.94 L195.34,628.98 L195.55,629.02 L195.76,629.06 L195.97,629.1 L196.17,629.14 L196.38,629.18 L196.59,629.22 L196.79,629.26 L197,629.3" fill="none" stroke="#0000ff" stroke-width="1.3" stroke-linejoin="round"/>
<text x="58.8" y="487.6" font-size="7.5" text-anchor="middle" fill="#ff0000" stroke="#ff0000" stroke-width="0.06" font-family='"Liberation Sans", sans-serif'># 447</text>
<text x="58.8" y="495.5" font-size="7.5" text-anchor="middle" fill="#ff0000" stroke="#ff0000" stroke-width="0.06" font-family='"Liberation Sans", sans-serif'>378 Kb</text>
<text x="58.8" y="508.4" font-size="7.5" text-anchor="middle" fill="#00ff00" stroke="#00ff00" stroke-width="0.06" font-family='"Liberation Sans", sans-serif'># 177</text>
<text x="58.8" y="516.3" font-size="7.5" text-anchor="middle" fill="#00ff00" stroke="#00ff00" stroke-width="0.06" font-family='"Liberation Sans", sans-serif'>164 Kb</text>
<text x="58.8" y="529.2" font-size="7.5" text-anchor="middle" fill="#0000ff" stroke="#0000ff" stroke-width="0.06" font-family='"Liberation Sans", sans-serif'># 108</text>
<text x="58.8" y="537.1" font-size="7.5" text-anchor="middle" fill="#0000ff" stroke="#0000ff" stroke-width="0.06" font-family='"Liberation Sans", sans-serif'>109 Kb</text>
<text x="173" y="487.6" font-size="7.5" text-anchor="middle" fill="#ff0000" stroke="#ff0000" stroke-width="0.06" font-family='"Liberation Sans", sans-serif'># 822</text>
<text x="173" y="495.5" font-size="7.5" text-anchor="middle" fill="#ff0000" stroke="#ff0000" stroke-width="0.06" font-family='"Liberation Sans", sans-serif'>589 Kb</text>
<text x="173" y="508.4" font-size="7.5" text-anchor="middle" fill="#00ff00" stroke="#00ff00" stroke-width="0.06" font-family='"Liberation Sans", sans-serif'># 972</text>
<text x="173" y="516.3" font-size="7.5" text-anchor="middle" fill="#00ff00" stroke="#00ff00" stroke-width="0.06" font-family='"Liberation Sans", sans-serif'>1047 Kb</text>
<text x="173" y="529.2" font-size="7.5" text-anchor="middle" fill="#0000ff" stroke="#0000ff" stroke-width="0.06" font-family='"Liberation Sans", sans-serif'># 1208</text>
<text x="173" y="537.1" font-size="7.5" text-anchor="middle" fill="#0000ff" stroke="#0000ff" stroke-width="0.06" font-family='"Liberation Sans", sans-serif'>1033 Kb</text>
<rect x="252.5" y="465.5" width="176" height="170" fill="none" stroke="#707070" stroke-width="1"/>
<line x1="269.2" y1="636.5" x2="269.2" y2="638.5" stroke="#707070" stroke-width="0.8"/>
<line x1="311.5" y1="636.5" x2="311.5" y2="638.5" stroke="#707070" stroke-width="0.8"/>
<line x1="353.8" y1="636.5" x2="353.8" y2="638.5" stroke="#707070" stroke-width="0.8"/>
<line x1="396.1" y1="636.5" x2="396.1" y2="638.5" stroke="#707070" stroke-width="0.8"/>
<text x="269.2" y="646.2" font-size="10.2" text-anchor="middle" fill="#000" stroke="#000" stroke-width="0.22" font-family='"Liberation Sans", sans-serif'>0</text>
<text x="311.5" y="646.2" font-size="10.2" text-anchor="middle" fill="#000" stroke="#000" stroke-width="0.22" font-family='"Liberation Sans", sans-serif'>2</text>
<text x="353.8" y="646.2" font-size="10.2" text-anchor="middle" fill="#000" stroke="#000" stroke-width="0.22" font-family='"Liberation Sans", sans-serif'>4</text>
<text x="396.1" y="646.2" font-size="10.2" text-anchor="middle" fill="#000" stroke="#000" stroke-width="0.22" font-family='"Liberation Sans", sans-serif'>6</text>
<line x1="248.9" y1="629.3" x2="251.7" y2="629.3" stroke="#707070" stroke-width="0.8"/>
<line x1="248.9" y1="597.7" x2="251.7" y2="597.7" stroke="#707070" stroke-width="0.8"/>
<line x1="248.9" y1="566.1" x2="251.7" y2="566.1" stroke="#707070" stroke-width="0.8"/>
<line x1="248.9" y1="534.5" x2="251.7" y2="534.5" stroke="#707070" stroke-width="0.8"/>
<line x1="248.9" y1="502.9" x2="251.7" y2="502.9" stroke="#707070" stroke-width="0.8"/>
<line x1="248.9" y1="471.3" x2="251.7" y2="471.3" stroke="#707070" stroke-width="0.8"/>
<text x="245.7" y="629.3" font-size="10.2" text-anchor="middle" fill="#000" stroke="#000" stroke-width="0.22" font-family='"Liberation Sans", sans-serif' transform="rotate(-90 245.7 629.3)">0.0</text>
<text x="245.7" y="597.7" font-size="10.2" text-anchor="middle" fill="#000" stroke="#000" stroke-width="0.22" font-family='"Liberation Sans", sans-serif' transform="rotate(-90 245.7 597.7)">0.1</text>
<text x="245.7" y="566.1" font-size="10.2" text-anchor="middle" fill="#000" stroke="#000" stroke-width="0.22" font-family='"Liberation Sans", sans-serif' transform="rotate(-90 245.7 566.1)">0.2</text>
<text x="245.7" y="534.5" font-size="10.2" text-anchor="middle" fill="#000" stroke="#000" stroke-width="0.22" font-family='"Liberation Sans", sans-serif' transform="rotate(-90 245.7 534.5)">0.3</text>
<text x="245.7" y="502.9" font-size="10.2" text-anchor="middle" fill="#000" stroke="#000" stroke-width="0.22" font-family='"Liberation Sans", sans-serif' transform="rotate(-90 245.7 502.9)">0.4</text>
<text x="245.7" y="471.3" font-size="10.2" text-anchor="middle" fill="#000" stroke="#000" stroke-width="0.22" font-family='"Liberation Sans", sans-serif' transform="rotate(-90 245.7 471.3)">0.5</text>
<text x="340.6" y="657.6" font-size="9.8" text-anchor="middle" fill="#000" stroke="#000" stroke-width="0.22" font-family='"Liberation Sans", sans-serif'>CpG/100 bp</text>
<text x="234" y="550.4" font-size="9.8" text-anchor="middle" fill="#000" stroke="#000" stroke-width="0.22" font-family='"Liberation Sans", sans-serif' transform="rotate(-90 234 550.4)">Density</text>
<text x="258" y="482.8" font-size="18.8" text-anchor="start" fill="#000" stroke="#000" stroke-width="0.22" font-family='"Liberation Sans", sans-serif'>f</text>
<clipPath id="cf"><rect x="252.5" y="465.5" width="176" height="170"/></clipPath>
<line x1="256.51" y1="629.3" x2="428.8" y2="629.3" stroke="#e6e6e6" stroke-width="0.8"/>
<line x1="311.5" y1="465.5" x2="311.5" y2="635.5" stroke="#777" stroke-width="0.9"/>
<line x1="332.65" y1="465.5" x2="332.65" y2="635.5" stroke="#777" stroke-width="0.8" stroke-dasharray="3,2.5"/>
<path d="M258.84,629.3 L259.18,629.26 L259.51,629.22 L259.85,629.16 L260.19,629.09 L260.53,629.02 L260.87,628.94 L261.21,628.85 L261.55,628.76 L261.88,628.66 L262.22,628.55 L262.56,628.45 L262.85,628.35 L262.9,628.34 L263.24,628.22 L263.58,628.1 L263.92,627.96 L264.25,627.82 L264.59,627.67 L264.93,627.51 L265.27,627.33 L265.61,627.15 L265.95,626.95 L266.29,626.74 L266.63,626.51 L266.96,626.27 L267.3,626.02 L267.64,625.75 L267.93,625.51 L267.98,625.46 L268.32,625.13 L268.66,624.71 L269,624.24 L269.33,623.7 L269.67,623.12 L270.01,622.49 L270.35,621.82 L270.69,621.12 L271.03,620.39 L271.37,619.65 L271.71,618.89 L272.04,618.13 L272.38,617.36 L272.72,616.61 L273.06,615.87 L273.4,615.15 L273.43,615.08 L273.74,614.44 L274.08,613.72 L274.41,612.99 L274.75,612.26 L275.09,611.52 L275.43,610.78 L275.77,610.02 L276.11,609.26 L276.45,608.48 L276.79,607.71 L277.12,606.92 L277.46,606.12 L277.8,605.31 L278.14,604.5 L278.48,603.68 L278.82,602.85 L279.16,602 L279.49,601.15 L279.83,600.29 L280.17,599.42 L280.51,598.55 L280.83,597.7 L280.85,597.66 L281.19,596.75 L281.53,595.82 L281.86,594.86 L282.2,593.89 L282.54,592.89 L282.88,591.89 L283.22,590.86 L283.56,589.83 L283.9,588.79 L284.24,587.74 L284.57,586.69 L284.91,585.64 L285.25,584.59 L285.59,583.54 L285.93,582.5 L286.27,581.46 L286.61,580.44 L286.94,579.43 L287.18,578.74 L287.28,578.43 L287.62,577.44 L287.96,576.45 L288.3,575.46 L288.64,574.48 L288.98,573.5 L289.32,572.52 L289.65,571.55 L289.99,570.57 L290.33,569.6 L290.67,568.62 L291.01,567.65 L291.35,566.68 L291.69,565.71 L292.02,564.73 L292.36,563.76 L292.7,562.78 L293.04,561.81 L293.38,560.83 L293.52,560.41 L293.72,559.85 L294.06,558.86 L294.4,557.87 L294.73,556.88 L295.07,555.88 L295.41,554.89 L295.75,553.89 L296.09,552.89 L296.43,551.89 L296.77,550.89 L297.1,549.89 L297.44,548.89 L297.78,547.9 L298.12,546.91 L298.46,545.92 L298.8,544.93 L299.14,543.95 L299.48,542.97 L299.81,541.99 L300.15,541.03 L300.49,540.06 L300.83,539.11 L301.17,538.16 L301.35,537.66 L301.51,537.22 L301.85,536.26 L302.18,535.3 L302.52,534.32 L302.86,533.35 L303.2,532.37 L303.54,531.39 L303.88,530.42 L304.22,529.46 L304.55,528.52 L304.89,527.59 L305.23,526.68 L305.57,525.8 L305.91,524.95 L306.25,524.12 L306.59,523.33 L306.93,522.58 L307.26,521.87 L307.27,521.86 L307.6,521.15 L307.94,520.39 L308.28,519.62 L308.62,518.87 L308.96,518.17 L309.3,517.55 L309.63,517.04 L309.97,516.69 L310.31,516.5 L310.44,516.49 L310.65,516.49 L310.99,516.51 L311.33,516.55 L311.67,516.61 L312.01,516.68 L312.34,516.76 L312.68,516.85 L313.02,516.94 L313.36,517.04 L313.62,517.12 L313.7,517.15 L314.04,517.31 L314.38,517.55 L314.71,517.83 L315.05,518.16 L315.39,518.51 L315.73,518.86 L316.07,519.21 L316.41,519.53 L316.75,519.82 L317.09,520.04 L317.42,520.2 L317.76,520.28 L317.84,520.28 L318.1,520.28 L318.44,520.26 L318.78,520.23 L319.12,520.2 L319.46,520.15 L319.79,520.1 L320.13,520.04 L320.47,519.98 L320.81,519.91 L321.15,519.84 L321.49,519.77 L321.83,519.7 L322.07,519.65 L322.16,519.63 L322.5,519.53 L322.84,519.4 L323.18,519.26 L323.52,519.11 L323.86,518.97 L324.2,518.85 L324.54,518.76 L324.87,518.71 L325.04,518.7 L325.21,518.72 L325.55,518.87 L325.89,519.13 L326.23,519.51 L326.57,519.97 L326.91,520.49 L327.24,521.06 L327.58,521.66 L327.92,522.26 L328.26,522.85 L328.42,523.12 L328.6,523.43 L328.94,524.07 L329.28,524.77 L329.62,525.51 L329.95,526.3 L330.29,527.13 L330.63,527.97 L330.97,528.83 L331.31,529.69 L331.65,530.55 L331.99,531.39 L332.23,531.97 L332.32,532.21 L332.66,533.03 L333,533.87 L333.34,534.71 L333.68,535.56 L334.02,536.42 L334.36,537.27 L334.7,538.11 L335.03,538.94 L335.37,539.76 L335.71,540.56 L335.82,540.82 L336.05,541.34 L336.39,542.07 L336.73,542.78 L337.07,543.47 L337.4,544.15 L337.74,544.82 L338.08,545.5 L338.42,546.19 L338.76,546.9 L339.1,547.65 L339.44,548.43 L339.77,549.26 L340.05,549.98 L340.11,550.15 L340.45,551.11 L340.79,552.13 L341.13,553.22 L341.47,554.37 L341.81,555.57 L342.15,556.82 L342.48,558.1 L342.82,559.42 L343.16,560.77 L343.5,562.14 L343.84,563.53 L344.18,564.92 L344.52,566.32 L344.85,567.72 L345.19,569.11 L345.53,570.48 L345.87,571.83 L346.21,573.16 L346.55,574.45 L346.89,575.71 L347.23,576.92 L347.56,578.08 L347.67,578.42 L347.9,579.2 L348.24,580.32 L348.58,581.43 L348.92,582.54 L349.26,583.64 L349.6,584.74 L349.93,585.83 L350.27,586.9 L350.61,587.97 L350.95,589.03 L351.29,590.08 L351.63,591.11 L351.97,592.13 L352.31,593.12 L352.64,594.11 L352.98,595.07 L353.32,596.01 L353.66,596.93 L354,597.83 L354.34,598.71 L354.68,599.56 L355.01,600.38 L355.35,601.17 L355.49,601.49 L355.69,601.94 L356.03,602.69 L356.37,603.43 L356.71,604.15 L357.05,604.85 L357.38,605.53 L357.72,606.19 L358.06,606.83 L358.4,607.46 L358.74,608.06 L359.08,608.64 L359.42,609.21 L359.76,609.75 L360.09,610.26 L360.14,610.34 L360.43,610.76 L360.77,611.25 L361.11,611.72 L361.45,612.18 L361.79,612.62 L362.13,613.05 L362.46,613.48 L362.8,613.89 L363.14,614.29 L363.48,614.68 L363.82,615.06 L364.16,615.43 L364.5,615.8 L364.84,616.15 L365.17,616.5 L365.51,616.84 L365.64,616.98 L365.85,617.18 L366.19,617.51 L366.53,617.84 L366.87,618.16 L367.21,618.47 L367.54,618.77 L367.88,619.07 L368.22,619.36 L368.56,619.64 L368.9,619.91 L369.24,620.17 L369.58,620.42 L369.92,620.65 L370.09,620.77 L370.25,620.88 L370.59,621.1 L370.93,621.32 L371.27,621.54 L371.61,621.75 L371.95,621.95 L372.29,622.15 L372.62,622.34 L372.96,622.52 L373.3,622.69 L373.64,622.85 L373.98,623 L374.32,623.14 L374.66,623.27 L374.74,623.3 L374.99,623.38 L375.33,623.49 L375.67,623.6 L376.01,623.71 L376.35,623.81 L376.69,623.91 L377.03,624 L377.37,624.09 L377.7,624.18 L378.04,624.26 L378.38,624.34 L378.72,624.42 L379.06,624.49 L379.4,624.56 L379.74,624.63 L380.07,624.69 L380.41,624.75 L380.75,624.8 L381.09,624.85 L381.29,624.88 L381.43,624.89 L381.77,624.94 L382.11,624.98 L382.45,625.01 L382.78,625.05 L383.12,625.08 L383.46,625.12 L383.8,625.15 L384.14,625.18 L384.48,625.2 L384.82,625.23 L385.15,625.26 L385.49,625.29 L385.83,625.31 L386.17,625.34 L386.51,625.36 L386.85,625.39 L387.19,625.42 L387.53,625.44 L387.86,625.47 L388.2,625.5 L388.27,625.51 L388.54,625.53 L388.88,625.56 L389.22,625.59 L389.56,625.61 L389.9,625.64 L390.23,625.67 L390.57,625.7 L390.91,625.73 L391.25,625.76 L391.59,625.79 L391.87,625.82 L391.93,625.83 L392.27,625.87 L392.6,625.92 L392.94,625.98 L393.28,626.03 L393.62,626.1 L393.96,626.16 L394.3,626.23 L394.64,626.3 L394.98,626.38 L395.31,626.45 L395.65,626.53 L395.99,626.6 L396.33,626.68 L396.67,626.76 L397.01,626.83 L397.35,626.91 L397.68,626.98 L398.02,627.05 L398.36,627.11 L398.7,627.17 L399.04,627.23 L399.38,627.28 L399.72,627.33 L400.06,627.37 L400.33,627.4 L400.39,627.41 L400.73,627.44 L401.07,627.48 L401.41,627.51 L401.75,627.54 L402.09,627.58 L402.43,627.61 L402.76,627.64 L403.1,627.67 L403.44,627.71 L403.78,627.74 L404.12,627.77 L404.46,627.8 L404.8,627.83 L405.14,627.86 L405.47,627.89 L405.81,627.91 L406.15,627.94 L406.49,627.97 L406.83,628 L407.17,628.02 L407.51,628.05 L407.84,628.07 L408.18,628.09 L408.52,628.12 L408.86,628.14 L409.2,628.16 L409.54,628.18 L409.88,628.2 L410.21,628.22 L410.55,628.23 L410.89,628.25 L411.23,628.26 L411.57,628.28 L411.91,628.29 L412.25,628.3 L412.59,628.31 L412.92,628.32 L413.26,628.33 L413.6,628.34 L413.94,628.34 L414.28,628.35 L414.62,628.35 L414.96,628.35 L415.13,628.35 L415.29,628.35 L415.63,628.35 L415.97,628.35 L416.31,628.35 L416.65,628.35 L416.99,628.35 L417.33,628.35 L417.67,628.35 L418,628.34 L418.34,628.34 L418.68,628.34 L419.02,628.34 L419.36,628.33 L419.7,628.33 L420.04,628.32 L420.37,628.32 L420.71,628.31 L421.05,628.31 L421.39,628.3 L421.73,628.29 L422.07,628.29 L422.41,628.28 L422.75,628.27 L423.08,628.26 L423.42,628.25 L423.76,628.24 L424.1,628.22 L424.44,628.21 L424.78,628.2 L425.12,628.18 L425.45,628.17 L425.79,628.15 L426.13,628.14 L426.47,628.12 L426.81,628.1 L427.15,628.08 L427.49,628.06 L427.82,628.04" fill="none" stroke="#ff0000" stroke-width="1.3" stroke-linejoin="round" clip-path="url(#cf)"/>
<path d="M258.84,629.3 L259.18,629.25 L259.51,629.2 L259.85,629.15 L260.19,629.1 L260.53,629.05 L260.87,629 L261.21,628.94 L261.55,628.89 L261.88,628.83 L262.22,628.78 L262.56,628.72 L262.85,628.67 L262.9,628.66 L263.24,628.6 L263.58,628.55 L263.92,628.49 L264.25,628.44 L264.59,628.39 L264.93,628.34 L265.27,628.28 L265.61,628.23 L265.95,628.17 L266.29,628.11 L266.63,628.05 L266.96,627.98 L267.3,627.91 L267.64,627.84 L267.98,627.76 L268.32,627.67 L268.66,627.57 L269,627.47 L269.2,627.4 L269.33,627.36 L269.67,627.22 L270.01,627.05 L270.35,626.85 L270.69,626.63 L271.03,626.39 L271.37,626.11 L271.71,625.82 L272.04,625.51 L272.38,625.18 L272.72,624.83 L273.06,624.46 L273.4,624.08 L273.74,623.68 L274.08,623.27 L274.41,622.86 L274.75,622.43 L275.09,621.99 L275.43,621.55 L275.55,621.4 L275.77,621.09 L276.11,620.58 L276.45,620.02 L276.79,619.41 L277.12,618.76 L277.46,618.07 L277.8,617.35 L278.14,616.61 L278.48,615.84 L278.82,615.06 L279.16,614.27 L279.49,613.47 L279.83,612.66 L280.17,611.87 L280.51,611.08 L280.83,610.34 L280.85,610.3 L281.19,609.53 L281.53,608.75 L281.86,607.96 L282.2,607.17 L282.54,606.36 L282.88,605.55 L283.22,604.73 L283.56,603.9 L283.9,603.06 L284.24,602.22 L284.57,601.37 L284.91,600.51 L285.25,599.64 L285.59,598.76 L285.93,597.88 L286.27,596.98 L286.61,596.08 L286.94,595.17 L287.18,594.54 L287.28,594.25 L287.62,593.33 L287.96,592.41 L288.3,591.48 L288.64,590.54 L288.98,589.6 L289.32,588.64 L289.65,587.68 L289.99,586.71 L290.33,585.72 L290.67,584.72 L291.01,583.71 L291.35,582.68 L291.69,581.63 L292.02,580.56 L292.36,579.48 L292.7,578.37 L293.04,577.23 L293.38,576.08 L293.52,575.58 L293.72,574.89 L294.06,573.68 L294.4,572.43 L294.73,571.15 L295.07,569.84 L295.41,568.5 L295.75,567.14 L296.09,565.76 L296.43,564.35 L296.77,562.92 L297.1,561.47 L297.44,560.01 L297.78,558.53 L298.12,557.03 L298.46,555.52 L298.8,554.01 L299.14,552.48 L299.48,550.94 L299.81,549.4 L300.15,547.86 L300.49,546.31 L300.83,544.77 L301.17,543.22 L301.35,542.4 L301.51,541.67 L301.85,540.07 L302.18,538.42 L302.52,536.73 L302.86,535.01 L303.2,533.27 L303.54,531.52 L303.88,529.78 L304.22,528.05 L304.55,526.35 L304.89,524.68 L305.23,523.05 L305.57,521.48 L305.91,519.98 L306.21,518.7 L306.25,518.55 L306.59,517.15 L306.93,515.75 L307.26,514.35 L307.6,512.98 L307.94,511.63 L308.28,510.32 L308.62,509.05 L308.96,507.85 L309.3,506.72 L309.63,505.66 L309.97,504.7 L310.31,503.84 L310.44,503.53 L310.65,503.07 L310.99,502.39 L311.33,501.75 L311.67,501.17 L312.01,500.62 L312.34,500.09 L312.68,499.58 L313.02,499.07 L313.36,498.56 L313.62,498.16 L313.7,498.03 L314.04,497.52 L314.38,497.04 L314.71,496.57 L315.05,496.11 L315.39,495.64 L315.73,495.16 L316.07,494.65 L316.41,494.1 L316.75,493.5 L316.79,493.42 L317.09,492.81 L317.42,492.02 L317.76,491.14 L318.1,490.18 L318.44,489.19 L318.78,488.17 L319.12,487.14 L319.46,486.13 L319.79,485.17 L320.13,484.27 L320.47,483.45 L320.81,482.73 L321.02,482.36 L321.15,482.14 L321.49,481.54 L321.83,480.95 L322.16,480.37 L322.5,479.83 L322.84,479.36 L323.18,478.98 L323.52,478.71 L323.86,478.58 L323.98,478.57 L324.2,478.6 L324.54,478.77 L324.87,479.07 L325.21,479.48 L325.55,479.98 L325.89,480.55 L326.23,481.18 L326.57,481.83 L326.91,482.51 L327.15,482.99 L327.24,483.19 L327.58,484.03 L327.92,485.06 L328.26,486.2 L328.6,487.39 L328.94,488.57 L329.28,489.67 L329.48,490.26 L329.62,490.64 L329.95,491.49 L330.29,492.27 L330.63,493.01 L330.97,493.76 L331.31,494.55 L331.65,495.43 L331.99,496.41 L332.23,497.21 L332.32,497.57 L332.66,498.99 L333,500.69 L333.34,502.6 L333.68,504.69 L334.02,506.89 L334.36,509.17 L334.7,511.48 L335.03,513.76 L335.37,515.97 L335.71,518.05 L335.82,518.7 L336.05,520 L336.39,521.92 L336.73,523.82 L337.07,525.7 L337.4,527.57 L337.74,529.43 L338.08,531.28 L338.42,533.13 L338.76,534.98 L339.1,536.83 L339.44,538.68 L339.77,540.55 L340.05,542.08 L340.11,542.42 L340.45,544.31 L340.79,546.21 L341.13,548.11 L341.47,550.01 L341.81,551.91 L342.15,553.81 L342.48,555.7 L342.82,557.57 L343.16,559.43 L343.22,559.78 L343.5,561.28 L343.84,563.14 L344.18,564.99 L344.52,566.84 L344.85,568.68 L345.19,570.52 L345.53,572.35 L345.87,574.16 L346.21,575.96 L346.55,577.75 L346.89,579.51 L347.23,581.25 L347.56,582.97 L347.67,583.48 L347.9,584.67 L348.24,586.4 L348.58,588.14 L348.92,589.88 L349.26,591.6 L349.6,593.31 L349.93,594.97 L350.27,596.58 L350.61,598.12 L350.95,599.59 L351.29,600.97 L351.63,602.24 L351.69,602.44 L351.97,603.43 L352.31,604.62 L352.64,605.78 L352.98,606.92 L353.32,608.01 L353.66,609.05 L354,610.02 L354.34,610.91 L354.68,611.71 L355.01,612.4 L355.35,612.98 L355.49,613.18 L355.69,613.45 L356.03,613.86 L356.37,614.24 L356.71,614.58 L357.05,614.89 L357.38,615.18 L357.72,615.45 L358.06,615.71 L358.4,615.96 L358.74,616.2 L359.08,616.45 L359.42,616.7 L359.76,616.97 L360.09,617.25 L360.14,617.29 L360.43,617.54 L360.77,617.84 L361.11,618.14 L361.45,618.43 L361.79,618.73 L362.13,619.03 L362.46,619.32 L362.8,619.62 L363.14,619.91 L363.48,620.21 L363.82,620.5 L364.16,620.79 L364.5,621.08 L364.84,621.36 L365.17,621.64 L365.51,621.92 L365.64,622.03 L365.85,622.2 L366.19,622.49 L366.53,622.78 L366.87,623.08 L367.21,623.37 L367.54,623.66 L367.88,623.95 L368.22,624.23 L368.56,624.5 L368.9,624.75 L369.24,624.99 L369.58,625.22 L369.92,625.42 L370.09,625.51 L370.25,625.6 L370.59,625.77 L370.93,625.95 L371.27,626.12 L371.61,626.29 L371.95,626.45 L372.29,626.6 L372.62,626.75 L372.96,626.89 L373.3,627.01 L373.64,627.12 L373.98,627.22 L374.32,627.3 L374.66,627.36 L374.95,627.4 L374.99,627.41 L375.33,627.45 L375.67,627.48 L376.01,627.52 L376.35,627.55 L376.69,627.58 L377.03,627.61 L377.37,627.64 L377.7,627.67 L378.04,627.69 L378.38,627.72 L378.72,627.74 L379.06,627.77 L379.4,627.79 L379.74,627.81 L380.07,627.83 L380.41,627.85 L380.75,627.86 L381.09,627.88 L381.43,627.9 L381.77,627.91 L382.11,627.93 L382.45,627.94 L382.78,627.95 L383.12,627.96 L383.46,627.98 L383.8,627.99 L384.14,628 L384.48,628.01 L384.82,628.02 L385.15,628.03 L385.49,628.04 L385.52,628.04 L385.83,628.04 L386.17,628.05 L386.51,628.06 L386.85,628.07 L387.19,628.08 L387.53,628.09 L387.86,628.09 L388.2,628.1 L388.54,628.11 L388.88,628.12 L389.22,628.13 L389.56,628.13 L389.9,628.14 L390.23,628.15 L390.57,628.16 L390.91,628.16 L391.25,628.17 L391.59,628.18 L391.93,628.19 L392.27,628.19 L392.6,628.2 L392.94,628.21 L393.28,628.21 L393.62,628.22 L393.96,628.22 L394.3,628.23 L394.64,628.24 L394.98,628.24 L395.31,628.25 L395.65,628.25 L395.99,628.26 L396.33,628.27 L396.67,628.27 L397.01,628.28 L397.35,628.28 L397.68,628.29 L398.02,628.29 L398.36,628.29 L398.7,628.3 L399.04,628.3 L399.38,628.31 L399.72,628.31 L400.06,628.31 L400.39,628.32 L400.73,628.32 L401.07,628.33 L401.41,628.33 L401.75,628.33 L402.09,628.33 L402.43,628.34 L402.76,628.34 L403.1,628.34 L403.44,628.34 L403.78,628.34 L404.12,628.35 L404.46,628.35 L404.8,628.35 L405.14,628.35 L405.47,628.35 L405.81,628.35 L406.15,628.35 L406.49,628.35 L406.67,628.35 L406.83,628.35 L407.17,628.35 L407.51,628.35 L407.84,628.35 L408.18,628.35 L408.52,628.35 L408.86,628.35 L409.2,628.35 L409.54,628.35 L409.88,628.35 L410.21,628.35 L410.55,628.35 L410.89,628.35 L411.23,628.35 L411.57,628.35 L411.91,628.35 L412.25,628.35 L412.59,628.35 L412.92,628.35 L413.26,628.35 L413.6,628.35 L413.94,628.35 L414.28,628.35 L414.62,628.35 L414.96,628.35 L415.29,628.35 L415.63,628.35 L415.97,628.35 L416.31,628.35 L416.65,628.35 L416.99,628.35 L417.33,628.35 L417.67,628.35 L418,628.35 L418.34,628.35 L418.68,628.35 L419.02,628.35 L419.36,628.35 L419.7,628.35 L420.04,628.35 L420.37,628.35 L420.71,628.35 L421.05,628.35 L421.39,628.35 L421.73,628.35 L422.07,628.35 L422.41,628.35 L422.75,628.35 L423.08,628.35 L423.42,628.35 L423.76,628.35 L424.1,628.35 L424.44,628.35 L424.78,628.35 L425.12,628.35 L425.45,628.35 L425.79,628.35 L426.13,628.35 L426.47,628.35 L426.81,628.35 L427.15,628.35 L427.49,628.35 L427.82,628.35" fill="none" stroke="#00ff00" stroke-width="1.3" stroke-linejoin="round" clip-path="url(#cf)"/>
<path d="M258.84,629.3 L259.18,629.28 L259.52,629.26 L259.87,629.22 L260.21,629.18 L260.55,629.13 L260.89,629.07 L261.24,629.01 L261.58,628.94 L261.92,628.87 L262.27,628.8 L262.61,628.72 L262.85,628.67 L262.95,628.65 L263.29,628.56 L263.64,628.47 L263.98,628.37 L264.32,628.25 L264.67,628.13 L265.01,628 L265.35,627.86 L265.69,627.71 L266.04,627.55 L266.38,627.38 L266.72,627.19 L267.07,627 L267.41,626.79 L267.75,626.57 L267.93,626.46 L268.09,626.34 L268.44,626.05 L268.78,625.71 L269.12,625.31 L269.47,624.87 L269.81,624.4 L270.15,623.88 L270.49,623.34 L270.84,622.77 L271.18,622.19 L271.52,621.59 L271.87,620.98 L272.21,620.37 L272.55,619.76 L272.9,619.15 L273.24,618.56 L273.43,618.24 L273.58,617.99 L273.92,617.41 L274.27,616.83 L274.61,616.24 L274.95,615.64 L275.3,615.04 L275.64,614.43 L275.98,613.81 L276.32,613.19 L276.67,612.56 L277.01,611.91 L277.35,611.26 L277.7,610.6 L278.04,609.93 L278.38,609.25 L278.72,608.55 L279.07,607.85 L279.41,607.13 L279.75,606.4 L280.1,605.66 L280.44,604.9 L280.78,604.14 L280.83,604.02 L281.12,603.35 L281.47,602.53 L281.81,601.69 L282.15,600.83 L282.5,599.95 L282.84,599.05 L283.18,598.12 L283.52,597.19 L283.87,596.24 L284.21,595.27 L284.55,594.29 L284.9,593.31 L285.24,592.32 L285.58,591.32 L285.93,590.31 L286.27,589.31 L286.61,588.3 L286.95,587.3 L287.18,586.64 L287.3,586.29 L287.64,585.27 L287.98,584.25 L288.33,583.2 L288.67,582.15 L289.01,581.08 L289.35,580.01 L289.7,578.93 L290.04,577.84 L290.38,576.75 L290.73,575.65 L291.07,574.56 L291.41,573.46 L291.75,572.36 L292.1,571.26 L292.44,570.16 L292.78,569.07 L293.13,567.98 L293.47,566.9 L293.52,566.73 L293.81,565.82 L294.15,564.71 L294.5,563.59 L294.84,562.46 L295.18,561.33 L295.53,560.2 L295.87,559.09 L296.21,557.99 L296.55,556.92 L296.9,555.88 L297.24,554.87 L297.58,553.91 L297.75,553.46 L297.93,553 L298.27,552.1 L298.61,551.2 L298.95,550.32 L299.3,549.45 L299.64,548.59 L299.98,547.75 L300.33,546.93 L300.67,546.14 L301.01,545.37 L301.36,544.62 L301.7,543.91 L302.04,543.23 L302.38,542.58 L302.73,541.97 L303.04,541.45 L303.07,541.4 L303.41,540.88 L303.76,540.39 L304.1,539.94 L304.44,539.52 L304.78,539.11 L305.13,538.72 L305.47,538.33 L305.81,537.94 L306.16,537.54 L306.5,537.12 L306.84,536.68 L307.18,536.2 L307.27,536.08 L307.53,535.71 L307.87,535.21 L308.21,534.72 L308.56,534.21 L308.9,533.67 L309.24,533.11 L309.58,532.5 L309.93,531.83 L310.27,531.1 L310.44,530.71 L310.61,530.28 L310.96,529.25 L311.3,528.03 L311.64,526.68 L311.98,525.24 L312.33,523.76 L312.67,522.29 L313.01,520.88 L313.36,519.58 L313.62,518.7 L313.7,518.43 L314.04,517.36 L314.39,516.32 L314.73,515.32 L315.07,514.35 L315.41,513.41 L315.76,512.49 L316.1,511.59 L316.44,510.72 L316.79,509.86 L316.79,509.85 L317.13,508.95 L317.47,507.97 L317.81,506.94 L318.16,505.92 L318.5,504.95 L318.84,504.07 L319.19,503.32 L319.53,502.74 L319.87,502.38 L320.17,502.27 L320.21,502.27 L320.56,502.31 L320.9,502.4 L321.24,502.54 L321.59,502.72 L321.93,502.93 L322.27,503.17 L322.61,503.41 L322.96,503.66 L323.3,503.91 L323.64,504.15 L323.99,504.36 L324.19,504.48 L324.33,504.55 L324.67,504.72 L325.01,504.88 L325.36,505.03 L325.7,505.19 L326.04,505.35 L326.39,505.54 L326.73,505.75 L327.07,506 L327.15,506.06 L327.42,506.3 L327.76,506.69 L328.1,507.16 L328.44,507.7 L328.79,508.3 L329.13,508.97 L329.47,509.69 L329.82,510.45 L330.16,511.25 L330.5,512.09 L330.84,512.94 L331.19,513.81 L331.53,514.69 L331.87,515.58 L332.22,516.46 L332.23,516.49 L332.56,517.37 L332.9,518.37 L333.24,519.43 L333.59,520.54 L333.93,521.69 L334.27,522.87 L334.62,524.06 L334.96,525.25 L335.3,526.43 L335.64,527.59 L335.82,528.18 L335.99,528.72 L336.33,529.82 L336.67,530.91 L337.02,531.99 L337.36,533.07 L337.7,534.15 L338.04,535.24 L338.39,536.34 L338.73,537.47 L339.07,538.62 L339.42,539.8 L339.76,541.01 L340.05,542.08 L340.1,542.27 L340.44,543.58 L340.79,544.95 L341.13,546.38 L341.47,547.85 L341.82,549.36 L342.16,550.9 L342.5,552.47 L342.85,554.07 L343.19,555.68 L343.53,557.31 L343.87,558.94 L344.22,560.56 L344.56,562.19 L344.9,563.79 L345.25,565.39 L345.59,566.95 L345.93,568.49 L346.27,569.99 L346.62,571.44 L346.96,572.85 L347.3,574.21 L347.65,575.5 L347.67,575.58 L347.99,576.76 L348.33,578 L348.67,579.23 L349.02,580.44 L349.36,581.64 L349.7,582.82 L350.05,583.99 L350.39,585.14 L350.73,586.28 L351.07,587.4 L351.42,588.51 L351.76,589.59 L352.1,590.66 L352.45,591.72 L352.79,592.75 L353.13,593.77 L353.47,594.76 L353.82,595.74 L354.16,596.7 L354.5,597.64 L354.85,598.56 L355.19,599.45 L355.49,600.23 L355.53,600.33 L355.88,601.19 L356.22,602.03 L356.56,602.86 L356.9,603.67 L357.25,604.46 L357.59,605.24 L357.93,605.99 L358.28,606.73 L358.62,607.44 L358.96,608.13 L359.3,608.8 L359.65,609.45 L359.99,610.07 L360.14,610.34 L360.33,610.67 L360.68,611.26 L361.02,611.86 L361.36,612.44 L361.7,613.02 L362.05,613.59 L362.39,614.15 L362.73,614.69 L363.08,615.21 L363.42,615.71 L363.76,616.18 L364.1,616.63 L364.45,617.05 L364.79,617.43 L365.13,617.79 L365.48,618.1 L365.64,618.24 L365.82,618.38 L366.16,618.63 L366.5,618.87 L366.85,619.1 L367.19,619.31 L367.53,619.5 L367.88,619.69 L368.22,619.87 L368.56,620.04 L368.91,620.21 L369.25,620.37 L369.59,620.53 L369.93,620.7 L370.09,620.77 L370.28,620.86 L370.62,621.02 L370.96,621.17 L371.31,621.32 L371.65,621.46 L371.99,621.61 L372.33,621.75 L372.68,621.88 L373.02,622.02 L373.36,622.15 L373.71,622.28 L374.05,622.41 L374.39,622.53 L374.73,622.66 L374.74,622.66 L375.08,622.79 L375.42,622.91 L375.76,623.04 L376.11,623.16 L376.45,623.28 L376.79,623.41 L377.13,623.52 L377.48,623.64 L377.82,623.76 L378.16,623.88 L378.51,623.99 L378.85,624.1 L379.19,624.22 L379.53,624.33 L379.88,624.44 L380.22,624.55 L380.56,624.65 L380.91,624.76 L381.25,624.86 L381.29,624.88 L381.59,624.97 L381.94,625.07 L382.28,625.18 L382.62,625.29 L382.96,625.4 L383.31,625.51 L383.65,625.62 L383.99,625.73 L384.34,625.84 L384.68,625.94 L385.02,626.05 L385.36,626.14 L385.71,626.24 L386.05,626.33 L386.39,626.42 L386.74,626.5 L387.08,626.57 L387.42,626.64 L387.76,626.7 L388.11,626.75 L388.27,626.77 L388.45,626.79 L388.79,626.84 L389.14,626.88 L389.48,626.91 L389.82,626.95 L390.16,626.99 L390.51,627.02 L390.85,627.05 L391.19,627.08 L391.54,627.11 L391.88,627.14 L392.22,627.17 L392.56,627.19 L392.91,627.22 L393.25,627.24 L393.59,627.27 L393.94,627.29 L394.28,627.31 L394.62,627.34 L394.96,627.36 L395.31,627.38 L395.65,627.4 L395.99,627.42 L396.34,627.44 L396.68,627.47 L397.02,627.49 L397.37,627.51 L397.71,627.53 L398.05,627.55 L398.39,627.58 L398.74,627.6 L399.08,627.62 L399.42,627.65 L399.77,627.68 L400.11,627.7 L400.33,627.72 L400.45,627.73 L400.79,627.76 L401.14,627.79 L401.48,627.82 L401.82,627.85 L402.17,627.89 L402.51,627.92 L402.85,627.96 L403.19,628 L403.54,628.03 L403.88,628.07 L404.22,628.11 L404.57,628.15 L404.91,628.19 L405.25,628.23 L405.59,628.26 L405.94,628.3 L406.28,628.34 L406.62,628.38 L406.97,628.42 L407.31,628.46 L407.65,628.49 L407.99,628.53 L408.34,628.57 L408.68,628.6 L409.02,628.64 L409.37,628.67 L409.71,628.7 L410.05,628.73 L410.4,628.76 L410.74,628.79 L411.08,628.82 L411.42,628.84 L411.77,628.87 L412.11,628.89 L412.45,628.91 L412.8,628.92 L413.14,628.94 L413.48,628.95 L413.82,628.96 L414.17,628.97 L414.51,628.98 L414.85,628.98 L415.13,628.98 L415.2,628.98 L415.54,628.98 L415.88,628.98 L416.22,628.98 L416.57,628.98 L416.91,628.97 L417.25,628.97 L417.6,628.96 L417.94,628.95 L418.28,628.95 L418.62,628.94 L418.97,628.93 L419.31,628.92 L419.65,628.91 L420,628.89 L420.34,628.88 L420.68,628.86 L421.02,628.85 L421.37,628.83 L421.71,628.81 L422.05,628.8 L422.4,628.78 L422.74,628.75 L423.08,628.73 L423.43,628.71 L423.77,628.68 L424.11,628.66 L424.45,628.63 L424.8,628.6 L425.14,628.57 L425.48,628.54 L425.83,628.51 L426.17,628.48 L426.51,628.45 L426.85,628.41 L427.2,628.37 L427.54,628.34 L427.88,628.3 L428.23,628.26 L428.57,628.22 L428.91,628.17 L429.25,628.13 L429.6,628.08 L429.94,628.04" fill="none" stroke="#0000ff" stroke-width="1.3" stroke-linejoin="round" clip-path="url(#cf)"/>
<text x="257.1" y="490.2" font-size="7.4" text-anchor="start" fill="#ff0000" stroke="#ff0000" stroke-width="0.06" font-family='"Liberation Sans", sans-serif'># 485 (38%)</text>
<text x="354.8" y="490.2" font-size="7.4" text-anchor="start" fill="#ff0000" stroke="#ff0000" stroke-width="0.06" font-family='"Liberation Sans", sans-serif'># 920 (72%)</text>
<text x="257.1" y="506" font-size="7.4" text-anchor="start" fill="#00ff00" stroke="#00ff00" stroke-width="0.06" font-family='"Liberation Sans", sans-serif'># 346 (30%)</text>
<text x="354.8" y="506" font-size="7.4" text-anchor="start" fill="#00ff00" stroke="#00ff00" stroke-width="0.06" font-family='"Liberation Sans", sans-serif'># 880 (77%)</text>
<text x="257.1" y="521.8" font-size="7.4" text-anchor="start" fill="#0000ff" stroke="#0000ff" stroke-width="0.06" font-family='"Liberation Sans", sans-serif'># 410 (31%)</text>
<text x="354.8" y="521.8" font-size="7.4" text-anchor="start" fill="#0000ff" stroke="#0000ff" stroke-width="0.06" font-family='"Liberation Sans", sans-serif'># 918 (70%)</text>
<rect x="483.5" y="445.5" width="165.1" height="17.9" fill="#fff" stroke="#707070" stroke-width="1"/>
<rect x="489.9" y="452.05" width="5.6" height="4.8" fill="#ffa500" stroke="#444" stroke-width="0.5"/>
<text x="502.3" y="457.15" font-size="7.35" text-anchor="start" fill="#111" stroke="#111" stroke-width="0.16" font-family='"Liberation Sans", sans-serif'>Hyper−Methylation</text>
<rect x="571" y="452.05" width="5.6" height="4.8" fill="#add8e6" stroke="#444" stroke-width="0.5"/>
<text x="583.4" y="457.15" font-size="7.35" text-anchor="start" fill="#111" stroke="#111" stroke-width="0.16" font-family='"Liberation Sans", sans-serif'>Hypo−Methylation</text>
<rect x="476.5" y="465.5" width="176" height="170" fill="none" stroke="#707070" stroke-width="1"/>
<line x1="510.5" y1="636" x2="510.5" y2="638.5" stroke="#707070" stroke-width="0.8"/>
<line x1="564.7" y1="636" x2="564.7" y2="638.5" stroke="#707070" stroke-width="0.8"/>
<line x1="619.3" y1="636" x2="619.3" y2="638.5" stroke="#707070" stroke-width="0.8"/>
<text x="510.5" y="646.4" font-size="10.5" text-anchor="middle" fill="#000" stroke="#000" stroke-width="0.22" font-family='"Liberation Sans", sans-serif'>UD5</text>
<text x="564.7" y="646.4" font-size="10.5" text-anchor="middle" fill="#000" stroke="#000" stroke-width="0.22" font-family='"Liberation Sans", sans-serif'>UD10</text>
<text x="619.3" y="646.4" font-size="10.5" text-anchor="middle" fill="#000" stroke="#000" stroke-width="0.22" font-family='"Liberation Sans", sans-serif'>AML2</text>
<line x1="472.9" y1="602.4" x2="475.7" y2="602.4" stroke="#707070" stroke-width="0.8"/>
<text transform="rotate(-90 470.4 602.4)" x="470.4" y="602.4" font-size="10.2" font-family='"Liberation Sans", sans-serif' text-anchor="middle" stroke="#000" stroke-width="0.22">10<tspan font-size="6.6" dy="-5.6">2</tspan></text>
<line x1="472.9" y1="550.4" x2="475.7" y2="550.4" stroke="#707070" stroke-width="0.8"/>
<text transform="rotate(-90 470.4 550.4)" x="470.4" y="550.4" font-size="10.2" font-family='"Liberation Sans", sans-serif' text-anchor="middle" stroke="#000" stroke-width="0.22">10<tspan font-size="6.6" dy="-5.6">3</tspan></text>
<line x1="472.9" y1="498.4" x2="475.7" y2="498.4" stroke="#707070" stroke-width="0.8"/>
<text transform="rotate(-90 470.4 498.4)" x="470.4" y="498.4" font-size="10.2" font-family='"Liberation Sans", sans-serif' text-anchor="middle" stroke="#000" stroke-width="0.22">10<tspan font-size="6.6" dy="-5.6">4</tspan></text>
<line x1="476" y1="465.5" x2="476" y2="636" stroke="#c4c4c4" stroke-width="1.5"/>
<text x="458.1" y="550.3" font-size="9.8" text-anchor="middle" fill="#000" stroke="#000" stroke-width="0.22" font-family='"Liberation Sans", sans-serif' transform="rotate(-90 458.1 550.3)">Size (bp)</text>
<text x="487.3" y="483" font-size="18.8" text-anchor="start" fill="#000" stroke="#000" stroke-width="0.22" font-family='"Liberation Sans", sans-serif'>g</text>
<line x1="537.3" y1="465.5" x2="537.3" y2="635.5" stroke="#6a6aff" stroke-width="0.8" stroke-dasharray="1.6,1.6"/>
<line x1="591.8" y1="465.5" x2="591.8" y2="635.5" stroke="#6a6aff" stroke-width="0.8" stroke-dasharray="1.6,1.6"/>
<path d="M497.11,512 L497.13,512.48 L497.15,512.96 L497.18,513.44 L497.2,513.93 L497.23,514.41 L497.26,514.89 L497.29,515.37 L497.33,515.85 L497.36,516.33 L497.4,516.82 L497.44,517.3 L497.48,517.78 L497.53,518.26 L497.57,518.74 L497.62,519.22 L497.67,519.71 L497.73,520.19 L497.78,520.67 L497.84,521.15 L497.9,521.63 L497.97,522.11 L498.03,522.59 L498.11,523.08 L498.18,523.56 L498.25,524.04 L498.33,524.52 L498.42,525 L498.5,525.48 L498.59,525.97 L498.68,526.45 L498.78,526.93 L498.88,527.41 L498.98,527.89 L499.09,528.37 L499.19,528.85 L499.31,529.34 L499.42,529.82 L499.54,530.3 L499.67,530.78 L499.79,531.26 L499.92,531.74 L500.05,532.23 L500.19,532.71 L500.33,533.19 L500.47,533.67 L500.62,534.15 L500.76,534.63 L500.91,535.12 L501.07,535.6 L501.22,536.08 L501.38,536.56 L501.54,537.04 L501.71,537.52 L501.87,538 L502.04,538.49 L502.21,538.97 L502.38,539.45 L502.55,539.93 L502.72,540.41 L502.89,540.89 L503.06,541.38 L503.24,541.86 L503.41,542.34 L503.59,542.82 L503.76,543.3 L503.93,543.78 L504.1,544.26 L504.27,544.75 L504.44,545.23 L504.61,545.71 L504.77,546.19 L504.93,546.67 L505.09,547.15 L505.25,547.64 L505.41,548.12 L505.56,548.6 L505.7,549.08 L505.84,549.56 L505.98,550.04 L506.12,550.53 L506.24,551.01 L506.37,551.49 L506.49,551.97 L506.6,552.45 L506.71,552.93 L506.81,553.41 L506.9,553.9 L506.99,554.38 L507.07,554.86 L507.15,555.34 L507.22,555.82 L507.28,556.3 L507.33,556.79 L507.38,557.27 L507.42,557.75 L507.45,558.23 L507.47,558.71 L507.49,559.19 L507.5,559.67 L507.5,560.16 L507.49,560.64 L507.48,561.12 L507.46,561.6 L507.43,562.08 L507.4,562.56 L507.36,563.05 L507.31,563.53 L507.25,564.01 L507.19,564.49 L507.12,564.97 L507.05,565.45 L506.96,565.94 L506.88,566.42 L506.78,566.9 L506.68,567.38 L506.58,567.86 L506.47,568.34 L506.35,568.82 L506.23,569.31 L506.1,569.79 L505.97,570.27 L505.84,570.75 L505.7,571.23 L505.56,571.71 L505.41,572.2 L505.26,572.68 L505.11,573.16 L504.95,573.64 L504.8,574.12 L504.64,574.6 L504.47,575.08 L504.31,575.57 L504.14,576.05 L503.98,576.53 L503.81,577.01 L503.64,577.49 L503.47,577.97 L503.31,578.46 L503.14,578.94 L502.97,579.42 L502.8,579.9 L502.63,580.38 L502.47,580.86 L502.3,581.35 L502.13,581.83 L501.97,582.31 L501.81,582.79 L501.65,583.27 L501.49,583.75 L501.34,584.23 L501.18,584.72 L501.03,585.2 L500.88,585.68 L500.74,586.16 L500.59,586.64 L500.45,587.12 L500.31,587.61 L500.18,588.09 L500.05,588.57 L499.92,589.05 L499.79,589.53 L499.67,590.01 L499.55,590.49 L499.43,590.98 L499.32,591.46 L499.21,591.94 L499.1,592.42 L499,592.9 L498.9,593.38 L498.8,593.87 L498.71,594.35 L498.62,594.83 L498.53,595.31 L498.45,595.79 L498.37,596.27 L498.29,596.76 L498.21,597.24 L498.14,597.72 L498.4,598.2 L495.2,598.2 L495.46,597.72 L495.39,597.24 L495.31,596.76 L495.23,596.27 L495.15,595.79 L495.07,595.31 L494.98,594.83 L494.89,594.35 L494.8,593.87 L494.7,593.38 L494.6,592.9 L494.5,592.42 L494.39,591.94 L494.28,591.46 L494.17,590.98 L494.05,590.49 L493.93,590.01 L493.81,589.53 L493.68,589.05 L493.55,588.57 L493.42,588.09 L493.29,587.61 L493.15,587.12 L493.01,586.64 L492.86,586.16 L492.72,585.68 L492.57,585.2 L492.42,584.72 L492.26,584.23 L492.11,583.75 L491.95,583.27 L491.79,582.79 L491.63,582.31 L491.47,581.83 L491.3,581.35 L491.13,580.86 L490.97,580.38 L490.8,579.9 L490.63,579.42 L490.46,578.94 L490.29,578.46 L490.13,577.97 L489.96,577.49 L489.79,577.01 L489.62,576.53 L489.46,576.05 L489.29,575.57 L489.13,575.08 L488.96,574.6 L488.8,574.12 L488.65,573.64 L488.49,573.16 L488.34,572.68 L488.19,572.2 L488.04,571.71 L487.9,571.23 L487.76,570.75 L487.63,570.27 L487.5,569.79 L487.37,569.31 L487.25,568.82 L487.13,568.34 L487.02,567.86 L486.92,567.38 L486.82,566.9 L486.72,566.42 L486.64,565.94 L486.55,565.45 L486.48,564.97 L486.41,564.49 L486.35,564.01 L486.29,563.53 L486.24,563.05 L486.2,562.56 L486.17,562.08 L486.14,561.6 L486.12,561.12 L486.11,560.64 L486.1,560.16 L486.1,559.67 L486.11,559.19 L486.13,558.71 L486.15,558.23 L486.18,557.75 L486.22,557.27 L486.27,556.79 L486.32,556.3 L486.38,555.82 L486.45,555.34 L486.53,554.86 L486.61,554.38 L486.7,553.9 L486.79,553.41 L486.89,552.93 L487,552.45 L487.11,551.97 L487.23,551.49 L487.36,551.01 L487.48,550.53 L487.62,550.04 L487.76,549.56 L487.9,549.08 L488.04,548.6 L488.19,548.12 L488.35,547.64 L488.51,547.15 L488.67,546.67 L488.83,546.19 L488.99,545.71 L489.16,545.23 L489.33,544.75 L489.5,544.26 L489.67,543.78 L489.84,543.3 L490.01,542.82 L490.19,542.34 L490.36,541.86 L490.54,541.38 L490.71,540.89 L490.88,540.41 L491.05,539.93 L491.22,539.45 L491.39,538.97 L491.56,538.49 L491.73,538 L491.89,537.52 L492.06,537.04 L492.22,536.56 L492.38,536.08 L492.53,535.6 L492.69,535.12 L492.84,534.63 L492.98,534.15 L493.13,533.67 L493.27,533.19 L493.41,532.71 L493.55,532.23 L493.68,531.74 L493.81,531.26 L493.93,530.78 L494.06,530.3 L494.18,529.82 L494.29,529.34 L494.41,528.85 L494.51,528.37 L494.62,527.89 L494.72,527.41 L494.82,526.93 L494.92,526.45 L495.01,525.97 L495.1,525.48 L495.18,525 L495.27,524.52 L495.35,524.04 L495.42,523.56 L495.49,523.08 L495.57,522.59 L495.63,522.11 L495.7,521.63 L495.76,521.15 L495.82,520.67 L495.87,520.19 L495.93,519.71 L495.98,519.22 L496.03,518.74 L496.07,518.26 L496.12,517.78 L496.16,517.3 L496.2,516.82 L496.24,516.33 L496.27,515.85 L496.31,515.37 L496.34,514.89 L496.37,514.41 L496.4,513.93 L496.42,513.44 L496.45,512.96 L496.47,512.48 L496.49,512 Z" fill="#ffa500" stroke="#333" stroke-width="0.7"/>
<line x1="496.8" y1="502.7" x2="496.8" y2="598.2" stroke="#222" stroke-width="0.7"/>
<rect x="495.55" y="553.6" width="2.5" height="18.2" fill="#000"/>
<ellipse cx="496.8" cy="562.7" rx="1.7" ry="1.25" fill="#fff"/>
<path d="M523.76,512 L523.76,512.45 L523.77,512.9 L523.78,513.35 L523.78,513.8 L523.79,514.25 L523.8,514.71 L523.81,515.16 L523.82,515.61 L523.83,516.06 L523.84,516.51 L523.85,516.96 L523.87,517.41 L523.88,517.86 L523.89,518.31 L523.91,518.76 L523.93,519.21 L523.95,519.66 L523.97,520.12 L523.99,520.57 L524.01,521.02 L524.03,521.47 L524.06,521.92 L524.09,522.37 L524.11,522.82 L524.15,523.27 L524.18,523.72 L524.21,524.17 L524.25,524.62 L524.29,525.07 L524.33,525.53 L524.37,525.98 L524.42,526.43 L524.46,526.88 L524.52,527.33 L524.57,527.78 L524.62,528.23 L524.68,528.68 L524.75,529.13 L524.81,529.58 L524.88,530.03 L524.95,530.48 L525.02,530.94 L525.1,531.39 L525.18,531.84 L525.27,532.29 L525.35,532.74 L525.45,533.19 L525.54,533.64 L525.64,534.09 L525.74,534.54 L525.85,534.99 L525.96,535.44 L526.07,535.89 L526.19,536.35 L526.31,536.8 L526.43,537.25 L526.56,537.7 L526.69,538.15 L526.83,538.6 L526.97,539.05 L527.11,539.5 L527.25,539.95 L527.4,540.4 L527.56,540.85 L527.71,541.3 L527.87,541.76 L528.03,542.21 L528.19,542.66 L528.36,543.11 L528.53,543.56 L528.7,544.01 L528.87,544.46 L529.05,544.91 L529.22,545.36 L529.4,545.81 L529.58,546.26 L529.76,546.71 L529.94,547.17 L530.11,547.62 L530.29,548.07 L530.47,548.52 L530.65,548.97 L530.83,549.42 L531,549.87 L531.18,550.32 L531.35,550.77 L531.52,551.22 L531.69,551.67 L531.86,552.12 L532.02,552.58 L532.17,553.03 L532.33,553.48 L532.48,553.93 L532.63,554.38 L532.77,554.83 L532.9,555.28 L533.03,555.73 L533.16,556.18 L533.28,556.63 L533.39,557.08 L533.5,557.53 L533.59,557.99 L533.69,558.44 L533.77,558.89 L533.85,559.34 L533.92,559.79 L533.98,560.24 L534.04,560.69 L534.09,561.14 L534.13,561.59 L534.16,562.04 L534.18,562.49 L534.19,562.94 L534.2,563.4 L534.2,563.85 L534.18,564.3 L534.16,564.75 L534.13,565.2 L534.09,565.65 L534.03,566.1 L533.97,566.55 L533.9,567 L533.82,567.45 L533.73,567.9 L533.63,568.35 L533.52,568.81 L533.4,569.26 L533.28,569.71 L533.15,570.16 L533.01,570.61 L532.87,571.06 L532.71,571.51 L532.56,571.96 L532.39,572.41 L532.22,572.86 L532.05,573.31 L531.87,573.76 L531.69,574.22 L531.51,574.67 L531.32,575.12 L531.13,575.57 L530.93,576.02 L530.74,576.47 L530.54,576.92 L530.34,577.37 L530.15,577.82 L529.95,578.27 L529.75,578.72 L529.55,579.17 L529.36,579.63 L529.16,580.08 L528.97,580.53 L528.78,580.98 L528.59,581.43 L528.4,581.88 L528.22,582.33 L528.04,582.78 L527.86,583.23 L527.69,583.68 L527.51,584.13 L527.35,584.58 L527.18,585.04 L527.03,585.49 L526.87,585.94 L526.72,586.39 L526.57,586.84 L526.43,587.29 L526.3,587.74 L526.16,588.19 L526.04,588.64 L525.91,589.09 L525.79,589.54 L525.68,589.99 L525.57,590.45 L525.46,590.9 L525.36,591.35 L525.26,591.8 L525.17,592.25 L525.08,592.7 L522.32,592.7 L522.23,592.25 L522.14,591.8 L522.04,591.35 L521.94,590.9 L521.83,590.45 L521.72,589.99 L521.61,589.54 L521.49,589.09 L521.36,588.64 L521.24,588.19 L521.1,587.74 L520.97,587.29 L520.83,586.84 L520.68,586.39 L520.53,585.94 L520.37,585.49 L520.22,585.04 L520.05,584.58 L519.89,584.13 L519.71,583.68 L519.54,583.23 L519.36,582.78 L519.18,582.33 L519,581.88 L518.81,581.43 L518.62,580.98 L518.43,580.53 L518.24,580.08 L518.04,579.63 L517.85,579.17 L517.65,578.72 L517.45,578.27 L517.25,577.82 L517.06,577.37 L516.86,576.92 L516.66,576.47 L516.47,576.02 L516.27,575.57 L516.08,575.12 L515.89,574.67 L515.71,574.22 L515.53,573.76 L515.35,573.31 L515.18,572.86 L515.01,572.41 L514.84,571.96 L514.69,571.51 L514.53,571.06 L514.39,570.61 L514.25,570.16 L514.12,569.71 L514,569.26 L513.88,568.81 L513.77,568.35 L513.67,567.9 L513.58,567.45 L513.5,567 L513.43,566.55 L513.37,566.1 L513.31,565.65 L513.27,565.2 L513.24,564.75 L513.22,564.3 L513.2,563.85 L513.2,563.4 L513.21,562.94 L513.22,562.49 L513.24,562.04 L513.27,561.59 L513.31,561.14 L513.36,560.69 L513.42,560.24 L513.48,559.79 L513.55,559.34 L513.63,558.89 L513.71,558.44 L513.81,557.99 L513.9,557.53 L514.01,557.08 L514.12,556.63 L514.24,556.18 L514.37,555.73 L514.5,555.28 L514.63,554.83 L514.77,554.38 L514.92,553.93 L515.07,553.48 L515.23,553.03 L515.38,552.58 L515.54,552.12 L515.71,551.67 L515.88,551.22 L516.05,550.77 L516.22,550.32 L516.4,549.87 L516.57,549.42 L516.75,548.97 L516.93,548.52 L517.11,548.07 L517.29,547.62 L517.46,547.17 L517.64,546.71 L517.82,546.26 L518,545.81 L518.18,545.36 L518.35,544.91 L518.53,544.46 L518.7,544.01 L518.87,543.56 L519.04,543.11 L519.21,542.66 L519.37,542.21 L519.53,541.76 L519.69,541.3 L519.84,540.85 L520,540.4 L520.15,539.95 L520.29,539.5 L520.43,539.05 L520.57,538.6 L520.71,538.15 L520.84,537.7 L520.97,537.25 L521.09,536.8 L521.21,536.35 L521.33,535.89 L521.44,535.44 L521.55,534.99 L521.66,534.54 L521.76,534.09 L521.86,533.64 L521.95,533.19 L522.05,532.74 L522.13,532.29 L522.22,531.84 L522.3,531.39 L522.38,530.94 L522.45,530.48 L522.52,530.03 L522.59,529.58 L522.65,529.13 L522.72,528.68 L522.78,528.23 L522.83,527.78 L522.88,527.33 L522.94,526.88 L522.98,526.43 L523.03,525.98 L523.07,525.53 L523.11,525.07 L523.15,524.62 L523.19,524.17 L523.22,523.72 L523.25,523.27 L523.29,522.82 L523.31,522.37 L523.34,521.92 L523.37,521.47 L523.39,521.02 L523.41,520.57 L523.43,520.12 L523.45,519.66 L523.47,519.21 L523.49,518.76 L523.51,518.31 L523.52,517.86 L523.53,517.41 L523.55,516.96 L523.56,516.51 L523.57,516.06 L523.58,515.61 L523.59,515.16 L523.6,514.71 L523.61,514.25 L523.62,513.8 L523.62,513.35 L523.63,512.9 L523.64,512.45 L523.64,512 Z" fill="#add8e6" stroke="#333" stroke-width="0.7"/>
<line x1="523.7" y1="504.5" x2="523.7" y2="601.8" stroke="#222" stroke-width="0.7"/>
<rect x="522.45" y="551.8" width="2.5" height="19.2" fill="#000"/>
<ellipse cx="523.7" cy="562.7" rx="1.7" ry="1.25" fill="#fff"/>
<path d="M551.28,492 L551.3,492.64 L551.31,493.28 L551.33,493.92 L551.35,494.56 L551.37,495.2 L551.39,495.83 L551.42,496.47 L551.44,497.11 L551.47,497.75 L551.5,498.39 L551.53,499.03 L551.56,499.67 L551.6,500.31 L551.63,500.95 L551.67,501.59 L551.71,502.23 L551.76,502.86 L551.8,503.5 L551.85,504.14 L551.91,504.78 L551.96,505.42 L552.02,506.06 L552.08,506.7 L552.14,507.34 L552.21,507.98 L552.28,508.62 L552.35,509.26 L552.43,509.89 L552.51,510.53 L552.6,511.17 L552.69,511.81 L552.78,512.45 L552.88,513.09 L552.98,513.73 L553.08,514.37 L553.19,515.01 L553.3,515.65 L553.42,516.29 L553.54,516.93 L553.66,517.56 L553.79,518.2 L553.92,518.84 L554.06,519.48 L554.2,520.12 L554.35,520.76 L554.5,521.4 L554.65,522.04 L554.8,522.68 L554.96,523.32 L555.13,523.96 L555.29,524.59 L555.46,525.23 L555.64,525.87 L555.81,526.51 L555.99,527.15 L556.17,527.79 L556.36,528.43 L556.54,529.07 L556.73,529.71 L556.92,530.35 L557.11,530.99 L557.3,531.62 L557.49,532.26 L557.68,532.9 L557.87,533.54 L558.07,534.18 L558.26,534.82 L558.45,535.46 L558.64,536.1 L558.82,536.74 L559.01,537.38 L559.19,538.02 L559.37,538.65 L559.55,539.29 L559.72,539.93 L559.89,540.57 L560.06,541.21 L560.22,541.85 L560.37,542.49 L560.52,543.13 L560.67,543.77 L560.81,544.41 L560.94,545.05 L561.07,545.68 L561.18,546.32 L561.3,546.96 L561.4,547.6 L561.5,548.24 L561.59,548.88 L561.67,549.52 L561.74,550.16 L561.8,550.8 L561.86,551.44 L561.9,552.08 L561.94,552.72 L561.97,553.35 L561.99,553.99 L562,554.63 L562,555.27 L561.99,555.91 L561.97,556.55 L561.94,557.19 L561.9,557.83 L561.85,558.47 L561.78,559.11 L561.71,559.75 L561.63,560.38 L561.54,561.02 L561.44,561.66 L561.33,562.3 L561.21,562.94 L561.09,563.58 L560.95,564.22 L560.81,564.86 L560.66,565.5 L560.5,566.14 L560.34,566.78 L560.17,567.41 L560,568.05 L559.82,568.69 L559.64,569.33 L559.45,569.97 L559.26,570.61 L559.06,571.25 L558.86,571.89 L558.66,572.53 L558.46,573.17 L558.26,573.81 L558.05,574.44 L557.85,575.08 L557.64,575.72 L557.43,576.36 L557.23,577 L557.02,577.64 L556.82,578.28 L556.62,578.92 L556.42,579.56 L556.22,580.2 L556.03,580.84 L555.83,581.47 L555.65,582.11 L555.46,582.75 L555.28,583.39 L555.1,584.03 L554.92,584.67 L554.75,585.31 L554.59,585.95 L554.43,586.59 L554.27,587.23 L554.12,587.87 L553.97,588.51 L553.82,589.14 L553.68,589.78 L553.55,590.42 L553.42,591.06 L553.3,591.7 L553.17,592.34 L553.06,592.98 L552.95,593.62 L552.84,594.26 L552.74,594.9 L552.64,595.54 L552.55,596.17 L552.46,596.81 L552.38,597.45 L552.3,598.09 L552.22,598.73 L552.15,599.37 L552.08,600.01 L552.01,600.65 L551.95,601.29 L551.89,601.93 L551.84,602.57 L551.79,603.2 L551.74,603.84 L551.69,604.48 L551.65,605.12 L551.61,605.76 L551.7,606.4 L550.5,606.4 L550.59,605.76 L550.55,605.12 L550.51,604.48 L550.46,603.84 L550.41,603.2 L550.36,602.57 L550.31,601.93 L550.25,601.29 L550.19,600.65 L550.12,600.01 L550.05,599.37 L549.98,598.73 L549.9,598.09 L549.82,597.45 L549.74,596.81 L549.65,596.17 L549.56,595.54 L549.46,594.9 L549.36,594.26 L549.25,593.62 L549.14,592.98 L549.03,592.34 L548.9,591.7 L548.78,591.06 L548.65,590.42 L548.52,589.78 L548.38,589.14 L548.23,588.51 L548.08,587.87 L547.93,587.23 L547.77,586.59 L547.61,585.95 L547.45,585.31 L547.28,584.67 L547.1,584.03 L546.92,583.39 L546.74,582.75 L546.55,582.11 L546.37,581.47 L546.17,580.84 L545.98,580.2 L545.78,579.56 L545.58,578.92 L545.38,578.28 L545.18,577.64 L544.97,577 L544.77,576.36 L544.56,575.72 L544.35,575.08 L544.15,574.44 L543.94,573.81 L543.74,573.17 L543.54,572.53 L543.34,571.89 L543.14,571.25 L542.94,570.61 L542.75,569.97 L542.56,569.33 L542.38,568.69 L542.2,568.05 L542.03,567.41 L541.86,566.78 L541.7,566.14 L541.54,565.5 L541.39,564.86 L541.25,564.22 L541.11,563.58 L540.99,562.94 L540.87,562.3 L540.76,561.66 L540.66,561.02 L540.57,560.38 L540.49,559.75 L540.42,559.11 L540.35,558.47 L540.3,557.83 L540.26,557.19 L540.23,556.55 L540.21,555.91 L540.2,555.27 L540.2,554.63 L540.21,553.99 L540.23,553.35 L540.26,552.72 L540.3,552.08 L540.34,551.44 L540.4,550.8 L540.46,550.16 L540.53,549.52 L540.61,548.88 L540.7,548.24 L540.8,547.6 L540.9,546.96 L541.02,546.32 L541.13,545.68 L541.26,545.05 L541.39,544.41 L541.53,543.77 L541.68,543.13 L541.83,542.49 L541.98,541.85 L542.14,541.21 L542.31,540.57 L542.48,539.93 L542.65,539.29 L542.83,538.65 L543.01,538.02 L543.19,537.38 L543.38,536.74 L543.56,536.1 L543.75,535.46 L543.94,534.82 L544.13,534.18 L544.33,533.54 L544.52,532.9 L544.71,532.26 L544.9,531.62 L545.09,530.99 L545.28,530.35 L545.47,529.71 L545.66,529.07 L545.84,528.43 L546.03,527.79 L546.21,527.15 L546.39,526.51 L546.56,525.87 L546.74,525.23 L546.91,524.59 L547.07,523.96 L547.24,523.32 L547.4,522.68 L547.55,522.04 L547.7,521.4 L547.85,520.76 L548,520.12 L548.14,519.48 L548.28,518.84 L548.41,518.2 L548.54,517.56 L548.66,516.93 L548.78,516.29 L548.9,515.65 L549.01,515.01 L549.12,514.37 L549.22,513.73 L549.32,513.09 L549.42,512.45 L549.51,511.81 L549.6,511.17 L549.69,510.53 L549.77,509.89 L549.85,509.26 L549.92,508.62 L549.99,507.98 L550.06,507.34 L550.12,506.7 L550.18,506.06 L550.24,505.42 L550.29,504.78 L550.35,504.14 L550.4,503.5 L550.44,502.86 L550.49,502.23 L550.53,501.59 L550.57,500.95 L550.6,500.31 L550.64,499.67 L550.67,499.03 L550.7,498.39 L550.73,497.75 L550.76,497.11 L550.78,496.47 L550.81,495.83 L550.83,495.2 L550.85,494.56 L550.87,493.92 L550.89,493.28 L550.9,492.64 L550.92,492 Z" fill="#ffa500" stroke="#333" stroke-width="0.7"/>
<line x1="551.1" y1="484.2" x2="551.1" y2="606.4" stroke="#222" stroke-width="0.7"/>
<rect x="549.85" y="544.6" width="2.5" height="22.7" fill="#000"/>
<ellipse cx="551.1" cy="556.2" rx="1.7" ry="1.25" fill="#fff"/>
<path d="M578.16,500 L578.18,500.51 L578.2,501.01 L578.22,501.52 L578.25,502.02 L578.28,502.53 L578.32,503.03 L578.36,503.54 L578.41,504.04 L578.47,504.55 L578.53,505.06 L578.6,505.56 L578.67,506.07 L578.75,506.57 L578.83,507.08 L578.92,507.58 L579.01,508.09 L579.1,508.59 L579.19,509.1 L579.28,509.61 L579.36,510.11 L579.44,510.62 L579.52,511.12 L579.58,511.63 L579.64,512.13 L579.69,512.64 L579.72,513.15 L579.74,513.65 L579.75,514.16 L579.74,514.66 L579.73,515.17 L579.7,515.67 L579.66,516.18 L579.61,516.68 L579.55,517.19 L579.49,517.7 L579.42,518.2 L579.35,518.71 L579.28,519.21 L579.21,519.72 L579.14,520.22 L579.08,520.73 L579.02,521.23 L578.96,521.74 L578.92,522.25 L578.88,522.75 L578.85,523.26 L578.83,523.76 L578.82,524.27 L578.82,524.77 L578.83,525.28 L578.84,525.78 L578.87,526.29 L578.9,526.8 L578.95,527.3 L579,527.81 L579.06,528.31 L579.12,528.82 L579.2,529.32 L579.28,529.83 L579.37,530.34 L579.46,530.84 L579.57,531.35 L579.68,531.85 L579.79,532.36 L579.92,532.86 L580.05,533.37 L580.19,533.87 L580.33,534.38 L580.48,534.89 L580.64,535.39 L580.81,535.9 L580.98,536.4 L581.16,536.91 L581.35,537.41 L581.54,537.92 L581.74,538.42 L581.95,538.93 L582.16,539.44 L582.38,539.94 L582.6,540.45 L582.83,540.95 L583.06,541.46 L583.29,541.96 L583.54,542.47 L583.78,542.97 L584.02,543.48 L584.27,543.99 L584.52,544.49 L584.77,545 L585.02,545.5 L585.27,546.01 L585.52,546.51 L585.76,547.02 L586,547.53 L586.24,548.03 L586.48,548.54 L586.71,549.04 L586.93,549.55 L587.14,550.05 L587.35,550.56 L587.55,551.06 L587.74,551.57 L587.92,552.08 L588.09,552.58 L588.25,553.09 L588.4,553.59 L588.53,554.1 L588.65,554.6 L588.76,555.11 L588.85,555.61 L588.93,556.12 L588.99,556.63 L589.04,557.13 L589.08,557.64 L589.1,558.14 L589.1,558.65 L589.09,559.15 L589.06,559.66 L589.02,560.16 L588.96,560.67 L588.89,561.18 L588.8,561.68 L588.7,562.19 L588.58,562.69 L588.45,563.2 L588.31,563.7 L588.16,564.21 L587.99,564.72 L587.82,565.22 L587.63,565.73 L587.44,566.23 L587.23,566.74 L587.02,567.24 L586.8,567.75 L586.57,568.25 L586.34,568.76 L586.1,569.27 L585.86,569.77 L585.62,570.28 L585.37,570.78 L585.12,571.29 L584.87,571.79 L584.62,572.3 L584.37,572.8 L584.13,573.31 L583.88,573.82 L583.64,574.32 L583.39,574.83 L583.16,575.33 L582.92,575.84 L582.69,576.34 L582.47,576.85 L582.25,577.35 L582.03,577.86 L581.83,578.37 L581.62,578.87 L581.43,579.38 L581.24,579.88 L581.06,580.39 L580.88,580.89 L580.71,581.4 L580.55,581.91 L580.39,582.41 L580.24,582.92 L580.1,583.42 L579.97,583.93 L579.84,584.43 L579.72,584.94 L579.6,585.44 L579.49,585.95 L579.39,586.46 L579.29,586.96 L579.2,587.47 L579.12,587.97 L579.03,588.48 L578.96,588.98 L578.89,589.49 L578.82,589.99 L579.6,590.5 L576.6,590.5 L577.38,589.99 L577.31,589.49 L577.24,588.98 L577.17,588.48 L577.08,587.97 L577,587.47 L576.91,586.96 L576.81,586.46 L576.71,585.95 L576.6,585.44 L576.48,584.94 L576.36,584.43 L576.23,583.93 L576.1,583.42 L575.96,582.92 L575.81,582.41 L575.65,581.91 L575.49,581.4 L575.32,580.89 L575.14,580.39 L574.96,579.88 L574.77,579.38 L574.58,578.87 L574.37,578.37 L574.17,577.86 L573.95,577.35 L573.73,576.85 L573.51,576.34 L573.28,575.84 L573.04,575.33 L572.81,574.83 L572.56,574.32 L572.32,573.82 L572.07,573.31 L571.83,572.8 L571.58,572.3 L571.33,571.79 L571.08,571.29 L570.83,570.78 L570.58,570.28 L570.34,569.77 L570.1,569.27 L569.86,568.76 L569.63,568.25 L569.4,567.75 L569.18,567.24 L568.97,566.74 L568.76,566.23 L568.57,565.73 L568.38,565.22 L568.21,564.72 L568.04,564.21 L567.89,563.7 L567.75,563.2 L567.62,562.69 L567.5,562.19 L567.4,561.68 L567.31,561.18 L567.24,560.67 L567.18,560.16 L567.14,559.66 L567.11,559.15 L567.1,558.65 L567.1,558.14 L567.12,557.64 L567.16,557.13 L567.21,556.63 L567.27,556.12 L567.35,555.61 L567.44,555.11 L567.55,554.6 L567.67,554.1 L567.8,553.59 L567.95,553.09 L568.11,552.58 L568.28,552.08 L568.46,551.57 L568.65,551.06 L568.85,550.56 L569.06,550.05 L569.27,549.55 L569.49,549.04 L569.72,548.54 L569.96,548.03 L570.2,547.53 L570.44,547.02 L570.68,546.51 L570.93,546.01 L571.18,545.5 L571.43,545 L571.68,544.49 L571.93,543.99 L572.18,543.48 L572.42,542.97 L572.66,542.47 L572.91,541.96 L573.14,541.46 L573.37,540.95 L573.6,540.45 L573.82,539.94 L574.04,539.44 L574.25,538.93 L574.46,538.42 L574.66,537.92 L574.85,537.41 L575.04,536.91 L575.22,536.4 L575.39,535.9 L575.56,535.39 L575.72,534.89 L575.87,534.38 L576.01,533.87 L576.15,533.37 L576.28,532.86 L576.41,532.36 L576.52,531.85 L576.63,531.35 L576.74,530.84 L576.83,530.34 L576.92,529.83 L577,529.32 L577.08,528.82 L577.14,528.31 L577.2,527.81 L577.25,527.3 L577.3,526.8 L577.33,526.29 L577.36,525.78 L577.37,525.28 L577.38,524.77 L577.38,524.27 L577.37,523.76 L577.35,523.26 L577.32,522.75 L577.28,522.25 L577.24,521.74 L577.18,521.23 L577.12,520.73 L577.06,520.22 L576.99,519.72 L576.92,519.21 L576.85,518.71 L576.78,518.2 L576.71,517.7 L576.65,517.19 L576.59,516.68 L576.54,516.18 L576.5,515.67 L576.47,515.17 L576.46,514.66 L576.45,514.16 L576.46,513.65 L576.48,513.15 L576.51,512.64 L576.56,512.13 L576.62,511.63 L576.68,511.12 L576.76,510.62 L576.84,510.11 L576.92,509.61 L577.01,509.1 L577.1,508.59 L577.19,508.09 L577.28,507.58 L577.37,507.08 L577.45,506.57 L577.53,506.07 L577.6,505.56 L577.67,505.06 L577.73,504.55 L577.79,504.04 L577.84,503.54 L577.88,503.03 L577.92,502.53 L577.95,502.02 L577.98,501.52 L578,501.01 L578.02,500.51 L578.04,500 Z" fill="#add8e6" stroke="#333" stroke-width="0.7"/>
<line x1="578.1" y1="488" x2="578.1" y2="590.5" stroke="#222" stroke-width="0.7"/>
<rect x="576.85" y="551.9" width="2.5" height="17.2" fill="#000"/>
<ellipse cx="578.1" cy="558.8" rx="1.7" ry="1.25" fill="#fff"/>
<path d="M605.55,503 L605.56,503.56 L605.58,504.13 L605.59,504.69 L605.61,505.25 L605.63,505.82 L605.65,506.38 L605.67,506.94 L605.69,507.51 L605.72,508.07 L605.74,508.63 L605.77,509.19 L605.8,509.76 L605.83,510.32 L605.87,510.88 L605.9,511.45 L605.94,512.01 L605.98,512.57 L606.02,513.14 L606.07,513.7 L606.12,514.26 L606.17,514.83 L606.22,515.39 L606.28,515.95 L606.34,516.52 L606.4,517.08 L606.47,517.64 L606.54,518.2 L606.62,518.77 L606.69,519.33 L606.78,519.89 L606.86,520.46 L606.95,521.02 L607.04,521.58 L607.14,522.15 L607.24,522.71 L607.35,523.27 L607.46,523.84 L607.57,524.4 L607.69,524.96 L607.82,525.53 L607.94,526.09 L608.08,526.65 L608.21,527.21 L608.35,527.78 L608.5,528.34 L608.65,528.9 L608.8,529.47 L608.96,530.03 L609.12,530.59 L609.29,531.16 L609.46,531.72 L609.63,532.28 L609.81,532.85 L609.99,533.41 L610.17,533.97 L610.36,534.54 L610.54,535.1 L610.74,535.66 L610.93,536.22 L611.12,536.79 L611.32,537.35 L611.52,537.91 L611.72,538.48 L611.92,539.04 L612.12,539.6 L612.32,540.17 L612.53,540.73 L612.73,541.29 L612.93,541.86 L613.12,542.42 L613.32,542.98 L613.51,543.55 L613.71,544.11 L613.89,544.67 L614.08,545.23 L614.26,545.8 L614.44,546.36 L614.61,546.92 L614.78,547.49 L614.94,548.05 L615.1,548.61 L615.25,549.18 L615.4,549.74 L615.53,550.3 L615.66,550.87 L615.79,551.43 L615.9,551.99 L616.01,552.56 L616.11,553.12 L616.2,553.68 L616.28,554.24 L616.36,554.81 L616.42,555.37 L616.47,555.93 L616.52,556.5 L616.55,557.06 L616.58,557.62 L616.59,558.19 L616.6,558.75 L616.6,559.31 L616.58,559.88 L616.55,560.44 L616.51,561 L616.46,561.57 L616.4,562.13 L616.33,562.69 L616.24,563.25 L616.15,563.82 L616.04,564.38 L615.93,564.94 L615.81,565.51 L615.67,566.07 L615.53,566.63 L615.38,567.2 L615.22,567.76 L615.06,568.32 L614.89,568.89 L614.71,569.45 L614.52,570.01 L614.33,570.58 L614.14,571.14 L613.93,571.7 L613.73,572.26 L613.52,572.83 L613.31,573.39 L613.1,573.95 L612.88,574.52 L612.67,575.08 L612.45,575.64 L612.23,576.21 L612.01,576.77 L611.79,577.33 L611.58,577.9 L611.36,578.46 L611.14,579.02 L610.93,579.59 L610.72,580.15 L610.51,580.71 L610.31,581.27 L610.11,581.84 L609.91,582.4 L609.72,582.96 L609.53,583.53 L609.34,584.09 L609.16,584.65 L608.98,585.22 L608.81,585.78 L608.65,586.34 L608.48,586.91 L608.33,587.47 L608.18,588.03 L608.03,588.6 L607.89,589.16 L607.75,589.72 L607.62,590.28 L607.49,590.85 L607.37,591.41 L607.26,591.97 L607.15,592.54 L607.04,593.1 L606.94,593.66 L606.84,594.23 L606.75,594.79 L606.66,595.35 L606.58,595.92 L606.5,596.48 L606.43,597.04 L606.36,597.61 L606.29,598.17 L606.23,598.73 L606.17,599.29 L606.11,599.86 L606.06,600.42 L606.01,600.98 L605.97,601.55 L605.92,602.11 L605.88,602.67 L605.85,603.24 L606.4,603.8 L604.4,603.8 L604.95,603.24 L604.92,602.67 L604.88,602.11 L604.83,601.55 L604.79,600.98 L604.74,600.42 L604.69,599.86 L604.63,599.29 L604.57,598.73 L604.51,598.17 L604.44,597.61 L604.37,597.04 L604.3,596.48 L604.22,595.92 L604.14,595.35 L604.05,594.79 L603.96,594.23 L603.86,593.66 L603.76,593.1 L603.65,592.54 L603.54,591.97 L603.43,591.41 L603.31,590.85 L603.18,590.28 L603.05,589.72 L602.91,589.16 L602.77,588.6 L602.62,588.03 L602.47,587.47 L602.32,586.91 L602.15,586.34 L601.99,585.78 L601.82,585.22 L601.64,584.65 L601.46,584.09 L601.27,583.53 L601.08,582.96 L600.89,582.4 L600.69,581.84 L600.49,581.27 L600.29,580.71 L600.08,580.15 L599.87,579.59 L599.66,579.02 L599.44,578.46 L599.22,577.9 L599.01,577.33 L598.79,576.77 L598.57,576.21 L598.35,575.64 L598.13,575.08 L597.92,574.52 L597.7,573.95 L597.49,573.39 L597.28,572.83 L597.07,572.26 L596.87,571.7 L596.66,571.14 L596.47,570.58 L596.28,570.01 L596.09,569.45 L595.91,568.89 L595.74,568.32 L595.58,567.76 L595.42,567.2 L595.27,566.63 L595.13,566.07 L594.99,565.51 L594.87,564.94 L594.76,564.38 L594.65,563.82 L594.56,563.25 L594.47,562.69 L594.4,562.13 L594.34,561.57 L594.29,561 L594.25,560.44 L594.22,559.88 L594.2,559.31 L594.2,558.75 L594.21,558.19 L594.22,557.62 L594.25,557.06 L594.28,556.5 L594.33,555.93 L594.38,555.37 L594.44,554.81 L594.52,554.24 L594.6,553.68 L594.69,553.12 L594.79,552.56 L594.9,551.99 L595.01,551.43 L595.14,550.87 L595.27,550.3 L595.4,549.74 L595.55,549.18 L595.7,548.61 L595.86,548.05 L596.02,547.49 L596.19,546.92 L596.36,546.36 L596.54,545.8 L596.72,545.23 L596.91,544.67 L597.09,544.11 L597.29,543.55 L597.48,542.98 L597.68,542.42 L597.87,541.86 L598.07,541.29 L598.27,540.73 L598.48,540.17 L598.68,539.6 L598.88,539.04 L599.08,538.48 L599.28,537.91 L599.48,537.35 L599.68,536.79 L599.87,536.22 L600.06,535.66 L600.26,535.1 L600.44,534.54 L600.63,533.97 L600.81,533.41 L600.99,532.85 L601.17,532.28 L601.34,531.72 L601.51,531.16 L601.68,530.59 L601.84,530.03 L602,529.47 L602.15,528.9 L602.3,528.34 L602.45,527.78 L602.59,527.21 L602.72,526.65 L602.86,526.09 L602.98,525.53 L603.11,524.96 L603.23,524.4 L603.34,523.84 L603.45,523.27 L603.56,522.71 L603.66,522.15 L603.76,521.58 L603.85,521.02 L603.94,520.46 L604.02,519.89 L604.11,519.33 L604.18,518.77 L604.26,518.2 L604.33,517.64 L604.4,517.08 L604.46,516.52 L604.52,515.95 L604.58,515.39 L604.63,514.83 L604.68,514.26 L604.73,513.7 L604.78,513.14 L604.82,512.57 L604.86,512.01 L604.9,511.45 L604.93,510.88 L604.97,510.32 L605,509.76 L605.03,509.19 L605.06,508.63 L605.08,508.07 L605.11,507.51 L605.13,506.94 L605.15,506.38 L605.17,505.82 L605.19,505.25 L605.21,504.69 L605.22,504.13 L605.24,503.56 L605.25,503 Z" fill="#ffa500" stroke="#333" stroke-width="0.7"/>
<line x1="605.4" y1="498.3" x2="605.4" y2="603.8" stroke="#222" stroke-width="0.7"/>
<rect x="604.15" y="548.5" width="2.5" height="20.6" fill="#000"/>
<ellipse cx="605.4" cy="558.8" rx="1.7" ry="1.25" fill="#fff"/>
<path d="M633.6,506 L633.44,506.51 L633.51,507.02 L633.57,507.53 L633.63,508.04 L633.69,508.55 L633.73,509.06 L633.77,509.57 L633.8,510.08 L633.83,510.6 L633.84,511.11 L633.85,511.62 L633.85,512.13 L633.84,512.64 L633.82,513.15 L633.8,513.66 L633.77,514.17 L633.73,514.68 L633.7,515.19 L633.66,515.7 L633.62,516.21 L633.58,516.72 L633.54,517.23 L633.51,517.74 L633.47,518.25 L633.45,518.77 L633.42,519.28 L633.4,519.79 L633.39,520.3 L633.39,520.81 L633.39,521.32 L633.4,521.83 L633.42,522.34 L633.44,522.85 L633.47,523.36 L633.51,523.87 L633.55,524.38 L633.61,524.89 L633.66,525.4 L633.73,525.91 L633.8,526.42 L633.87,526.94 L633.95,527.45 L634.04,527.96 L634.13,528.47 L634.23,528.98 L634.33,529.49 L634.44,530 L634.56,530.51 L634.67,531.02 L634.8,531.53 L634.92,532.04 L635.06,532.55 L635.19,533.06 L635.33,533.57 L635.48,534.08 L635.63,534.59 L635.79,535.11 L635.95,535.62 L636.11,536.13 L636.28,536.64 L636.45,537.15 L636.62,537.66 L636.8,538.17 L636.99,538.68 L637.17,539.19 L637.36,539.7 L637.55,540.21 L637.74,540.72 L637.94,541.23 L638.14,541.74 L638.34,542.25 L638.54,542.76 L638.74,543.27 L638.95,543.79 L639.15,544.3 L639.36,544.81 L639.56,545.32 L639.76,545.83 L639.96,546.34 L640.16,546.85 L640.36,547.36 L640.56,547.87 L640.75,548.38 L640.94,548.89 L641.13,549.4 L641.31,549.91 L641.49,550.42 L641.67,550.93 L641.84,551.44 L642,551.96 L642.16,552.47 L642.31,552.98 L642.45,553.49 L642.59,554 L642.72,554.51 L642.84,555.02 L642.95,555.53 L643.06,556.04 L643.15,556.55 L643.24,557.06 L643.32,557.57 L643.39,558.08 L643.45,558.59 L643.5,559.1 L643.54,559.61 L643.57,560.13 L643.59,560.64 L643.6,561.15 L643.6,561.66 L643.59,562.17 L643.56,562.68 L643.53,563.19 L643.48,563.7 L643.42,564.21 L643.35,564.72 L643.26,565.23 L643.17,565.74 L643.06,566.25 L642.95,566.76 L642.82,567.27 L642.69,567.78 L642.54,568.29 L642.39,568.81 L642.23,569.32 L642.06,569.83 L641.88,570.34 L641.7,570.85 L641.51,571.36 L641.32,571.87 L641.11,572.38 L640.91,572.89 L640.7,573.4 L640.49,573.91 L640.27,574.42 L640.05,574.93 L639.83,575.44 L639.61,575.95 L639.38,576.46 L639.16,576.98 L638.94,577.49 L638.71,578 L638.49,578.51 L638.27,579.02 L638.05,579.53 L637.84,580.04 L637.62,580.55 L637.41,581.06 L637.2,581.57 L637,582.08 L636.8,582.59 L636.6,583.1 L636.41,583.61 L636.22,584.12 L636.04,584.63 L635.86,585.15 L635.69,585.66 L635.52,586.17 L635.36,586.68 L635.21,587.19 L635.06,587.7 L634.91,588.21 L634.77,588.72 L634.63,589.23 L634.51,589.74 L634.38,590.25 L634.26,590.76 L634.15,591.27 L634.04,591.78 L633.94,592.29 L633.84,592.8 L633.74,593.32 L633.66,593.83 L633.57,594.34 L633.49,594.85 L633.42,595.36 L633.34,595.87 L633.28,596.38 L633.21,596.89 L634,597.4 L630.8,597.4 L631.59,596.89 L631.52,596.38 L631.46,595.87 L631.38,595.36 L631.31,594.85 L631.23,594.34 L631.14,593.83 L631.06,593.32 L630.96,592.8 L630.86,592.29 L630.76,591.78 L630.65,591.27 L630.54,590.76 L630.42,590.25 L630.29,589.74 L630.17,589.23 L630.03,588.72 L629.89,588.21 L629.74,587.7 L629.59,587.19 L629.44,586.68 L629.28,586.17 L629.11,585.66 L628.94,585.15 L628.76,584.63 L628.58,584.12 L628.39,583.61 L628.2,583.1 L628,582.59 L627.8,582.08 L627.6,581.57 L627.39,581.06 L627.18,580.55 L626.96,580.04 L626.75,579.53 L626.53,579.02 L626.31,578.51 L626.09,578 L625.86,577.49 L625.64,576.98 L625.42,576.46 L625.19,575.95 L624.97,575.44 L624.75,574.93 L624.53,574.42 L624.31,573.91 L624.1,573.4 L623.89,572.89 L623.69,572.38 L623.48,571.87 L623.29,571.36 L623.1,570.85 L622.92,570.34 L622.74,569.83 L622.57,569.32 L622.41,568.81 L622.26,568.29 L622.11,567.78 L621.98,567.27 L621.85,566.76 L621.74,566.25 L621.63,565.74 L621.54,565.23 L621.45,564.72 L621.38,564.21 L621.32,563.7 L621.27,563.19 L621.24,562.68 L621.21,562.17 L621.2,561.66 L621.2,561.15 L621.21,560.64 L621.23,560.13 L621.26,559.61 L621.3,559.1 L621.35,558.59 L621.41,558.08 L621.48,557.57 L621.56,557.06 L621.65,556.55 L621.74,556.04 L621.85,555.53 L621.96,555.02 L622.08,554.51 L622.21,554 L622.35,553.49 L622.49,552.98 L622.64,552.47 L622.8,551.96 L622.96,551.44 L623.13,550.93 L623.31,550.42 L623.49,549.91 L623.67,549.4 L623.86,548.89 L624.05,548.38 L624.24,547.87 L624.44,547.36 L624.64,546.85 L624.84,546.34 L625.04,545.83 L625.24,545.32 L625.44,544.81 L625.65,544.3 L625.85,543.79 L626.06,543.27 L626.26,542.76 L626.46,542.25 L626.66,541.74 L626.86,541.23 L627.06,540.72 L627.25,540.21 L627.44,539.7 L627.63,539.19 L627.81,538.68 L628,538.17 L628.18,537.66 L628.35,537.15 L628.52,536.64 L628.69,536.13 L628.85,535.62 L629.01,535.11 L629.17,534.59 L629.32,534.08 L629.47,533.57 L629.61,533.06 L629.74,532.55 L629.88,532.04 L630,531.53 L630.13,531.02 L630.24,530.51 L630.36,530 L630.47,529.49 L630.57,528.98 L630.67,528.47 L630.76,527.96 L630.85,527.45 L630.93,526.94 L631,526.42 L631.07,525.91 L631.14,525.4 L631.19,524.89 L631.25,524.38 L631.29,523.87 L631.33,523.36 L631.36,522.85 L631.38,522.34 L631.4,521.83 L631.41,521.32 L631.41,520.81 L631.41,520.3 L631.4,519.79 L631.38,519.28 L631.35,518.77 L631.33,518.25 L631.29,517.74 L631.26,517.23 L631.22,516.72 L631.18,516.21 L631.14,515.7 L631.1,515.19 L631.07,514.68 L631.03,514.17 L631,513.66 L630.98,513.15 L630.96,512.64 L630.95,512.13 L630.95,511.62 L630.96,511.11 L630.97,510.6 L631,510.08 L631.03,509.57 L631.07,509.06 L631.11,508.55 L631.17,508.04 L631.23,507.53 L631.29,507.02 L631.36,506.51 L631.2,506 Z" fill="#add8e6" stroke="#333" stroke-width="0.7"/>
<line x1="632.4" y1="506" x2="632.4" y2="597.4" stroke="#222" stroke-width="0.7"/>
<rect x="631.15" y="549.8" width="2.5" height="20.1" fill="#000"/>
<ellipse cx="632.4" cy="560.6" rx="1.7" ry="1.25" fill="#fff"/>
</svg>
</body></html>
